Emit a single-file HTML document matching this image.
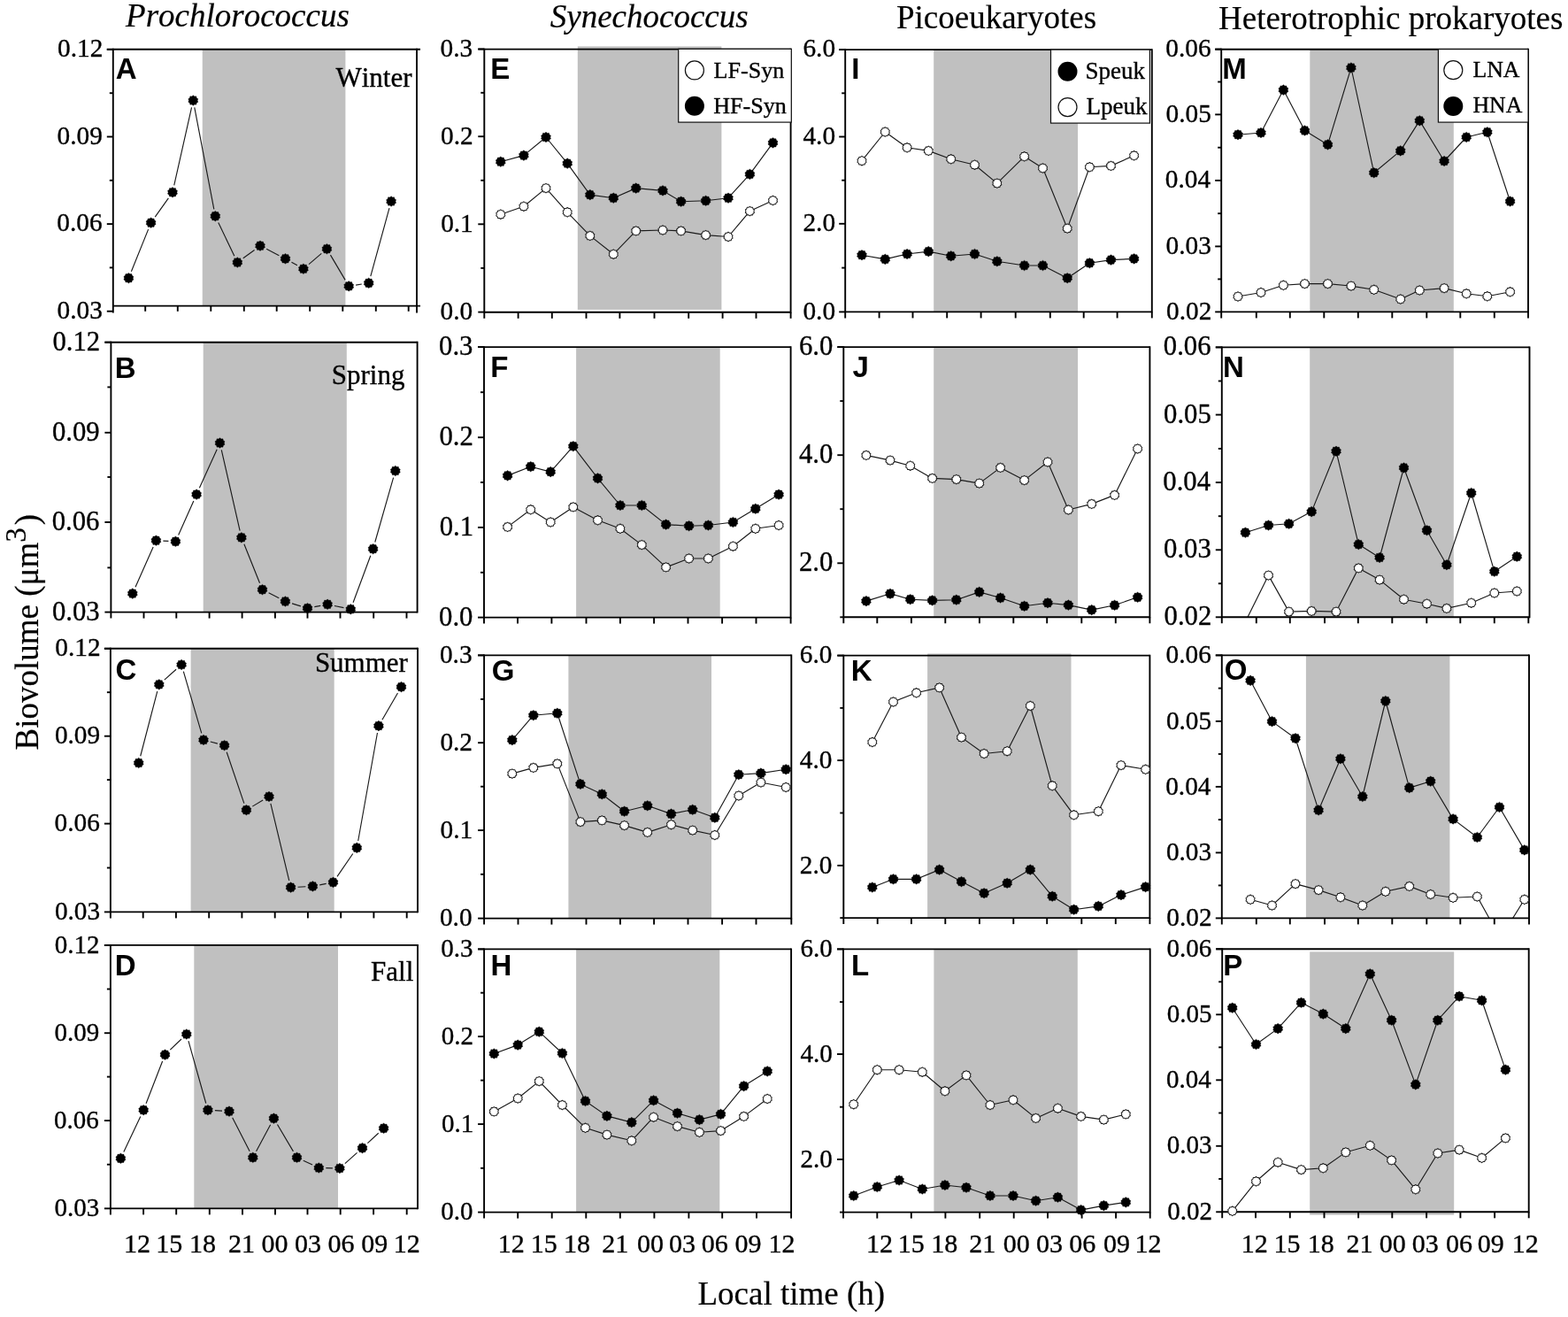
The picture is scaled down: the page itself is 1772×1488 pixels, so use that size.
<!DOCTYPE html>
<html><head><meta charset="utf-8"><title>Biovolume diel variation</title>
<style>html,body{margin:0;padding:0;background:#fff;}svg{display:block;font-kerning:none;}
.s{font-family:'Liberation Serif','Times New Roman',serif;stroke:#000;stroke-width:0.35;}
.i{font-style:italic;}
.n{stroke-width:0.2;}
.b{font-family:'Liberation Sans',Arial,sans-serif;font-weight:bold;}</style></head>
<body><svg width="1772" height="1488" viewBox="0 0 1772 1488">
<rect width="1772" height="1488" fill="#fff"/>
<rect x="228.75" y="55.8" width="161.65" height="289.8" fill="#c0c0c0"/>
<clipPath id="cA"><rect x="127.8" y="55.8" width="343.2" height="289.8"/></clipPath>
<path d="M148.39 306.78L167.61 259.12M175.23 245.17L190.37 223.83M196.75 209.49L216.55 121.31M219.8 121.36L241.8 236.34M246.75 251.42L264.85 289.28M274.76 291.78L287.54 282.42M301.12 281.35L315.38 288.65M329.48 296.22L335.92 299.83M349 298.57L363.3 286.43M373.46 288.14L390.14 316.41M402.1 322.07L408.8 321.03M418.82 312.09L439.98 235.21" stroke="#1a1a1a" stroke-width="1.15" fill="none" clip-path="url(#cA)"/>
<line x1="120.8" y1="55.8" x2="475" y2="55.8" stroke="#000" stroke-width="1.9" stroke-linecap="butt"/>
<line x1="127.8" y1="54.85" x2="127.8" y2="353.6" stroke="#000" stroke-width="1.9" stroke-linecap="butt"/>
<line x1="471" y1="54.85" x2="471" y2="353.6" stroke="#000" stroke-width="1.9" stroke-linecap="butt"/>
<line x1="127.8" y1="345.6" x2="475" y2="345.6" stroke="#000" stroke-width="1.9" stroke-linecap="butt"/>
<line x1="120.8" y1="55.9" x2="127.8" y2="55.9" stroke="#000" stroke-width="1.9" stroke-linecap="butt"/>
<text class="s" x="65.04" y="64.2" font-size="29.3">0.12</text>
<line x1="120.8" y1="154.5" x2="127.8" y2="154.5" stroke="#000" stroke-width="1.9" stroke-linecap="butt"/>
<text class="s" x="64.6" y="162.8" font-size="29.3">0.09</text>
<line x1="120.8" y1="253.1" x2="127.8" y2="253.1" stroke="#000" stroke-width="1.9" stroke-linecap="butt"/>
<text class="s" x="64.3" y="261.4" font-size="29.3">0.06</text>
<line x1="120.8" y1="351.7" x2="127.8" y2="351.7" stroke="#000" stroke-width="1.9" stroke-linecap="butt"/>
<text class="s" x="64.6" y="360" font-size="29.3">0.03</text>
<line x1="123.8" y1="105.2" x2="127.8" y2="105.2" stroke="#000" stroke-width="1.9" stroke-linecap="butt"/>
<line x1="123.8" y1="203.8" x2="127.8" y2="203.8" stroke="#000" stroke-width="1.9" stroke-linecap="butt"/>
<line x1="123.8" y1="302.4" x2="127.8" y2="302.4" stroke="#000" stroke-width="1.9" stroke-linecap="butt"/>
<line x1="164.2" y1="345.6" x2="164.2" y2="351.8" stroke="#000" stroke-width="1.9" stroke-linecap="butt"/>
<line x1="200.8" y1="345.6" x2="200.8" y2="351.8" stroke="#000" stroke-width="1.9" stroke-linecap="butt"/>
<line x1="238.3" y1="345.6" x2="238.3" y2="351.8" stroke="#000" stroke-width="1.9" stroke-linecap="butt"/>
<line x1="275.8" y1="345.6" x2="275.8" y2="351.8" stroke="#000" stroke-width="1.9" stroke-linecap="butt"/>
<line x1="312.7" y1="345.6" x2="312.7" y2="351.8" stroke="#000" stroke-width="1.9" stroke-linecap="butt"/>
<line x1="350.2" y1="345.6" x2="350.2" y2="351.8" stroke="#000" stroke-width="1.9" stroke-linecap="butt"/>
<line x1="387.3" y1="345.6" x2="387.3" y2="351.8" stroke="#000" stroke-width="1.9" stroke-linecap="butt"/>
<line x1="424.8" y1="345.6" x2="424.8" y2="351.8" stroke="#000" stroke-width="1.9" stroke-linecap="butt"/>
<line x1="461.7" y1="345.6" x2="461.7" y2="351.8" stroke="#000" stroke-width="1.9" stroke-linecap="butt"/>
<path d="M145.4 308.4l1.5 1.19 1.91 -0.08 0.51 1.84 1.59 1.06 -0.67 1.79 0.67 1.79 -1.59 1.06 -0.51 1.84 -1.91 -0.08 -1.5 1.19 -1.5 -1.19 -1.91 0.08 -0.51 -1.84 -1.59 -1.06 0.67 -1.79 -0.67 -1.79 1.59 -1.06 0.51 -1.84 1.91 0.08zM170.6 245.9l1.5 1.19 1.91 -0.08 0.51 1.84 1.59 1.06 -0.67 1.79 0.67 1.79 -1.59 1.06 -0.51 1.84 -1.91 -0.08 -1.5 1.19 -1.5 -1.19 -1.91 0.08 -0.51 -1.84 -1.59 -1.06 0.67 -1.79 -0.67 -1.79 1.59 -1.06 0.51 -1.84 1.91 0.08zM195 211.5l1.5 1.19 1.91 -0.08 0.51 1.84 1.59 1.06 -0.67 1.79 0.67 1.79 -1.59 1.06 -0.51 1.84 -1.91 -0.08 -1.5 1.19 -1.5 -1.19 -1.91 0.08 -0.51 -1.84 -1.59 -1.06 0.67 -1.79 -0.67 -1.79 1.59 -1.06 0.51 -1.84 1.91 0.08zM218.3 107.7l1.5 1.19 1.91 -0.08 0.51 1.84 1.59 1.06 -0.67 1.79 0.67 1.79 -1.59 1.06 -0.51 1.84 -1.91 -0.08 -1.5 1.19 -1.5 -1.19 -1.91 0.08 -0.51 -1.84 -1.59 -1.06 0.67 -1.79 -0.67 -1.79 1.59 -1.06 0.51 -1.84 1.91 0.08zM243.3 238.4l1.5 1.19 1.91 -0.08 0.51 1.84 1.59 1.06 -0.67 1.79 0.67 1.79 -1.59 1.06 -0.51 1.84 -1.91 -0.08 -1.5 1.19 -1.5 -1.19 -1.91 0.08 -0.51 -1.84 -1.59 -1.06 0.67 -1.79 -0.67 -1.79 1.59 -1.06 0.51 -1.84 1.91 0.08zM268.3 290.7l1.5 1.19 1.91 -0.08 0.51 1.84 1.59 1.06 -0.67 1.79 0.67 1.79 -1.59 1.06 -0.51 1.84 -1.91 -0.08 -1.5 1.19 -1.5 -1.19 -1.91 0.08 -0.51 -1.84 -1.59 -1.06 0.67 -1.79 -0.67 -1.79 1.59 -1.06 0.51 -1.84 1.91 0.08zM294 271.9l1.5 1.19 1.91 -0.08 0.51 1.84 1.59 1.06 -0.67 1.79 0.67 1.79 -1.59 1.06 -0.51 1.84 -1.91 -0.08 -1.5 1.19 -1.5 -1.19 -1.91 0.08 -0.51 -1.84 -1.59 -1.06 0.67 -1.79 -0.67 -1.79 1.59 -1.06 0.51 -1.84 1.91 0.08zM322.5 286.5l1.5 1.19 1.91 -0.08 0.51 1.84 1.59 1.06 -0.67 1.79 0.67 1.79 -1.59 1.06 -0.51 1.84 -1.91 -0.08 -1.5 1.19 -1.5 -1.19 -1.91 0.08 -0.51 -1.84 -1.59 -1.06 0.67 -1.79 -0.67 -1.79 1.59 -1.06 0.51 -1.84 1.91 0.08zM342.9 297.95l1.5 1.19 1.91 -0.08 0.51 1.84 1.59 1.06 -0.67 1.79 0.67 1.79 -1.59 1.06 -0.51 1.84 -1.91 -0.08 -1.5 1.19 -1.5 -1.19 -1.91 0.08 -0.51 -1.84 -1.59 -1.06 0.67 -1.79 -0.67 -1.79 1.59 -1.06 0.51 -1.84 1.91 0.08zM369.4 275.45l1.5 1.19 1.91 -0.08 0.51 1.84 1.59 1.06 -0.67 1.79 0.67 1.79 -1.59 1.06 -0.51 1.84 -1.91 -0.08 -1.5 1.19 -1.5 -1.19 -1.91 0.08 -0.51 -1.84 -1.59 -1.06 0.67 -1.79 -0.67 -1.79 1.59 -1.06 0.51 -1.84 1.91 0.08zM394.2 317.5l1.5 1.19 1.91 -0.08 0.51 1.84 1.59 1.06 -0.67 1.79 0.67 1.79 -1.59 1.06 -0.51 1.84 -1.91 -0.08 -1.5 1.19 -1.5 -1.19 -1.91 0.08 -0.51 -1.84 -1.59 -1.06 0.67 -1.79 -0.67 -1.79 1.59 -1.06 0.51 -1.84 1.91 0.08zM416.7 314l1.5 1.19 1.91 -0.08 0.51 1.84 1.59 1.06 -0.67 1.79 0.67 1.79 -1.59 1.06 -0.51 1.84 -1.91 -0.08 -1.5 1.19 -1.5 -1.19 -1.91 0.08 -0.51 -1.84 -1.59 -1.06 0.67 -1.79 -0.67 -1.79 1.59 -1.06 0.51 -1.84 1.91 0.08zM442.1 221.7l1.5 1.19 1.91 -0.08 0.51 1.84 1.59 1.06 -0.67 1.79 0.67 1.79 -1.59 1.06 -0.51 1.84 -1.91 -0.08 -1.5 1.19 -1.5 -1.19 -1.91 0.08 -0.51 -1.84 -1.59 -1.06 0.67 -1.79 -0.67 -1.79 1.59 -1.06 0.51 -1.84 1.91 0.08z" fill="#000" stroke="#000" stroke-width="0.4" stroke-linejoin="round"/>
<text class="b" x="130.68" y="88.9" font-size="33">A</text>
<text class="s" x="379.4" y="98.3" font-size="31">Winter</text>
<rect x="229.7" y="386.7" width="162.1" height="304.9" fill="#c0c0c0"/>
<clipPath id="cB"><rect x="125.4" y="386.7" width="346.2" height="304.9"/></clipPath>
<path d="M153.05 663.29L173.15 618.01M184.39 611.1L190.41 611.4M201.66 604.49L218.84 565.91M225.41 551.32L245.19 507.78M250.28 508.3L271.12 599.6M275.88 614.82L293.52 658.78M303.62 669.85L315.28 675.85M330.05 681.85L339.85 684.85M355.35 685.67L362.25 684.33M377.93 684.44L388.47 686.66M399.09 680.8L418.81 627.7M423.8 612.51L444.6 539.69" stroke="#1a1a1a" stroke-width="1.15" fill="none" clip-path="url(#cB)"/>
<line x1="118.4" y1="386.7" x2="471.6" y2="386.7" stroke="#000" stroke-width="1.9" stroke-linecap="butt"/>
<line x1="125.4" y1="385.75" x2="125.4" y2="698.6" stroke="#000" stroke-width="1.9" stroke-linecap="butt"/>
<line x1="471.6" y1="385.75" x2="471.6" y2="692.55" stroke="#000" stroke-width="1.9" stroke-linecap="butt"/>
<line x1="125.4" y1="691.6" x2="471.6" y2="691.6" stroke="#000" stroke-width="1.9" stroke-linecap="butt"/>
<line x1="118.4" y1="386.7" x2="125.4" y2="386.7" stroke="#000" stroke-width="1.9" stroke-linecap="butt"/>
<text class="s" x="59.46" y="395.7" font-size="30.7">0.12</text>
<line x1="118.4" y1="488.8" x2="125.4" y2="488.8" stroke="#000" stroke-width="1.9" stroke-linecap="butt"/>
<text class="s" x="59" y="497.8" font-size="30.7">0.09</text>
<line x1="118.4" y1="590" x2="125.4" y2="590" stroke="#000" stroke-width="1.9" stroke-linecap="butt"/>
<text class="s" x="58.7" y="599" font-size="30.7">0.06</text>
<line x1="118.4" y1="691.6" x2="125.4" y2="691.6" stroke="#000" stroke-width="1.9" stroke-linecap="butt"/>
<text class="s" x="59" y="700.6" font-size="30.7">0.03</text>
<line x1="121.4" y1="437.4" x2="125.4" y2="437.4" stroke="#000" stroke-width="1.9" stroke-linecap="butt"/>
<line x1="121.4" y1="539" x2="125.4" y2="539" stroke="#000" stroke-width="1.9" stroke-linecap="butt"/>
<line x1="121.4" y1="641.4" x2="125.4" y2="641.4" stroke="#000" stroke-width="1.9" stroke-linecap="butt"/>
<line x1="162.5" y1="691.6" x2="162.5" y2="698.6" stroke="#000" stroke-width="1.9" stroke-linecap="butt"/>
<line x1="199.3" y1="691.6" x2="199.3" y2="698.6" stroke="#000" stroke-width="1.9" stroke-linecap="butt"/>
<line x1="236.6" y1="691.6" x2="236.6" y2="698.6" stroke="#000" stroke-width="1.9" stroke-linecap="butt"/>
<line x1="273.6" y1="691.6" x2="273.6" y2="698.6" stroke="#000" stroke-width="1.9" stroke-linecap="butt"/>
<line x1="310.9" y1="691.6" x2="310.9" y2="698.6" stroke="#000" stroke-width="1.9" stroke-linecap="butt"/>
<line x1="347.5" y1="691.6" x2="347.5" y2="698.6" stroke="#000" stroke-width="1.9" stroke-linecap="butt"/>
<line x1="384.5" y1="691.6" x2="384.5" y2="698.6" stroke="#000" stroke-width="1.9" stroke-linecap="butt"/>
<line x1="422.2" y1="691.6" x2="422.2" y2="698.6" stroke="#000" stroke-width="1.9" stroke-linecap="butt"/>
<line x1="459.5" y1="691.6" x2="459.5" y2="698.6" stroke="#000" stroke-width="1.9" stroke-linecap="butt"/>
<path d="M149.8 664.8l1.5 1.19 1.91 -0.08 0.51 1.84 1.59 1.06 -0.67 1.79 0.67 1.79 -1.59 1.06 -0.51 1.84 -1.91 -0.08 -1.5 1.19 -1.5 -1.19 -1.91 0.08 -0.51 -1.84 -1.59 -1.06 0.67 -1.79 -0.67 -1.79 1.59 -1.06 0.51 -1.84 1.91 0.08zM176.4 604.9l1.5 1.19 1.91 -0.08 0.51 1.84 1.59 1.06 -0.67 1.79 0.67 1.79 -1.59 1.06 -0.51 1.84 -1.91 -0.08 -1.5 1.19 -1.5 -1.19 -1.91 0.08 -0.51 -1.84 -1.59 -1.06 0.67 -1.79 -0.67 -1.79 1.59 -1.06 0.51 -1.84 1.91 0.08zM198.4 606l1.5 1.19 1.91 -0.08 0.51 1.84 1.59 1.06 -0.67 1.79 0.67 1.79 -1.59 1.06 -0.51 1.84 -1.91 -0.08 -1.5 1.19 -1.5 -1.19 -1.91 0.08 -0.51 -1.84 -1.59 -1.06 0.67 -1.79 -0.67 -1.79 1.59 -1.06 0.51 -1.84 1.91 0.08zM222.1 552.8l1.5 1.19 1.91 -0.08 0.51 1.84 1.59 1.06 -0.67 1.79 0.67 1.79 -1.59 1.06 -0.51 1.84 -1.91 -0.08 -1.5 1.19 -1.5 -1.19 -1.91 0.08 -0.51 -1.84 -1.59 -1.06 0.67 -1.79 -0.67 -1.79 1.59 -1.06 0.51 -1.84 1.91 0.08zM248.5 494.7l1.5 1.19 1.91 -0.08 0.51 1.84 1.59 1.06 -0.67 1.79 0.67 1.79 -1.59 1.06 -0.51 1.84 -1.91 -0.08 -1.5 1.19 -1.5 -1.19 -1.91 0.08 -0.51 -1.84 -1.59 -1.06 0.67 -1.79 -0.67 -1.79 1.59 -1.06 0.51 -1.84 1.91 0.08zM272.9 601.6l1.5 1.19 1.91 -0.08 0.51 1.84 1.59 1.06 -0.67 1.79 0.67 1.79 -1.59 1.06 -0.51 1.84 -1.91 -0.08 -1.5 1.19 -1.5 -1.19 -1.91 0.08 -0.51 -1.84 -1.59 -1.06 0.67 -1.79 -0.67 -1.79 1.59 -1.06 0.51 -1.84 1.91 0.08zM296.5 660.4l1.5 1.19 1.91 -0.08 0.51 1.84 1.59 1.06 -0.67 1.79 0.67 1.79 -1.59 1.06 -0.51 1.84 -1.91 -0.08 -1.5 1.19 -1.5 -1.19 -1.91 0.08 -0.51 -1.84 -1.59 -1.06 0.67 -1.79 -0.67 -1.79 1.59 -1.06 0.51 -1.84 1.91 0.08zM322.4 673.7l1.5 1.19 1.91 -0.08 0.51 1.84 1.59 1.06 -0.67 1.79 0.67 1.79 -1.59 1.06 -0.51 1.84 -1.91 -0.08 -1.5 1.19 -1.5 -1.19 -1.91 0.08 -0.51 -1.84 -1.59 -1.06 0.67 -1.79 -0.67 -1.79 1.59 -1.06 0.51 -1.84 1.91 0.08zM347.5 681.4l1.5 1.19 1.91 -0.08 0.51 1.84 1.59 1.06 -0.67 1.79 0.67 1.79 -1.59 1.06 -0.51 1.84 -1.91 -0.08 -1.5 1.19 -1.5 -1.19 -1.91 0.08 -0.51 -1.84 -1.59 -1.06 0.67 -1.79 -0.67 -1.79 1.59 -1.06 0.51 -1.84 1.91 0.08zM370.1 677l1.5 1.19 1.91 -0.08 0.51 1.84 1.59 1.06 -0.67 1.79 0.67 1.79 -1.59 1.06 -0.51 1.84 -1.91 -0.08 -1.5 1.19 -1.5 -1.19 -1.91 0.08 -0.51 -1.84 -1.59 -1.06 0.67 -1.79 -0.67 -1.79 1.59 -1.06 0.51 -1.84 1.91 0.08zM396.3 682.5l1.5 1.19 1.91 -0.08 0.51 1.84 1.59 1.06 -0.67 1.79 0.67 1.79 -1.59 1.06 -0.51 1.84 -1.91 -0.08 -1.5 1.19 -1.5 -1.19 -1.91 0.08 -0.51 -1.84 -1.59 -1.06 0.67 -1.79 -0.67 -1.79 1.59 -1.06 0.51 -1.84 1.91 0.08zM421.6 614.4l1.5 1.19 1.91 -0.08 0.51 1.84 1.59 1.06 -0.67 1.79 0.67 1.79 -1.59 1.06 -0.51 1.84 -1.91 -0.08 -1.5 1.19 -1.5 -1.19 -1.91 0.08 -0.51 -1.84 -1.59 -1.06 0.67 -1.79 -0.67 -1.79 1.59 -1.06 0.51 -1.84 1.91 0.08zM446.8 526.2l1.5 1.19 1.91 -0.08 0.51 1.84 1.59 1.06 -0.67 1.79 0.67 1.79 -1.59 1.06 -0.51 1.84 -1.91 -0.08 -1.5 1.19 -1.5 -1.19 -1.91 0.08 -0.51 -1.84 -1.59 -1.06 0.67 -1.79 -0.67 -1.79 1.59 -1.06 0.51 -1.84 1.91 0.08z" fill="#000" stroke="#000" stroke-width="0.4" stroke-linejoin="round"/>
<text class="b" x="129.75" y="426.5" font-size="33">B</text>
<text class="s" x="374.79" y="434.3" font-size="31">Spring</text>
<rect x="215.6" y="732.8" width="162.1" height="297.6" fill="#c0c0c0"/>
<clipPath id="cC"><rect x="124.9" y="732.8" width="347.1" height="297.6"/></clipPath>
<path d="M158.72 854.26L177.78 781.14M185.79 768.1L199.11 756.3M207.35 758.68L227.75 828.32M237.74 838.03L245.86 840.17M256.17 849.77L275.83 907.63M285.28 911.12L297.12 904.08M305.87 907.78L326.73 994.82M336.59 1002.21L345.41 1001.79M361.25 999.87L368.65 998.43M381.03 990.31L398.77 964.49M404.71 950.02L426.49 827.98M431.92 813.19L449.48 783.01" stroke="#1a1a1a" stroke-width="1.15" fill="none" clip-path="url(#cC)"/>
<line x1="117.9" y1="732.8" x2="472" y2="732.8" stroke="#000" stroke-width="1.9" stroke-linecap="butt"/>
<line x1="124.9" y1="731.85" x2="124.9" y2="1037.4" stroke="#000" stroke-width="1.9" stroke-linecap="butt"/>
<line x1="472" y1="731.85" x2="472" y2="1031.35" stroke="#000" stroke-width="1.9" stroke-linecap="butt"/>
<line x1="124.9" y1="1030.4" x2="472" y2="1030.4" stroke="#000" stroke-width="1.9" stroke-linecap="butt"/>
<line x1="117.9" y1="732.8" x2="124.9" y2="732.8" stroke="#000" stroke-width="1.9" stroke-linecap="butt"/>
<text class="s" x="62.34" y="741.4" font-size="29.3">0.12</text>
<line x1="117.9" y1="831.7" x2="124.9" y2="831.7" stroke="#000" stroke-width="1.9" stroke-linecap="butt"/>
<text class="s" x="61.9" y="840.3" font-size="29.3">0.09</text>
<line x1="117.9" y1="930.6" x2="124.9" y2="930.6" stroke="#000" stroke-width="1.9" stroke-linecap="butt"/>
<text class="s" x="61.6" y="939.2" font-size="29.3">0.06</text>
<line x1="117.9" y1="1030.4" x2="124.9" y2="1030.4" stroke="#000" stroke-width="1.9" stroke-linecap="butt"/>
<text class="s" x="61.9" y="1039" font-size="29.3">0.03</text>
<line x1="120.9" y1="782.2" x2="124.9" y2="782.2" stroke="#000" stroke-width="1.9" stroke-linecap="butt"/>
<line x1="120.9" y1="881.1" x2="124.9" y2="881.1" stroke="#000" stroke-width="1.9" stroke-linecap="butt"/>
<line x1="120.9" y1="980.5" x2="124.9" y2="980.5" stroke="#000" stroke-width="1.9" stroke-linecap="butt"/>
<line x1="161.7" y1="1030.4" x2="161.7" y2="1037.4" stroke="#000" stroke-width="1.9" stroke-linecap="butt"/>
<line x1="198.9" y1="1030.4" x2="198.9" y2="1037.4" stroke="#000" stroke-width="1.9" stroke-linecap="butt"/>
<line x1="236.2" y1="1030.4" x2="236.2" y2="1037.4" stroke="#000" stroke-width="1.9" stroke-linecap="butt"/>
<line x1="273.4" y1="1030.4" x2="273.4" y2="1037.4" stroke="#000" stroke-width="1.9" stroke-linecap="butt"/>
<line x1="310.7" y1="1030.4" x2="310.7" y2="1037.4" stroke="#000" stroke-width="1.9" stroke-linecap="butt"/>
<line x1="347.9" y1="1030.4" x2="347.9" y2="1037.4" stroke="#000" stroke-width="1.9" stroke-linecap="butt"/>
<line x1="385.2" y1="1030.4" x2="385.2" y2="1037.4" stroke="#000" stroke-width="1.9" stroke-linecap="butt"/>
<line x1="422.4" y1="1030.4" x2="422.4" y2="1037.4" stroke="#000" stroke-width="1.9" stroke-linecap="butt"/>
<line x1="459.7" y1="1030.4" x2="459.7" y2="1037.4" stroke="#000" stroke-width="1.9" stroke-linecap="butt"/>
<path d="M156.7 856.2l1.5 1.19 1.91 -0.08 0.51 1.84 1.59 1.06 -0.67 1.79 0.67 1.79 -1.59 1.06 -0.51 1.84 -1.91 -0.08 -1.5 1.19 -1.5 -1.19 -1.91 0.08 -0.51 -1.84 -1.59 -1.06 0.67 -1.79 -0.67 -1.79 1.59 -1.06 0.51 -1.84 1.91 0.08zM179.8 767.6l1.5 1.19 1.91 -0.08 0.51 1.84 1.59 1.06 -0.67 1.79 0.67 1.79 -1.59 1.06 -0.51 1.84 -1.91 -0.08 -1.5 1.19 -1.5 -1.19 -1.91 0.08 -0.51 -1.84 -1.59 -1.06 0.67 -1.79 -0.67 -1.79 1.59 -1.06 0.51 -1.84 1.91 0.08zM205.1 745.2l1.5 1.19 1.91 -0.08 0.51 1.84 1.59 1.06 -0.67 1.79 0.67 1.79 -1.59 1.06 -0.51 1.84 -1.91 -0.08 -1.5 1.19 -1.5 -1.19 -1.91 0.08 -0.51 -1.84 -1.59 -1.06 0.67 -1.79 -0.67 -1.79 1.59 -1.06 0.51 -1.84 1.91 0.08zM230 830.2l1.5 1.19 1.91 -0.08 0.51 1.84 1.59 1.06 -0.67 1.79 0.67 1.79 -1.59 1.06 -0.51 1.84 -1.91 -0.08 -1.5 1.19 -1.5 -1.19 -1.91 0.08 -0.51 -1.84 -1.59 -1.06 0.67 -1.79 -0.67 -1.79 1.59 -1.06 0.51 -1.84 1.91 0.08zM253.6 836.4l1.5 1.19 1.91 -0.08 0.51 1.84 1.59 1.06 -0.67 1.79 0.67 1.79 -1.59 1.06 -0.51 1.84 -1.91 -0.08 -1.5 1.19 -1.5 -1.19 -1.91 0.08 -0.51 -1.84 -1.59 -1.06 0.67 -1.79 -0.67 -1.79 1.59 -1.06 0.51 -1.84 1.91 0.08zM278.4 909.4l1.5 1.19 1.91 -0.08 0.51 1.84 1.59 1.06 -0.67 1.79 0.67 1.79 -1.59 1.06 -0.51 1.84 -1.91 -0.08 -1.5 1.19 -1.5 -1.19 -1.91 0.08 -0.51 -1.84 -1.59 -1.06 0.67 -1.79 -0.67 -1.79 1.59 -1.06 0.51 -1.84 1.91 0.08zM304 894.2l1.5 1.19 1.91 -0.08 0.51 1.84 1.59 1.06 -0.67 1.79 0.67 1.79 -1.59 1.06 -0.51 1.84 -1.91 -0.08 -1.5 1.19 -1.5 -1.19 -1.91 0.08 -0.51 -1.84 -1.59 -1.06 0.67 -1.79 -0.67 -1.79 1.59 -1.06 0.51 -1.84 1.91 0.08zM328.6 996.8l1.5 1.19 1.91 -0.08 0.51 1.84 1.59 1.06 -0.67 1.79 0.67 1.79 -1.59 1.06 -0.51 1.84 -1.91 -0.08 -1.5 1.19 -1.5 -1.19 -1.91 0.08 -0.51 -1.84 -1.59 -1.06 0.67 -1.79 -0.67 -1.79 1.59 -1.06 0.51 -1.84 1.91 0.08zM353.4 995.6l1.5 1.19 1.91 -0.08 0.51 1.84 1.59 1.06 -0.67 1.79 0.67 1.79 -1.59 1.06 -0.51 1.84 -1.91 -0.08 -1.5 1.19 -1.5 -1.19 -1.91 0.08 -0.51 -1.84 -1.59 -1.06 0.67 -1.79 -0.67 -1.79 1.59 -1.06 0.51 -1.84 1.91 0.08zM376.5 991.1l1.5 1.19 1.91 -0.08 0.51 1.84 1.59 1.06 -0.67 1.79 0.67 1.79 -1.59 1.06 -0.51 1.84 -1.91 -0.08 -1.5 1.19 -1.5 -1.19 -1.91 0.08 -0.51 -1.84 -1.59 -1.06 0.67 -1.79 -0.67 -1.79 1.59 -1.06 0.51 -1.84 1.91 0.08zM403.3 952.1l1.5 1.19 1.91 -0.08 0.51 1.84 1.59 1.06 -0.67 1.79 0.67 1.79 -1.59 1.06 -0.51 1.84 -1.91 -0.08 -1.5 1.19 -1.5 -1.19 -1.91 0.08 -0.51 -1.84 -1.59 -1.06 0.67 -1.79 -0.67 -1.79 1.59 -1.06 0.51 -1.84 1.91 0.08zM427.9 814.3l1.5 1.19 1.91 -0.08 0.51 1.84 1.59 1.06 -0.67 1.79 0.67 1.79 -1.59 1.06 -0.51 1.84 -1.91 -0.08 -1.5 1.19 -1.5 -1.19 -1.91 0.08 -0.51 -1.84 -1.59 -1.06 0.67 -1.79 -0.67 -1.79 1.59 -1.06 0.51 -1.84 1.91 0.08zM453.5 770.3l1.5 1.19 1.91 -0.08 0.51 1.84 1.59 1.06 -0.67 1.79 0.67 1.79 -1.59 1.06 -0.51 1.84 -1.91 -0.08 -1.5 1.19 -1.5 -1.19 -1.91 0.08 -0.51 -1.84 -1.59 -1.06 0.67 -1.79 -0.67 -1.79 1.59 -1.06 0.51 -1.84 1.91 0.08z" fill="#000" stroke="#000" stroke-width="0.4" stroke-linejoin="round"/>
<text class="b" x="130.58" y="768.4" font-size="33">C</text>
<text class="s" x="355.88" y="759.2" font-size="31">Summer</text>
<rect x="219.3" y="1067.9" width="162.7" height="297.5" fill="#c0c0c0"/>
<clipPath id="cD"><rect x="124.9" y="1067.9" width="347.1" height="297.5"/></clipPath>
<path d="M139.82 1301.57L158.78 1261.43M165.09 1246.74L183.61 1199.06M192.3 1186.09L205 1174.01M212.97 1176.2L232.73 1246.5M242.89 1254.66L251.01 1255.14M262.65 1262.72L282.15 1300.68M289.57 1300.74L305.63 1270.66M313.47 1270.49L331.43 1300.91M342.74 1311.21L353.06 1316.09M368.3 1319.67L375.9 1319.83M389.86 1314.67L403.54 1302.43M415.37 1291.67L427.73 1280.23" stroke="#1a1a1a" stroke-width="1.15" fill="none" clip-path="url(#cD)"/>
<line x1="117.9" y1="1067.9" x2="472" y2="1067.9" stroke="#000" stroke-width="1.9" stroke-linecap="butt"/>
<line x1="124.9" y1="1066.95" x2="124.9" y2="1372.4" stroke="#000" stroke-width="1.9" stroke-linecap="butt"/>
<line x1="472" y1="1066.95" x2="472" y2="1366.35" stroke="#000" stroke-width="1.9" stroke-linecap="butt"/>
<line x1="124.9" y1="1365.4" x2="472" y2="1365.4" stroke="#000" stroke-width="1.9" stroke-linecap="butt"/>
<line x1="117.9" y1="1067.9" x2="124.9" y2="1067.9" stroke="#000" stroke-width="1.9" stroke-linecap="butt"/>
<text class="s" x="61.84" y="1076.5" font-size="29">0.12</text>
<line x1="117.9" y1="1167.2" x2="124.9" y2="1167.2" stroke="#000" stroke-width="1.9" stroke-linecap="butt"/>
<text class="s" x="61.41" y="1175.8" font-size="29">0.09</text>
<line x1="117.9" y1="1266.1" x2="124.9" y2="1266.1" stroke="#000" stroke-width="1.9" stroke-linecap="butt"/>
<text class="s" x="61.12" y="1274.7" font-size="29">0.06</text>
<line x1="117.9" y1="1365.4" x2="124.9" y2="1365.4" stroke="#000" stroke-width="1.9" stroke-linecap="butt"/>
<text class="s" x="61.41" y="1374" font-size="29">0.03</text>
<line x1="120.9" y1="1117.5" x2="124.9" y2="1117.5" stroke="#000" stroke-width="1.9" stroke-linecap="butt"/>
<line x1="120.9" y1="1216.6" x2="124.9" y2="1216.6" stroke="#000" stroke-width="1.9" stroke-linecap="butt"/>
<line x1="120.9" y1="1315.7" x2="124.9" y2="1315.7" stroke="#000" stroke-width="1.9" stroke-linecap="butt"/>
<line x1="162.1" y1="1365.4" x2="162.1" y2="1372.4" stroke="#000" stroke-width="1.9" stroke-linecap="butt"/>
<line x1="199.2" y1="1365.4" x2="199.2" y2="1372.4" stroke="#000" stroke-width="1.9" stroke-linecap="butt"/>
<line x1="236.8" y1="1365.4" x2="236.8" y2="1372.4" stroke="#000" stroke-width="1.9" stroke-linecap="butt"/>
<line x1="274" y1="1365.4" x2="274" y2="1372.4" stroke="#000" stroke-width="1.9" stroke-linecap="butt"/>
<line x1="311" y1="1365.4" x2="311" y2="1372.4" stroke="#000" stroke-width="1.9" stroke-linecap="butt"/>
<line x1="347.5" y1="1365.4" x2="347.5" y2="1372.4" stroke="#000" stroke-width="1.9" stroke-linecap="butt"/>
<line x1="384.7" y1="1365.4" x2="384.7" y2="1372.4" stroke="#000" stroke-width="1.9" stroke-linecap="butt"/>
<line x1="422.1" y1="1365.4" x2="422.1" y2="1372.4" stroke="#000" stroke-width="1.9" stroke-linecap="butt"/>
<line x1="459.7" y1="1365.4" x2="459.7" y2="1372.4" stroke="#000" stroke-width="1.9" stroke-linecap="butt"/>
<path d="M136.4 1303l1.5 1.19 1.91 -0.08 0.51 1.84 1.59 1.06 -0.67 1.79 0.67 1.79 -1.59 1.06 -0.51 1.84 -1.91 -0.08 -1.5 1.19 -1.5 -1.19 -1.91 0.08 -0.51 -1.84 -1.59 -1.06 0.67 -1.79 -0.67 -1.79 1.59 -1.06 0.51 -1.84 1.91 0.08zM162.2 1248.4l1.5 1.19 1.91 -0.08 0.51 1.84 1.59 1.06 -0.67 1.79 0.67 1.79 -1.59 1.06 -0.51 1.84 -1.91 -0.08 -1.5 1.19 -1.5 -1.19 -1.91 0.08 -0.51 -1.84 -1.59 -1.06 0.67 -1.79 -0.67 -1.79 1.59 -1.06 0.51 -1.84 1.91 0.08zM186.5 1185.8l1.5 1.19 1.91 -0.08 0.51 1.84 1.59 1.06 -0.67 1.79 0.67 1.79 -1.59 1.06 -0.51 1.84 -1.91 -0.08 -1.5 1.19 -1.5 -1.19 -1.91 0.08 -0.51 -1.84 -1.59 -1.06 0.67 -1.79 -0.67 -1.79 1.59 -1.06 0.51 -1.84 1.91 0.08zM210.8 1162.7l1.5 1.19 1.91 -0.08 0.51 1.84 1.59 1.06 -0.67 1.79 0.67 1.79 -1.59 1.06 -0.51 1.84 -1.91 -0.08 -1.5 1.19 -1.5 -1.19 -1.91 0.08 -0.51 -1.84 -1.59 -1.06 0.67 -1.79 -0.67 -1.79 1.59 -1.06 0.51 -1.84 1.91 0.08zM234.9 1248.4l1.5 1.19 1.91 -0.08 0.51 1.84 1.59 1.06 -0.67 1.79 0.67 1.79 -1.59 1.06 -0.51 1.84 -1.91 -0.08 -1.5 1.19 -1.5 -1.19 -1.91 0.08 -0.51 -1.84 -1.59 -1.06 0.67 -1.79 -0.67 -1.79 1.59 -1.06 0.51 -1.84 1.91 0.08zM259 1249.8l1.5 1.19 1.91 -0.08 0.51 1.84 1.59 1.06 -0.67 1.79 0.67 1.79 -1.59 1.06 -0.51 1.84 -1.91 -0.08 -1.5 1.19 -1.5 -1.19 -1.91 0.08 -0.51 -1.84 -1.59 -1.06 0.67 -1.79 -0.67 -1.79 1.59 -1.06 0.51 -1.84 1.91 0.08zM285.8 1302l1.5 1.19 1.91 -0.08 0.51 1.84 1.59 1.06 -0.67 1.79 0.67 1.79 -1.59 1.06 -0.51 1.84 -1.91 -0.08 -1.5 1.19 -1.5 -1.19 -1.91 0.08 -0.51 -1.84 -1.59 -1.06 0.67 -1.79 -0.67 -1.79 1.59 -1.06 0.51 -1.84 1.91 0.08zM309.4 1257.8l1.5 1.19 1.91 -0.08 0.51 1.84 1.59 1.06 -0.67 1.79 0.67 1.79 -1.59 1.06 -0.51 1.84 -1.91 -0.08 -1.5 1.19 -1.5 -1.19 -1.91 0.08 -0.51 -1.84 -1.59 -1.06 0.67 -1.79 -0.67 -1.79 1.59 -1.06 0.51 -1.84 1.91 0.08zM335.5 1302l1.5 1.19 1.91 -0.08 0.51 1.84 1.59 1.06 -0.67 1.79 0.67 1.79 -1.59 1.06 -0.51 1.84 -1.91 -0.08 -1.5 1.19 -1.5 -1.19 -1.91 0.08 -0.51 -1.84 -1.59 -1.06 0.67 -1.79 -0.67 -1.79 1.59 -1.06 0.51 -1.84 1.91 0.08zM360.3 1313.7l1.5 1.19 1.91 -0.08 0.51 1.84 1.59 1.06 -0.67 1.79 0.67 1.79 -1.59 1.06 -0.51 1.84 -1.91 -0.08 -1.5 1.19 -1.5 -1.19 -1.91 0.08 -0.51 -1.84 -1.59 -1.06 0.67 -1.79 -0.67 -1.79 1.59 -1.06 0.51 -1.84 1.91 0.08zM383.9 1314.2l1.5 1.19 1.91 -0.08 0.51 1.84 1.59 1.06 -0.67 1.79 0.67 1.79 -1.59 1.06 -0.51 1.84 -1.91 -0.08 -1.5 1.19 -1.5 -1.19 -1.91 0.08 -0.51 -1.84 -1.59 -1.06 0.67 -1.79 -0.67 -1.79 1.59 -1.06 0.51 -1.84 1.91 0.08zM409.5 1291.3l1.5 1.19 1.91 -0.08 0.51 1.84 1.59 1.06 -0.67 1.79 0.67 1.79 -1.59 1.06 -0.51 1.84 -1.91 -0.08 -1.5 1.19 -1.5 -1.19 -1.91 0.08 -0.51 -1.84 -1.59 -1.06 0.67 -1.79 -0.67 -1.79 1.59 -1.06 0.51 -1.84 1.91 0.08zM433.6 1269l1.5 1.19 1.91 -0.08 0.51 1.84 1.59 1.06 -0.67 1.79 0.67 1.79 -1.59 1.06 -0.51 1.84 -1.91 -0.08 -1.5 1.19 -1.5 -1.19 -1.91 0.08 -0.51 -1.84 -1.59 -1.06 0.67 -1.79 -0.67 -1.79 1.59 -1.06 0.51 -1.84 1.91 0.08z" fill="#000" stroke="#000" stroke-width="0.4" stroke-linejoin="round"/>
<text class="b" x="129.75" y="1102.2" font-size="33">D</text>
<text class="s" x="419.07" y="1108.4" font-size="31">Fall</text>
<text class="s" x="139.97" y="1414.6" font-size="30">12</text>
<text class="s" x="176.15" y="1414.6" font-size="30">15</text>
<text class="s" x="213.95" y="1414.6" font-size="30">18</text>
<text class="s" x="258.12" y="1414.6" font-size="30">21</text>
<text class="s" x="295.5" y="1414.6" font-size="30">00</text>
<text class="s" x="333" y="1414.6" font-size="30">03</text>
<text class="s" x="370.45" y="1414.6" font-size="30">06</text>
<text class="s" x="408.2" y="1414.6" font-size="30">09</text>
<text class="s" x="444.78" y="1414.6" font-size="30">12</text>
<rect x="652.8" y="52.4" width="162.6" height="297.5" fill="#c0c0c0"/>
<clipPath id="cE"><rect x="547.3" y="55.6" width="346.3" height="297.2"/></clipPath>
<path d="M565.8 242.2L591.9 233.2M591.9 233.2L617 212.6M617 212.6L641.2 239.8M641.2 239.8L666.8 266.4M666.8 266.4L693.3 287.2M693.3 287.2L718.7 260.9M718.7 260.9L749 260M749 260L769.6 260.9M769.6 260.9L797.6 265.6M797.6 265.6L823 267.5M823 267.5L847.4 238.6M847.4 238.6L873.5 226.5" stroke="#1a1a1a" stroke-width="1.15" fill="none" clip-path="url(#cE)"/>
<path d="M565.8 182.7L591.9 175.6M591.9 175.6L617 155M617 155L641.2 184.6M641.2 184.6L666.8 220.1M666.8 220.1L693.3 223.7M693.3 223.7L718.7 212.6M718.7 212.6L749 215.4M749 215.4L769.6 227.7M769.6 227.7L797.6 226.8M797.6 226.8L823 223.7M823 223.7L847.4 196.9M847.4 196.9L873.5 161.4" stroke="#1a1a1a" stroke-width="1.15" fill="none" clip-path="url(#cE)"/>
<line x1="540.3" y1="55.6" x2="893.6" y2="55.6" stroke="#000" stroke-width="1.9" stroke-linecap="butt"/>
<line x1="547.3" y1="54.65" x2="547.3" y2="359.8" stroke="#000" stroke-width="1.9" stroke-linecap="butt"/>
<line x1="893.6" y1="54.65" x2="893.6" y2="353.75" stroke="#000" stroke-width="1.9" stroke-linecap="butt"/>
<line x1="547.3" y1="352.8" x2="893.6" y2="352.8" stroke="#000" stroke-width="1.9" stroke-linecap="butt"/>
<line x1="540.3" y1="55.4" x2="547.3" y2="55.4" stroke="#000" stroke-width="1.9" stroke-linecap="butt"/>
<text class="s" x="497.55" y="63.7" font-size="29.3">0.3</text>
<line x1="540.3" y1="154.2" x2="547.3" y2="154.2" stroke="#000" stroke-width="1.9" stroke-linecap="butt"/>
<text class="s" x="497.99" y="162.5" font-size="29.3">0.2</text>
<line x1="540.3" y1="253.3" x2="547.3" y2="253.3" stroke="#000" stroke-width="1.9" stroke-linecap="butt"/>
<text class="s" x="498.13" y="261.6" font-size="29.3">0.1</text>
<line x1="540.3" y1="352.6" x2="547.3" y2="352.6" stroke="#000" stroke-width="1.9" stroke-linecap="butt"/>
<text class="s" x="497.55" y="360.9" font-size="29.3">0.0</text>
<line x1="543.3" y1="104.8" x2="547.3" y2="104.8" stroke="#000" stroke-width="1.9" stroke-linecap="butt"/>
<line x1="543.3" y1="203.8" x2="547.3" y2="203.8" stroke="#000" stroke-width="1.9" stroke-linecap="butt"/>
<line x1="543.3" y1="302.9" x2="547.3" y2="302.9" stroke="#000" stroke-width="1.9" stroke-linecap="butt"/>
<line x1="585.6" y1="352.8" x2="585.6" y2="359.8" stroke="#000" stroke-width="1.9" stroke-linecap="butt"/>
<line x1="623.8" y1="352.8" x2="623.8" y2="359.8" stroke="#000" stroke-width="1.9" stroke-linecap="butt"/>
<line x1="662.5" y1="352.8" x2="662.5" y2="359.8" stroke="#000" stroke-width="1.9" stroke-linecap="butt"/>
<line x1="700.4" y1="352.8" x2="700.4" y2="359.8" stroke="#000" stroke-width="1.9" stroke-linecap="butt"/>
<line x1="739.5" y1="352.8" x2="739.5" y2="359.8" stroke="#000" stroke-width="1.9" stroke-linecap="butt"/>
<line x1="778.2" y1="352.8" x2="778.2" y2="359.8" stroke="#000" stroke-width="1.9" stroke-linecap="butt"/>
<line x1="816.6" y1="352.8" x2="816.6" y2="359.8" stroke="#000" stroke-width="1.9" stroke-linecap="butt"/>
<line x1="854.5" y1="352.8" x2="854.5" y2="359.8" stroke="#000" stroke-width="1.9" stroke-linecap="butt"/>
<line x1="893.6" y1="352.8" x2="893.6" y2="359.8" stroke="#000" stroke-width="1.9" stroke-linecap="butt"/>
<path d="M565.8 236.9l1.39 1.02 1.72 -0.01 0.53 1.64 1.4 1.01 -0.54 1.64 0.54 1.64 -1.4 1.01 -0.53 1.64 -1.72 -0.01 -1.39 1.02 -1.39 -1.02 -1.72 0.01 -0.53 -1.64 -1.4 -1.01 0.54 -1.64 -0.54 -1.64 1.4 -1.01 0.53 -1.64 1.72 0.01zM591.9 227.9l1.39 1.02 1.72 -0.01 0.53 1.64 1.4 1.01 -0.54 1.64 0.54 1.64 -1.4 1.01 -0.53 1.64 -1.72 -0.01 -1.39 1.02 -1.39 -1.02 -1.72 0.01 -0.53 -1.64 -1.4 -1.01 0.54 -1.64 -0.54 -1.64 1.4 -1.01 0.53 -1.64 1.72 0.01zM617 207.3l1.39 1.02 1.72 -0.01 0.53 1.64 1.4 1.01 -0.54 1.64 0.54 1.64 -1.4 1.01 -0.53 1.64 -1.72 -0.01 -1.39 1.02 -1.39 -1.02 -1.72 0.01 -0.53 -1.64 -1.4 -1.01 0.54 -1.64 -0.54 -1.64 1.4 -1.01 0.53 -1.64 1.72 0.01zM641.2 234.5l1.39 1.02 1.72 -0.01 0.53 1.64 1.4 1.01 -0.54 1.64 0.54 1.64 -1.4 1.01 -0.53 1.64 -1.72 -0.01 -1.39 1.02 -1.39 -1.02 -1.72 0.01 -0.53 -1.64 -1.4 -1.01 0.54 -1.64 -0.54 -1.64 1.4 -1.01 0.53 -1.64 1.72 0.01zM666.8 261.1l1.39 1.02 1.72 -0.01 0.53 1.64 1.4 1.01 -0.54 1.64 0.54 1.64 -1.4 1.01 -0.53 1.64 -1.72 -0.01 -1.39 1.02 -1.39 -1.02 -1.72 0.01 -0.53 -1.64 -1.4 -1.01 0.54 -1.64 -0.54 -1.64 1.4 -1.01 0.53 -1.64 1.72 0.01zM693.3 281.9l1.39 1.02 1.72 -0.01 0.53 1.64 1.4 1.01 -0.54 1.64 0.54 1.64 -1.4 1.01 -0.53 1.64 -1.72 -0.01 -1.39 1.02 -1.39 -1.02 -1.72 0.01 -0.53 -1.64 -1.4 -1.01 0.54 -1.64 -0.54 -1.64 1.4 -1.01 0.53 -1.64 1.72 0.01zM718.7 255.6l1.39 1.02 1.72 -0.01 0.53 1.64 1.4 1.01 -0.54 1.64 0.54 1.64 -1.4 1.01 -0.53 1.64 -1.72 -0.01 -1.39 1.02 -1.39 -1.02 -1.72 0.01 -0.53 -1.64 -1.4 -1.01 0.54 -1.64 -0.54 -1.64 1.4 -1.01 0.53 -1.64 1.72 0.01zM749 254.7l1.39 1.02 1.72 -0.01 0.53 1.64 1.4 1.01 -0.54 1.64 0.54 1.64 -1.4 1.01 -0.53 1.64 -1.72 -0.01 -1.39 1.02 -1.39 -1.02 -1.72 0.01 -0.53 -1.64 -1.4 -1.01 0.54 -1.64 -0.54 -1.64 1.4 -1.01 0.53 -1.64 1.72 0.01zM769.6 255.6l1.39 1.02 1.72 -0.01 0.53 1.64 1.4 1.01 -0.54 1.64 0.54 1.64 -1.4 1.01 -0.53 1.64 -1.72 -0.01 -1.39 1.02 -1.39 -1.02 -1.72 0.01 -0.53 -1.64 -1.4 -1.01 0.54 -1.64 -0.54 -1.64 1.4 -1.01 0.53 -1.64 1.72 0.01zM797.6 260.3l1.39 1.02 1.72 -0.01 0.53 1.64 1.4 1.01 -0.54 1.64 0.54 1.64 -1.4 1.01 -0.53 1.64 -1.72 -0.01 -1.39 1.02 -1.39 -1.02 -1.72 0.01 -0.53 -1.64 -1.4 -1.01 0.54 -1.64 -0.54 -1.64 1.4 -1.01 0.53 -1.64 1.72 0.01zM823 262.2l1.39 1.02 1.72 -0.01 0.53 1.64 1.4 1.01 -0.54 1.64 0.54 1.64 -1.4 1.01 -0.53 1.64 -1.72 -0.01 -1.39 1.02 -1.39 -1.02 -1.72 0.01 -0.53 -1.64 -1.4 -1.01 0.54 -1.64 -0.54 -1.64 1.4 -1.01 0.53 -1.64 1.72 0.01zM847.4 233.3l1.39 1.02 1.72 -0.01 0.53 1.64 1.4 1.01 -0.54 1.64 0.54 1.64 -1.4 1.01 -0.53 1.64 -1.72 -0.01 -1.39 1.02 -1.39 -1.02 -1.72 0.01 -0.53 -1.64 -1.4 -1.01 0.54 -1.64 -0.54 -1.64 1.4 -1.01 0.53 -1.64 1.72 0.01zM873.5 221.2l1.39 1.02 1.72 -0.01 0.53 1.64 1.4 1.01 -0.54 1.64 0.54 1.64 -1.4 1.01 -0.53 1.64 -1.72 -0.01 -1.39 1.02 -1.39 -1.02 -1.72 0.01 -0.53 -1.64 -1.4 -1.01 0.54 -1.64 -0.54 -1.64 1.4 -1.01 0.53 -1.64 1.72 0.01z" fill="#fff" stroke="#222" stroke-width="1.05" stroke-linejoin="round"/>
<path d="M565.8 176.9l1.5 1.19 1.91 -0.08 0.51 1.84 1.59 1.06 -0.67 1.79 0.67 1.79 -1.59 1.06 -0.51 1.84 -1.91 -0.08 -1.5 1.19 -1.5 -1.19 -1.91 0.08 -0.51 -1.84 -1.59 -1.06 0.67 -1.79 -0.67 -1.79 1.59 -1.06 0.51 -1.84 1.91 0.08zM591.9 169.8l1.5 1.19 1.91 -0.08 0.51 1.84 1.59 1.06 -0.67 1.79 0.67 1.79 -1.59 1.06 -0.51 1.84 -1.91 -0.08 -1.5 1.19 -1.5 -1.19 -1.91 0.08 -0.51 -1.84 -1.59 -1.06 0.67 -1.79 -0.67 -1.79 1.59 -1.06 0.51 -1.84 1.91 0.08zM617 149.2l1.5 1.19 1.91 -0.08 0.51 1.84 1.59 1.06 -0.67 1.79 0.67 1.79 -1.59 1.06 -0.51 1.84 -1.91 -0.08 -1.5 1.19 -1.5 -1.19 -1.91 0.08 -0.51 -1.84 -1.59 -1.06 0.67 -1.79 -0.67 -1.79 1.59 -1.06 0.51 -1.84 1.91 0.08zM641.2 178.8l1.5 1.19 1.91 -0.08 0.51 1.84 1.59 1.06 -0.67 1.79 0.67 1.79 -1.59 1.06 -0.51 1.84 -1.91 -0.08 -1.5 1.19 -1.5 -1.19 -1.91 0.08 -0.51 -1.84 -1.59 -1.06 0.67 -1.79 -0.67 -1.79 1.59 -1.06 0.51 -1.84 1.91 0.08zM666.8 214.3l1.5 1.19 1.91 -0.08 0.51 1.84 1.59 1.06 -0.67 1.79 0.67 1.79 -1.59 1.06 -0.51 1.84 -1.91 -0.08 -1.5 1.19 -1.5 -1.19 -1.91 0.08 -0.51 -1.84 -1.59 -1.06 0.67 -1.79 -0.67 -1.79 1.59 -1.06 0.51 -1.84 1.91 0.08zM693.3 217.9l1.5 1.19 1.91 -0.08 0.51 1.84 1.59 1.06 -0.67 1.79 0.67 1.79 -1.59 1.06 -0.51 1.84 -1.91 -0.08 -1.5 1.19 -1.5 -1.19 -1.91 0.08 -0.51 -1.84 -1.59 -1.06 0.67 -1.79 -0.67 -1.79 1.59 -1.06 0.51 -1.84 1.91 0.08zM718.7 206.8l1.5 1.19 1.91 -0.08 0.51 1.84 1.59 1.06 -0.67 1.79 0.67 1.79 -1.59 1.06 -0.51 1.84 -1.91 -0.08 -1.5 1.19 -1.5 -1.19 -1.91 0.08 -0.51 -1.84 -1.59 -1.06 0.67 -1.79 -0.67 -1.79 1.59 -1.06 0.51 -1.84 1.91 0.08zM749 209.6l1.5 1.19 1.91 -0.08 0.51 1.84 1.59 1.06 -0.67 1.79 0.67 1.79 -1.59 1.06 -0.51 1.84 -1.91 -0.08 -1.5 1.19 -1.5 -1.19 -1.91 0.08 -0.51 -1.84 -1.59 -1.06 0.67 -1.79 -0.67 -1.79 1.59 -1.06 0.51 -1.84 1.91 0.08zM769.6 221.9l1.5 1.19 1.91 -0.08 0.51 1.84 1.59 1.06 -0.67 1.79 0.67 1.79 -1.59 1.06 -0.51 1.84 -1.91 -0.08 -1.5 1.19 -1.5 -1.19 -1.91 0.08 -0.51 -1.84 -1.59 -1.06 0.67 -1.79 -0.67 -1.79 1.59 -1.06 0.51 -1.84 1.91 0.08zM797.6 221l1.5 1.19 1.91 -0.08 0.51 1.84 1.59 1.06 -0.67 1.79 0.67 1.79 -1.59 1.06 -0.51 1.84 -1.91 -0.08 -1.5 1.19 -1.5 -1.19 -1.91 0.08 -0.51 -1.84 -1.59 -1.06 0.67 -1.79 -0.67 -1.79 1.59 -1.06 0.51 -1.84 1.91 0.08zM823 217.9l1.5 1.19 1.91 -0.08 0.51 1.84 1.59 1.06 -0.67 1.79 0.67 1.79 -1.59 1.06 -0.51 1.84 -1.91 -0.08 -1.5 1.19 -1.5 -1.19 -1.91 0.08 -0.51 -1.84 -1.59 -1.06 0.67 -1.79 -0.67 -1.79 1.59 -1.06 0.51 -1.84 1.91 0.08zM847.4 191.1l1.5 1.19 1.91 -0.08 0.51 1.84 1.59 1.06 -0.67 1.79 0.67 1.79 -1.59 1.06 -0.51 1.84 -1.91 -0.08 -1.5 1.19 -1.5 -1.19 -1.91 0.08 -0.51 -1.84 -1.59 -1.06 0.67 -1.79 -0.67 -1.79 1.59 -1.06 0.51 -1.84 1.91 0.08zM873.5 155.6l1.5 1.19 1.91 -0.08 0.51 1.84 1.59 1.06 -0.67 1.79 0.67 1.79 -1.59 1.06 -0.51 1.84 -1.91 -0.08 -1.5 1.19 -1.5 -1.19 -1.91 0.08 -0.51 -1.84 -1.59 -1.06 0.67 -1.79 -0.67 -1.79 1.59 -1.06 0.51 -1.84 1.91 0.08z" fill="#000" stroke="#000" stroke-width="0.4" stroke-linejoin="round"/>
<text class="b" x="554.15" y="88.6" font-size="33">E</text>
<rect x="766.7" y="55.3" width="127.6" height="82.8" fill="#fff" stroke="#111" stroke-width="1.2"/>
<circle cx="784.9" cy="79.4" r="10.5" fill="#fff" stroke="#111" stroke-width="1.2"/>
<text class="s" x="806.62" y="87.7" font-size="26.1">LF-Syn</text>
<circle cx="784.9" cy="119.7" r="11" fill="#000"/>
<text class="s" x="806.22" y="127.6" font-size="26.1">HF-Syn</text>
<rect x="651.1" y="392.1" width="162.6" height="305.5" fill="#c0c0c0"/>
<clipPath id="cF"><rect x="547" y="392.1" width="346.6" height="305.5"/></clipPath>
<path d="M573.6 595.4L599.7 575.8M599.7 575.8L622.2 590M622.2 590L647.8 572.9M647.8 572.9L675.5 587.8M675.5 587.8L700.9 597.3M700.9 597.3L725.3 615.6M725.3 615.6L752.6 640.9M752.6 640.9L778.6 631M778.6 631L800.4 631M800.4 631L828.4 617.2M828.4 617.2L853.8 597.3M853.8 597.3L880.1 593.5" stroke="#1a1a1a" stroke-width="1.15" fill="none" clip-path="url(#cF)"/>
<path d="M573.6 537.4L599.7 527.2M599.7 527.2L622.2 533.1M622.2 533.1L647.8 504.2M647.8 504.2L675.5 540.4M675.5 540.4L700.9 571M700.9 571L725.3 571M725.3 571L752.6 592.6M752.6 592.6L778.6 594.2M778.6 594.2L800.4 593.5M800.4 593.5L828.4 590M828.4 590L853.8 574.8M853.8 574.8L880.1 558.7" stroke="#1a1a1a" stroke-width="1.15" fill="none" clip-path="url(#cF)"/>
<line x1="540" y1="392.1" x2="893.6" y2="392.1" stroke="#000" stroke-width="1.9" stroke-linecap="butt"/>
<line x1="547" y1="391.15" x2="547" y2="704.6" stroke="#000" stroke-width="1.9" stroke-linecap="butt"/>
<line x1="893.6" y1="391.15" x2="893.6" y2="698.55" stroke="#000" stroke-width="1.9" stroke-linecap="butt"/>
<line x1="547" y1="697.6" x2="893.6" y2="697.6" stroke="#000" stroke-width="1.9" stroke-linecap="butt"/>
<line x1="540" y1="392.1" x2="547" y2="392.1" stroke="#000" stroke-width="1.9" stroke-linecap="butt"/>
<text class="s" x="496.05" y="401.1" font-size="30.7">0.3</text>
<line x1="540" y1="494.2" x2="547" y2="494.2" stroke="#000" stroke-width="1.9" stroke-linecap="butt"/>
<text class="s" x="496.51" y="503.2" font-size="30.7">0.2</text>
<line x1="540" y1="595.9" x2="547" y2="595.9" stroke="#000" stroke-width="1.9" stroke-linecap="butt"/>
<text class="s" x="496.67" y="604.9" font-size="30.7">0.1</text>
<line x1="540" y1="697.6" x2="547" y2="697.6" stroke="#000" stroke-width="1.9" stroke-linecap="butt"/>
<text class="s" x="496.05" y="706.6" font-size="30.7">0.0</text>
<line x1="543" y1="443.2" x2="547" y2="443.2" stroke="#000" stroke-width="1.9" stroke-linecap="butt"/>
<line x1="543" y1="545" x2="547" y2="545" stroke="#000" stroke-width="1.9" stroke-linecap="butt"/>
<line x1="543" y1="646.8" x2="547" y2="646.8" stroke="#000" stroke-width="1.9" stroke-linecap="butt"/>
<line x1="585" y1="697.6" x2="585" y2="704.6" stroke="#000" stroke-width="1.9" stroke-linecap="butt"/>
<line x1="623.4" y1="697.6" x2="623.4" y2="704.6" stroke="#000" stroke-width="1.9" stroke-linecap="butt"/>
<line x1="662.5" y1="697.6" x2="662.5" y2="704.6" stroke="#000" stroke-width="1.9" stroke-linecap="butt"/>
<line x1="700.9" y1="697.6" x2="700.9" y2="704.6" stroke="#000" stroke-width="1.9" stroke-linecap="butt"/>
<line x1="739.1" y1="697.6" x2="739.1" y2="704.6" stroke="#000" stroke-width="1.9" stroke-linecap="butt"/>
<line x1="777.5" y1="697.6" x2="777.5" y2="704.6" stroke="#000" stroke-width="1.9" stroke-linecap="butt"/>
<line x1="816.1" y1="697.6" x2="816.1" y2="704.6" stroke="#000" stroke-width="1.9" stroke-linecap="butt"/>
<line x1="854.5" y1="697.6" x2="854.5" y2="704.6" stroke="#000" stroke-width="1.9" stroke-linecap="butt"/>
<line x1="893.6" y1="697.6" x2="893.6" y2="704.6" stroke="#000" stroke-width="1.9" stroke-linecap="butt"/>
<path d="M573.6 590.1l1.39 1.02 1.72 -0.01 0.53 1.64 1.4 1.01 -0.54 1.64 0.54 1.64 -1.4 1.01 -0.53 1.64 -1.72 -0.01 -1.39 1.02 -1.39 -1.02 -1.72 0.01 -0.53 -1.64 -1.4 -1.01 0.54 -1.64 -0.54 -1.64 1.4 -1.01 0.53 -1.64 1.72 0.01zM599.7 570.5l1.39 1.02 1.72 -0.01 0.53 1.64 1.4 1.01 -0.54 1.64 0.54 1.64 -1.4 1.01 -0.53 1.64 -1.72 -0.01 -1.39 1.02 -1.39 -1.02 -1.72 0.01 -0.53 -1.64 -1.4 -1.01 0.54 -1.64 -0.54 -1.64 1.4 -1.01 0.53 -1.64 1.72 0.01zM622.2 584.7l1.39 1.02 1.72 -0.01 0.53 1.64 1.4 1.01 -0.54 1.64 0.54 1.64 -1.4 1.01 -0.53 1.64 -1.72 -0.01 -1.39 1.02 -1.39 -1.02 -1.72 0.01 -0.53 -1.64 -1.4 -1.01 0.54 -1.64 -0.54 -1.64 1.4 -1.01 0.53 -1.64 1.72 0.01zM647.8 567.6l1.39 1.02 1.72 -0.01 0.53 1.64 1.4 1.01 -0.54 1.64 0.54 1.64 -1.4 1.01 -0.53 1.64 -1.72 -0.01 -1.39 1.02 -1.39 -1.02 -1.72 0.01 -0.53 -1.64 -1.4 -1.01 0.54 -1.64 -0.54 -1.64 1.4 -1.01 0.53 -1.64 1.72 0.01zM675.5 582.5l1.39 1.02 1.72 -0.01 0.53 1.64 1.4 1.01 -0.54 1.64 0.54 1.64 -1.4 1.01 -0.53 1.64 -1.72 -0.01 -1.39 1.02 -1.39 -1.02 -1.72 0.01 -0.53 -1.64 -1.4 -1.01 0.54 -1.64 -0.54 -1.64 1.4 -1.01 0.53 -1.64 1.72 0.01zM700.9 592l1.39 1.02 1.72 -0.01 0.53 1.64 1.4 1.01 -0.54 1.64 0.54 1.64 -1.4 1.01 -0.53 1.64 -1.72 -0.01 -1.39 1.02 -1.39 -1.02 -1.72 0.01 -0.53 -1.64 -1.4 -1.01 0.54 -1.64 -0.54 -1.64 1.4 -1.01 0.53 -1.64 1.72 0.01zM725.3 610.3l1.39 1.02 1.72 -0.01 0.53 1.64 1.4 1.01 -0.54 1.64 0.54 1.64 -1.4 1.01 -0.53 1.64 -1.72 -0.01 -1.39 1.02 -1.39 -1.02 -1.72 0.01 -0.53 -1.64 -1.4 -1.01 0.54 -1.64 -0.54 -1.64 1.4 -1.01 0.53 -1.64 1.72 0.01zM752.6 635.6l1.39 1.02 1.72 -0.01 0.53 1.64 1.4 1.01 -0.54 1.64 0.54 1.64 -1.4 1.01 -0.53 1.64 -1.72 -0.01 -1.39 1.02 -1.39 -1.02 -1.72 0.01 -0.53 -1.64 -1.4 -1.01 0.54 -1.64 -0.54 -1.64 1.4 -1.01 0.53 -1.64 1.72 0.01zM778.6 625.7l1.39 1.02 1.72 -0.01 0.53 1.64 1.4 1.01 -0.54 1.64 0.54 1.64 -1.4 1.01 -0.53 1.64 -1.72 -0.01 -1.39 1.02 -1.39 -1.02 -1.72 0.01 -0.53 -1.64 -1.4 -1.01 0.54 -1.64 -0.54 -1.64 1.4 -1.01 0.53 -1.64 1.72 0.01zM800.4 625.7l1.39 1.02 1.72 -0.01 0.53 1.64 1.4 1.01 -0.54 1.64 0.54 1.64 -1.4 1.01 -0.53 1.64 -1.72 -0.01 -1.39 1.02 -1.39 -1.02 -1.72 0.01 -0.53 -1.64 -1.4 -1.01 0.54 -1.64 -0.54 -1.64 1.4 -1.01 0.53 -1.64 1.72 0.01zM828.4 611.9l1.39 1.02 1.72 -0.01 0.53 1.64 1.4 1.01 -0.54 1.64 0.54 1.64 -1.4 1.01 -0.53 1.64 -1.72 -0.01 -1.39 1.02 -1.39 -1.02 -1.72 0.01 -0.53 -1.64 -1.4 -1.01 0.54 -1.64 -0.54 -1.64 1.4 -1.01 0.53 -1.64 1.72 0.01zM853.8 592l1.39 1.02 1.72 -0.01 0.53 1.64 1.4 1.01 -0.54 1.64 0.54 1.64 -1.4 1.01 -0.53 1.64 -1.72 -0.01 -1.39 1.02 -1.39 -1.02 -1.72 0.01 -0.53 -1.64 -1.4 -1.01 0.54 -1.64 -0.54 -1.64 1.4 -1.01 0.53 -1.64 1.72 0.01zM880.1 588.2l1.39 1.02 1.72 -0.01 0.53 1.64 1.4 1.01 -0.54 1.64 0.54 1.64 -1.4 1.01 -0.53 1.64 -1.72 -0.01 -1.39 1.02 -1.39 -1.02 -1.72 0.01 -0.53 -1.64 -1.4 -1.01 0.54 -1.64 -0.54 -1.64 1.4 -1.01 0.53 -1.64 1.72 0.01z" fill="#fff" stroke="#222" stroke-width="1.05" stroke-linejoin="round"/>
<path d="M573.6 531.6l1.5 1.19 1.91 -0.08 0.51 1.84 1.59 1.06 -0.67 1.79 0.67 1.79 -1.59 1.06 -0.51 1.84 -1.91 -0.08 -1.5 1.19 -1.5 -1.19 -1.91 0.08 -0.51 -1.84 -1.59 -1.06 0.67 -1.79 -0.67 -1.79 1.59 -1.06 0.51 -1.84 1.91 0.08zM599.7 521.4l1.5 1.19 1.91 -0.08 0.51 1.84 1.59 1.06 -0.67 1.79 0.67 1.79 -1.59 1.06 -0.51 1.84 -1.91 -0.08 -1.5 1.19 -1.5 -1.19 -1.91 0.08 -0.51 -1.84 -1.59 -1.06 0.67 -1.79 -0.67 -1.79 1.59 -1.06 0.51 -1.84 1.91 0.08zM622.2 527.3l1.5 1.19 1.91 -0.08 0.51 1.84 1.59 1.06 -0.67 1.79 0.67 1.79 -1.59 1.06 -0.51 1.84 -1.91 -0.08 -1.5 1.19 -1.5 -1.19 -1.91 0.08 -0.51 -1.84 -1.59 -1.06 0.67 -1.79 -0.67 -1.79 1.59 -1.06 0.51 -1.84 1.91 0.08zM647.8 498.4l1.5 1.19 1.91 -0.08 0.51 1.84 1.59 1.06 -0.67 1.79 0.67 1.79 -1.59 1.06 -0.51 1.84 -1.91 -0.08 -1.5 1.19 -1.5 -1.19 -1.91 0.08 -0.51 -1.84 -1.59 -1.06 0.67 -1.79 -0.67 -1.79 1.59 -1.06 0.51 -1.84 1.91 0.08zM675.5 534.6l1.5 1.19 1.91 -0.08 0.51 1.84 1.59 1.06 -0.67 1.79 0.67 1.79 -1.59 1.06 -0.51 1.84 -1.91 -0.08 -1.5 1.19 -1.5 -1.19 -1.91 0.08 -0.51 -1.84 -1.59 -1.06 0.67 -1.79 -0.67 -1.79 1.59 -1.06 0.51 -1.84 1.91 0.08zM700.9 565.2l1.5 1.19 1.91 -0.08 0.51 1.84 1.59 1.06 -0.67 1.79 0.67 1.79 -1.59 1.06 -0.51 1.84 -1.91 -0.08 -1.5 1.19 -1.5 -1.19 -1.91 0.08 -0.51 -1.84 -1.59 -1.06 0.67 -1.79 -0.67 -1.79 1.59 -1.06 0.51 -1.84 1.91 0.08zM725.3 565.2l1.5 1.19 1.91 -0.08 0.51 1.84 1.59 1.06 -0.67 1.79 0.67 1.79 -1.59 1.06 -0.51 1.84 -1.91 -0.08 -1.5 1.19 -1.5 -1.19 -1.91 0.08 -0.51 -1.84 -1.59 -1.06 0.67 -1.79 -0.67 -1.79 1.59 -1.06 0.51 -1.84 1.91 0.08zM752.6 586.8l1.5 1.19 1.91 -0.08 0.51 1.84 1.59 1.06 -0.67 1.79 0.67 1.79 -1.59 1.06 -0.51 1.84 -1.91 -0.08 -1.5 1.19 -1.5 -1.19 -1.91 0.08 -0.51 -1.84 -1.59 -1.06 0.67 -1.79 -0.67 -1.79 1.59 -1.06 0.51 -1.84 1.91 0.08zM778.6 588.4l1.5 1.19 1.91 -0.08 0.51 1.84 1.59 1.06 -0.67 1.79 0.67 1.79 -1.59 1.06 -0.51 1.84 -1.91 -0.08 -1.5 1.19 -1.5 -1.19 -1.91 0.08 -0.51 -1.84 -1.59 -1.06 0.67 -1.79 -0.67 -1.79 1.59 -1.06 0.51 -1.84 1.91 0.08zM800.4 587.7l1.5 1.19 1.91 -0.08 0.51 1.84 1.59 1.06 -0.67 1.79 0.67 1.79 -1.59 1.06 -0.51 1.84 -1.91 -0.08 -1.5 1.19 -1.5 -1.19 -1.91 0.08 -0.51 -1.84 -1.59 -1.06 0.67 -1.79 -0.67 -1.79 1.59 -1.06 0.51 -1.84 1.91 0.08zM828.4 584.2l1.5 1.19 1.91 -0.08 0.51 1.84 1.59 1.06 -0.67 1.79 0.67 1.79 -1.59 1.06 -0.51 1.84 -1.91 -0.08 -1.5 1.19 -1.5 -1.19 -1.91 0.08 -0.51 -1.84 -1.59 -1.06 0.67 -1.79 -0.67 -1.79 1.59 -1.06 0.51 -1.84 1.91 0.08zM853.8 569l1.5 1.19 1.91 -0.08 0.51 1.84 1.59 1.06 -0.67 1.79 0.67 1.79 -1.59 1.06 -0.51 1.84 -1.91 -0.08 -1.5 1.19 -1.5 -1.19 -1.91 0.08 -0.51 -1.84 -1.59 -1.06 0.67 -1.79 -0.67 -1.79 1.59 -1.06 0.51 -1.84 1.91 0.08zM880.1 552.9l1.5 1.19 1.91 -0.08 0.51 1.84 1.59 1.06 -0.67 1.79 0.67 1.79 -1.59 1.06 -0.51 1.84 -1.91 -0.08 -1.5 1.19 -1.5 -1.19 -1.91 0.08 -0.51 -1.84 -1.59 -1.06 0.67 -1.79 -0.67 -1.79 1.59 -1.06 0.51 -1.84 1.91 0.08z" fill="#000" stroke="#000" stroke-width="0.4" stroke-linejoin="round"/>
<text class="b" x="554.15" y="426" font-size="33">F</text>
<rect x="642.4" y="740.4" width="161.6" height="297.2" fill="#c0c0c0"/>
<clipPath id="cG"><rect x="547.1" y="740.4" width="347.2" height="297.2"/></clipPath>
<path d="M578.8 874.1L602.8 867.4M602.8 867.4L629.8 862.9M629.8 862.9L655.9 928.6M655.9 928.6L680.3 926.9M680.3 926.9L705.6 932.6M705.6 932.6L731.7 940.4M731.7 940.4L758.5 931.7M758.5 931.7L782.7 938.1M782.7 938.1L807.8 943.5M807.8 943.5L834.8 899M834.8 899L859.9 884M859.9 884L888.2 889.5" stroke="#1a1a1a" stroke-width="1.15" fill="none" clip-path="url(#cG)"/>
<path d="M578.8 836.1L602.8 808.2M602.8 808.2L629.8 805.8M629.8 805.8L655.9 885.9M655.9 885.9L680.3 897.3M680.3 897.3L705.6 916.7M705.6 916.7L731.7 910.3M731.7 910.3L758.5 919.6M758.5 919.6L782.7 914.8M782.7 914.8L807.8 923.8M807.8 923.8L834.8 875.2M834.8 875.2L859.9 873.6M859.9 873.6L888.2 869.3" stroke="#1a1a1a" stroke-width="1.15" fill="none" clip-path="url(#cG)"/>
<line x1="540.1" y1="740.4" x2="894.3" y2="740.4" stroke="#000" stroke-width="1.9" stroke-linecap="butt"/>
<line x1="547.1" y1="739.45" x2="547.1" y2="1044.6" stroke="#000" stroke-width="1.9" stroke-linecap="butt"/>
<line x1="894.3" y1="739.45" x2="894.3" y2="1038.55" stroke="#000" stroke-width="1.9" stroke-linecap="butt"/>
<line x1="547.1" y1="1037.6" x2="894.3" y2="1037.6" stroke="#000" stroke-width="1.9" stroke-linecap="butt"/>
<line x1="540.1" y1="740.4" x2="547.1" y2="740.4" stroke="#000" stroke-width="1.9" stroke-linecap="butt"/>
<text class="s" x="496.95" y="749" font-size="29.3">0.3</text>
<line x1="540.1" y1="839.2" x2="547.1" y2="839.2" stroke="#000" stroke-width="1.9" stroke-linecap="butt"/>
<text class="s" x="497.39" y="847.8" font-size="29.3">0.2</text>
<line x1="540.1" y1="938.1" x2="547.1" y2="938.1" stroke="#000" stroke-width="1.9" stroke-linecap="butt"/>
<text class="s" x="497.53" y="946.7" font-size="29.3">0.1</text>
<line x1="540.1" y1="1037.6" x2="547.1" y2="1037.6" stroke="#000" stroke-width="1.9" stroke-linecap="butt"/>
<text class="s" x="496.95" y="1046.2" font-size="29.3">0.0</text>
<line x1="543.1" y1="790" x2="547.1" y2="790" stroke="#000" stroke-width="1.9" stroke-linecap="butt"/>
<line x1="543.1" y1="888.7" x2="547.1" y2="888.7" stroke="#000" stroke-width="1.9" stroke-linecap="butt"/>
<line x1="543.1" y1="987.8" x2="547.1" y2="987.8" stroke="#000" stroke-width="1.9" stroke-linecap="butt"/>
<line x1="585.5" y1="1037.6" x2="585.5" y2="1044.6" stroke="#000" stroke-width="1.9" stroke-linecap="butt"/>
<line x1="623.4" y1="1037.6" x2="623.4" y2="1044.6" stroke="#000" stroke-width="1.9" stroke-linecap="butt"/>
<line x1="662.5" y1="1037.6" x2="662.5" y2="1044.6" stroke="#000" stroke-width="1.9" stroke-linecap="butt"/>
<line x1="700.9" y1="1037.6" x2="700.9" y2="1044.6" stroke="#000" stroke-width="1.9" stroke-linecap="butt"/>
<line x1="739.1" y1="1037.6" x2="739.1" y2="1044.6" stroke="#000" stroke-width="1.9" stroke-linecap="butt"/>
<line x1="777.5" y1="1037.6" x2="777.5" y2="1044.6" stroke="#000" stroke-width="1.9" stroke-linecap="butt"/>
<line x1="816.1" y1="1037.6" x2="816.1" y2="1044.6" stroke="#000" stroke-width="1.9" stroke-linecap="butt"/>
<line x1="854.5" y1="1037.6" x2="854.5" y2="1044.6" stroke="#000" stroke-width="1.9" stroke-linecap="butt"/>
<line x1="894.3" y1="1037.6" x2="894.3" y2="1044.6" stroke="#000" stroke-width="1.9" stroke-linecap="butt"/>
<path d="M578.8 868.8l1.39 1.02 1.72 -0.01 0.53 1.64 1.4 1.01 -0.54 1.64 0.54 1.64 -1.4 1.01 -0.53 1.64 -1.72 -0.01 -1.39 1.02 -1.39 -1.02 -1.72 0.01 -0.53 -1.64 -1.4 -1.01 0.54 -1.64 -0.54 -1.64 1.4 -1.01 0.53 -1.64 1.72 0.01zM602.8 862.1l1.39 1.02 1.72 -0.01 0.53 1.64 1.4 1.01 -0.54 1.64 0.54 1.64 -1.4 1.01 -0.53 1.64 -1.72 -0.01 -1.39 1.02 -1.39 -1.02 -1.72 0.01 -0.53 -1.64 -1.4 -1.01 0.54 -1.64 -0.54 -1.64 1.4 -1.01 0.53 -1.64 1.72 0.01zM629.8 857.6l1.39 1.02 1.72 -0.01 0.53 1.64 1.4 1.01 -0.54 1.64 0.54 1.64 -1.4 1.01 -0.53 1.64 -1.72 -0.01 -1.39 1.02 -1.39 -1.02 -1.72 0.01 -0.53 -1.64 -1.4 -1.01 0.54 -1.64 -0.54 -1.64 1.4 -1.01 0.53 -1.64 1.72 0.01zM655.9 923.3l1.39 1.02 1.72 -0.01 0.53 1.64 1.4 1.01 -0.54 1.64 0.54 1.64 -1.4 1.01 -0.53 1.64 -1.72 -0.01 -1.39 1.02 -1.39 -1.02 -1.72 0.01 -0.53 -1.64 -1.4 -1.01 0.54 -1.64 -0.54 -1.64 1.4 -1.01 0.53 -1.64 1.72 0.01zM680.3 921.6l1.39 1.02 1.72 -0.01 0.53 1.64 1.4 1.01 -0.54 1.64 0.54 1.64 -1.4 1.01 -0.53 1.64 -1.72 -0.01 -1.39 1.02 -1.39 -1.02 -1.72 0.01 -0.53 -1.64 -1.4 -1.01 0.54 -1.64 -0.54 -1.64 1.4 -1.01 0.53 -1.64 1.72 0.01zM705.6 927.3l1.39 1.02 1.72 -0.01 0.53 1.64 1.4 1.01 -0.54 1.64 0.54 1.64 -1.4 1.01 -0.53 1.64 -1.72 -0.01 -1.39 1.02 -1.39 -1.02 -1.72 0.01 -0.53 -1.64 -1.4 -1.01 0.54 -1.64 -0.54 -1.64 1.4 -1.01 0.53 -1.64 1.72 0.01zM731.7 935.1l1.39 1.02 1.72 -0.01 0.53 1.64 1.4 1.01 -0.54 1.64 0.54 1.64 -1.4 1.01 -0.53 1.64 -1.72 -0.01 -1.39 1.02 -1.39 -1.02 -1.72 0.01 -0.53 -1.64 -1.4 -1.01 0.54 -1.64 -0.54 -1.64 1.4 -1.01 0.53 -1.64 1.72 0.01zM758.5 926.4l1.39 1.02 1.72 -0.01 0.53 1.64 1.4 1.01 -0.54 1.64 0.54 1.64 -1.4 1.01 -0.53 1.64 -1.72 -0.01 -1.39 1.02 -1.39 -1.02 -1.72 0.01 -0.53 -1.64 -1.4 -1.01 0.54 -1.64 -0.54 -1.64 1.4 -1.01 0.53 -1.64 1.72 0.01zM782.7 932.8l1.39 1.02 1.72 -0.01 0.53 1.64 1.4 1.01 -0.54 1.64 0.54 1.64 -1.4 1.01 -0.53 1.64 -1.72 -0.01 -1.39 1.02 -1.39 -1.02 -1.72 0.01 -0.53 -1.64 -1.4 -1.01 0.54 -1.64 -0.54 -1.64 1.4 -1.01 0.53 -1.64 1.72 0.01zM807.8 938.2l1.39 1.02 1.72 -0.01 0.53 1.64 1.4 1.01 -0.54 1.64 0.54 1.64 -1.4 1.01 -0.53 1.64 -1.72 -0.01 -1.39 1.02 -1.39 -1.02 -1.72 0.01 -0.53 -1.64 -1.4 -1.01 0.54 -1.64 -0.54 -1.64 1.4 -1.01 0.53 -1.64 1.72 0.01zM834.8 893.7l1.39 1.02 1.72 -0.01 0.53 1.64 1.4 1.01 -0.54 1.64 0.54 1.64 -1.4 1.01 -0.53 1.64 -1.72 -0.01 -1.39 1.02 -1.39 -1.02 -1.72 0.01 -0.53 -1.64 -1.4 -1.01 0.54 -1.64 -0.54 -1.64 1.4 -1.01 0.53 -1.64 1.72 0.01zM859.9 878.7l1.39 1.02 1.72 -0.01 0.53 1.64 1.4 1.01 -0.54 1.64 0.54 1.64 -1.4 1.01 -0.53 1.64 -1.72 -0.01 -1.39 1.02 -1.39 -1.02 -1.72 0.01 -0.53 -1.64 -1.4 -1.01 0.54 -1.64 -0.54 -1.64 1.4 -1.01 0.53 -1.64 1.72 0.01zM888.2 884.2l1.39 1.02 1.72 -0.01 0.53 1.64 1.4 1.01 -0.54 1.64 0.54 1.64 -1.4 1.01 -0.53 1.64 -1.72 -0.01 -1.39 1.02 -1.39 -1.02 -1.72 0.01 -0.53 -1.64 -1.4 -1.01 0.54 -1.64 -0.54 -1.64 1.4 -1.01 0.53 -1.64 1.72 0.01z" fill="#fff" stroke="#222" stroke-width="1.05" stroke-linejoin="round"/>
<path d="M578.8 830.3l1.5 1.19 1.91 -0.08 0.51 1.84 1.59 1.06 -0.67 1.79 0.67 1.79 -1.59 1.06 -0.51 1.84 -1.91 -0.08 -1.5 1.19 -1.5 -1.19 -1.91 0.08 -0.51 -1.84 -1.59 -1.06 0.67 -1.79 -0.67 -1.79 1.59 -1.06 0.51 -1.84 1.91 0.08zM602.8 802.4l1.5 1.19 1.91 -0.08 0.51 1.84 1.59 1.06 -0.67 1.79 0.67 1.79 -1.59 1.06 -0.51 1.84 -1.91 -0.08 -1.5 1.19 -1.5 -1.19 -1.91 0.08 -0.51 -1.84 -1.59 -1.06 0.67 -1.79 -0.67 -1.79 1.59 -1.06 0.51 -1.84 1.91 0.08zM629.8 800l1.5 1.19 1.91 -0.08 0.51 1.84 1.59 1.06 -0.67 1.79 0.67 1.79 -1.59 1.06 -0.51 1.84 -1.91 -0.08 -1.5 1.19 -1.5 -1.19 -1.91 0.08 -0.51 -1.84 -1.59 -1.06 0.67 -1.79 -0.67 -1.79 1.59 -1.06 0.51 -1.84 1.91 0.08zM655.9 880.1l1.5 1.19 1.91 -0.08 0.51 1.84 1.59 1.06 -0.67 1.79 0.67 1.79 -1.59 1.06 -0.51 1.84 -1.91 -0.08 -1.5 1.19 -1.5 -1.19 -1.91 0.08 -0.51 -1.84 -1.59 -1.06 0.67 -1.79 -0.67 -1.79 1.59 -1.06 0.51 -1.84 1.91 0.08zM680.3 891.5l1.5 1.19 1.91 -0.08 0.51 1.84 1.59 1.06 -0.67 1.79 0.67 1.79 -1.59 1.06 -0.51 1.84 -1.91 -0.08 -1.5 1.19 -1.5 -1.19 -1.91 0.08 -0.51 -1.84 -1.59 -1.06 0.67 -1.79 -0.67 -1.79 1.59 -1.06 0.51 -1.84 1.91 0.08zM705.6 910.9l1.5 1.19 1.91 -0.08 0.51 1.84 1.59 1.06 -0.67 1.79 0.67 1.79 -1.59 1.06 -0.51 1.84 -1.91 -0.08 -1.5 1.19 -1.5 -1.19 -1.91 0.08 -0.51 -1.84 -1.59 -1.06 0.67 -1.79 -0.67 -1.79 1.59 -1.06 0.51 -1.84 1.91 0.08zM731.7 904.5l1.5 1.19 1.91 -0.08 0.51 1.84 1.59 1.06 -0.67 1.79 0.67 1.79 -1.59 1.06 -0.51 1.84 -1.91 -0.08 -1.5 1.19 -1.5 -1.19 -1.91 0.08 -0.51 -1.84 -1.59 -1.06 0.67 -1.79 -0.67 -1.79 1.59 -1.06 0.51 -1.84 1.91 0.08zM758.5 913.8l1.5 1.19 1.91 -0.08 0.51 1.84 1.59 1.06 -0.67 1.79 0.67 1.79 -1.59 1.06 -0.51 1.84 -1.91 -0.08 -1.5 1.19 -1.5 -1.19 -1.91 0.08 -0.51 -1.84 -1.59 -1.06 0.67 -1.79 -0.67 -1.79 1.59 -1.06 0.51 -1.84 1.91 0.08zM782.7 909l1.5 1.19 1.91 -0.08 0.51 1.84 1.59 1.06 -0.67 1.79 0.67 1.79 -1.59 1.06 -0.51 1.84 -1.91 -0.08 -1.5 1.19 -1.5 -1.19 -1.91 0.08 -0.51 -1.84 -1.59 -1.06 0.67 -1.79 -0.67 -1.79 1.59 -1.06 0.51 -1.84 1.91 0.08zM807.8 918l1.5 1.19 1.91 -0.08 0.51 1.84 1.59 1.06 -0.67 1.79 0.67 1.79 -1.59 1.06 -0.51 1.84 -1.91 -0.08 -1.5 1.19 -1.5 -1.19 -1.91 0.08 -0.51 -1.84 -1.59 -1.06 0.67 -1.79 -0.67 -1.79 1.59 -1.06 0.51 -1.84 1.91 0.08zM834.8 869.4l1.5 1.19 1.91 -0.08 0.51 1.84 1.59 1.06 -0.67 1.79 0.67 1.79 -1.59 1.06 -0.51 1.84 -1.91 -0.08 -1.5 1.19 -1.5 -1.19 -1.91 0.08 -0.51 -1.84 -1.59 -1.06 0.67 -1.79 -0.67 -1.79 1.59 -1.06 0.51 -1.84 1.91 0.08zM859.9 867.8l1.5 1.19 1.91 -0.08 0.51 1.84 1.59 1.06 -0.67 1.79 0.67 1.79 -1.59 1.06 -0.51 1.84 -1.91 -0.08 -1.5 1.19 -1.5 -1.19 -1.91 0.08 -0.51 -1.84 -1.59 -1.06 0.67 -1.79 -0.67 -1.79 1.59 -1.06 0.51 -1.84 1.91 0.08zM888.2 863.5l1.5 1.19 1.91 -0.08 0.51 1.84 1.59 1.06 -0.67 1.79 0.67 1.79 -1.59 1.06 -0.51 1.84 -1.91 -0.08 -1.5 1.19 -1.5 -1.19 -1.91 0.08 -0.51 -1.84 -1.59 -1.06 0.67 -1.79 -0.67 -1.79 1.59 -1.06 0.51 -1.84 1.91 0.08z" fill="#000" stroke="#000" stroke-width="0.4" stroke-linejoin="round"/>
<text class="b" x="555.68" y="768.6" font-size="33">G</text>
<rect x="651.1" y="1072.4" width="162.2" height="297.2" fill="#c0c0c0"/>
<clipPath id="cH"><rect x="547.1" y="1072.4" width="347" height="297.2"/></clipPath>
<path d="M558.3 1255.9L585.2 1241M585.2 1241L609.3 1221.6M609.3 1221.6L635.4 1248.5M635.4 1248.5L661.5 1274.3M661.5 1274.3L685.9 1282.1M685.9 1282.1L713.8 1288.8M713.8 1288.8L738.6 1262.2M738.6 1262.2L765.5 1272.6M765.5 1272.6L790.4 1279.3M790.4 1279.3L814.5 1277.6M814.5 1277.6L840.6 1261.4M840.6 1261.4L867.2 1241.5" stroke="#1a1a1a" stroke-width="1.15" fill="none" clip-path="url(#cH)"/>
<path d="M558.3 1190.5L585.2 1180.6M585.2 1180.6L609.3 1165.7M609.3 1165.7L635.4 1190M635.4 1190L661.5 1244M661.5 1244L685.9 1260.9M685.9 1260.9L713.8 1268.1M713.8 1268.1L738.6 1243.3M738.6 1243.3L765.5 1257.7M765.5 1257.7L790.4 1265.1M790.4 1265.1L814.5 1258.9M814.5 1258.9L840.6 1227.1M840.6 1227.1L867.2 1210.4" stroke="#1a1a1a" stroke-width="1.15" fill="none" clip-path="url(#cH)"/>
<line x1="540.1" y1="1072.4" x2="894.1" y2="1072.4" stroke="#000" stroke-width="1.9" stroke-linecap="butt"/>
<line x1="547.1" y1="1071.45" x2="547.1" y2="1376.6" stroke="#000" stroke-width="1.9" stroke-linecap="butt"/>
<line x1="894.1" y1="1071.45" x2="894.1" y2="1370.55" stroke="#000" stroke-width="1.9" stroke-linecap="butt"/>
<line x1="547.1" y1="1369.6" x2="894.1" y2="1369.6" stroke="#000" stroke-width="1.9" stroke-linecap="butt"/>
<line x1="540.1" y1="1072.4" x2="547.1" y2="1072.4" stroke="#000" stroke-width="1.9" stroke-linecap="butt"/>
<text class="s" x="498.31" y="1081" font-size="29">0.3</text>
<line x1="540.1" y1="1171.1" x2="547.1" y2="1171.1" stroke="#000" stroke-width="1.9" stroke-linecap="butt"/>
<text class="s" x="498.75" y="1179.7" font-size="29">0.2</text>
<line x1="540.1" y1="1270.1" x2="547.1" y2="1270.1" stroke="#000" stroke-width="1.9" stroke-linecap="butt"/>
<text class="s" x="498.89" y="1278.7" font-size="29">0.1</text>
<line x1="540.1" y1="1369.6" x2="547.1" y2="1369.6" stroke="#000" stroke-width="1.9" stroke-linecap="butt"/>
<text class="s" x="498.31" y="1378.2" font-size="29">0.0</text>
<line x1="543.1" y1="1121.7" x2="547.1" y2="1121.7" stroke="#000" stroke-width="1.9" stroke-linecap="butt"/>
<line x1="543.1" y1="1220.6" x2="547.1" y2="1220.6" stroke="#000" stroke-width="1.9" stroke-linecap="butt"/>
<line x1="543.1" y1="1319.8" x2="547.1" y2="1319.8" stroke="#000" stroke-width="1.9" stroke-linecap="butt"/>
<line x1="585.2" y1="1369.6" x2="585.2" y2="1376.6" stroke="#000" stroke-width="1.9" stroke-linecap="butt"/>
<line x1="623.7" y1="1369.6" x2="623.7" y2="1376.6" stroke="#000" stroke-width="1.9" stroke-linecap="butt"/>
<line x1="662.3" y1="1369.6" x2="662.3" y2="1376.6" stroke="#000" stroke-width="1.9" stroke-linecap="butt"/>
<line x1="700.8" y1="1369.6" x2="700.8" y2="1376.6" stroke="#000" stroke-width="1.9" stroke-linecap="butt"/>
<line x1="739.4" y1="1369.6" x2="739.4" y2="1376.6" stroke="#000" stroke-width="1.9" stroke-linecap="butt"/>
<line x1="778.4" y1="1369.6" x2="778.4" y2="1376.6" stroke="#000" stroke-width="1.9" stroke-linecap="butt"/>
<line x1="816.2" y1="1369.6" x2="816.2" y2="1376.6" stroke="#000" stroke-width="1.9" stroke-linecap="butt"/>
<line x1="855" y1="1369.6" x2="855" y2="1376.6" stroke="#000" stroke-width="1.9" stroke-linecap="butt"/>
<line x1="894.1" y1="1369.6" x2="894.1" y2="1376.6" stroke="#000" stroke-width="1.9" stroke-linecap="butt"/>
<path d="M558.3 1250.6l1.39 1.02 1.72 -0.01 0.53 1.64 1.4 1.01 -0.54 1.64 0.54 1.64 -1.4 1.01 -0.53 1.64 -1.72 -0.01 -1.39 1.02 -1.39 -1.02 -1.72 0.01 -0.53 -1.64 -1.4 -1.01 0.54 -1.64 -0.54 -1.64 1.4 -1.01 0.53 -1.64 1.72 0.01zM585.2 1235.7l1.39 1.02 1.72 -0.01 0.53 1.64 1.4 1.01 -0.54 1.64 0.54 1.64 -1.4 1.01 -0.53 1.64 -1.72 -0.01 -1.39 1.02 -1.39 -1.02 -1.72 0.01 -0.53 -1.64 -1.4 -1.01 0.54 -1.64 -0.54 -1.64 1.4 -1.01 0.53 -1.64 1.72 0.01zM609.3 1216.3l1.39 1.02 1.72 -0.01 0.53 1.64 1.4 1.01 -0.54 1.64 0.54 1.64 -1.4 1.01 -0.53 1.64 -1.72 -0.01 -1.39 1.02 -1.39 -1.02 -1.72 0.01 -0.53 -1.64 -1.4 -1.01 0.54 -1.64 -0.54 -1.64 1.4 -1.01 0.53 -1.64 1.72 0.01zM635.4 1243.2l1.39 1.02 1.72 -0.01 0.53 1.64 1.4 1.01 -0.54 1.64 0.54 1.64 -1.4 1.01 -0.53 1.64 -1.72 -0.01 -1.39 1.02 -1.39 -1.02 -1.72 0.01 -0.53 -1.64 -1.4 -1.01 0.54 -1.64 -0.54 -1.64 1.4 -1.01 0.53 -1.64 1.72 0.01zM661.5 1269l1.39 1.02 1.72 -0.01 0.53 1.64 1.4 1.01 -0.54 1.64 0.54 1.64 -1.4 1.01 -0.53 1.64 -1.72 -0.01 -1.39 1.02 -1.39 -1.02 -1.72 0.01 -0.53 -1.64 -1.4 -1.01 0.54 -1.64 -0.54 -1.64 1.4 -1.01 0.53 -1.64 1.72 0.01zM685.9 1276.8l1.39 1.02 1.72 -0.01 0.53 1.64 1.4 1.01 -0.54 1.64 0.54 1.64 -1.4 1.01 -0.53 1.64 -1.72 -0.01 -1.39 1.02 -1.39 -1.02 -1.72 0.01 -0.53 -1.64 -1.4 -1.01 0.54 -1.64 -0.54 -1.64 1.4 -1.01 0.53 -1.64 1.72 0.01zM713.8 1283.5l1.39 1.02 1.72 -0.01 0.53 1.64 1.4 1.01 -0.54 1.64 0.54 1.64 -1.4 1.01 -0.53 1.64 -1.72 -0.01 -1.39 1.02 -1.39 -1.02 -1.72 0.01 -0.53 -1.64 -1.4 -1.01 0.54 -1.64 -0.54 -1.64 1.4 -1.01 0.53 -1.64 1.72 0.01zM738.6 1256.9l1.39 1.02 1.72 -0.01 0.53 1.64 1.4 1.01 -0.54 1.64 0.54 1.64 -1.4 1.01 -0.53 1.64 -1.72 -0.01 -1.39 1.02 -1.39 -1.02 -1.72 0.01 -0.53 -1.64 -1.4 -1.01 0.54 -1.64 -0.54 -1.64 1.4 -1.01 0.53 -1.64 1.72 0.01zM765.5 1267.3l1.39 1.02 1.72 -0.01 0.53 1.64 1.4 1.01 -0.54 1.64 0.54 1.64 -1.4 1.01 -0.53 1.64 -1.72 -0.01 -1.39 1.02 -1.39 -1.02 -1.72 0.01 -0.53 -1.64 -1.4 -1.01 0.54 -1.64 -0.54 -1.64 1.4 -1.01 0.53 -1.64 1.72 0.01zM790.4 1274l1.39 1.02 1.72 -0.01 0.53 1.64 1.4 1.01 -0.54 1.64 0.54 1.64 -1.4 1.01 -0.53 1.64 -1.72 -0.01 -1.39 1.02 -1.39 -1.02 -1.72 0.01 -0.53 -1.64 -1.4 -1.01 0.54 -1.64 -0.54 -1.64 1.4 -1.01 0.53 -1.64 1.72 0.01zM814.5 1272.3l1.39 1.02 1.72 -0.01 0.53 1.64 1.4 1.01 -0.54 1.64 0.54 1.64 -1.4 1.01 -0.53 1.64 -1.72 -0.01 -1.39 1.02 -1.39 -1.02 -1.72 0.01 -0.53 -1.64 -1.4 -1.01 0.54 -1.64 -0.54 -1.64 1.4 -1.01 0.53 -1.64 1.72 0.01zM840.6 1256.1l1.39 1.02 1.72 -0.01 0.53 1.64 1.4 1.01 -0.54 1.64 0.54 1.64 -1.4 1.01 -0.53 1.64 -1.72 -0.01 -1.39 1.02 -1.39 -1.02 -1.72 0.01 -0.53 -1.64 -1.4 -1.01 0.54 -1.64 -0.54 -1.64 1.4 -1.01 0.53 -1.64 1.72 0.01zM867.2 1236.2l1.39 1.02 1.72 -0.01 0.53 1.64 1.4 1.01 -0.54 1.64 0.54 1.64 -1.4 1.01 -0.53 1.64 -1.72 -0.01 -1.39 1.02 -1.39 -1.02 -1.72 0.01 -0.53 -1.64 -1.4 -1.01 0.54 -1.64 -0.54 -1.64 1.4 -1.01 0.53 -1.64 1.72 0.01z" fill="#fff" stroke="#222" stroke-width="1.05" stroke-linejoin="round"/>
<path d="M558.3 1184.7l1.5 1.19 1.91 -0.08 0.51 1.84 1.59 1.06 -0.67 1.79 0.67 1.79 -1.59 1.06 -0.51 1.84 -1.91 -0.08 -1.5 1.19 -1.5 -1.19 -1.91 0.08 -0.51 -1.84 -1.59 -1.06 0.67 -1.79 -0.67 -1.79 1.59 -1.06 0.51 -1.84 1.91 0.08zM585.2 1174.8l1.5 1.19 1.91 -0.08 0.51 1.84 1.59 1.06 -0.67 1.79 0.67 1.79 -1.59 1.06 -0.51 1.84 -1.91 -0.08 -1.5 1.19 -1.5 -1.19 -1.91 0.08 -0.51 -1.84 -1.59 -1.06 0.67 -1.79 -0.67 -1.79 1.59 -1.06 0.51 -1.84 1.91 0.08zM609.3 1159.9l1.5 1.19 1.91 -0.08 0.51 1.84 1.59 1.06 -0.67 1.79 0.67 1.79 -1.59 1.06 -0.51 1.84 -1.91 -0.08 -1.5 1.19 -1.5 -1.19 -1.91 0.08 -0.51 -1.84 -1.59 -1.06 0.67 -1.79 -0.67 -1.79 1.59 -1.06 0.51 -1.84 1.91 0.08zM635.4 1184.2l1.5 1.19 1.91 -0.08 0.51 1.84 1.59 1.06 -0.67 1.79 0.67 1.79 -1.59 1.06 -0.51 1.84 -1.91 -0.08 -1.5 1.19 -1.5 -1.19 -1.91 0.08 -0.51 -1.84 -1.59 -1.06 0.67 -1.79 -0.67 -1.79 1.59 -1.06 0.51 -1.84 1.91 0.08zM661.5 1238.2l1.5 1.19 1.91 -0.08 0.51 1.84 1.59 1.06 -0.67 1.79 0.67 1.79 -1.59 1.06 -0.51 1.84 -1.91 -0.08 -1.5 1.19 -1.5 -1.19 -1.91 0.08 -0.51 -1.84 -1.59 -1.06 0.67 -1.79 -0.67 -1.79 1.59 -1.06 0.51 -1.84 1.91 0.08zM685.9 1255.1l1.5 1.19 1.91 -0.08 0.51 1.84 1.59 1.06 -0.67 1.79 0.67 1.79 -1.59 1.06 -0.51 1.84 -1.91 -0.08 -1.5 1.19 -1.5 -1.19 -1.91 0.08 -0.51 -1.84 -1.59 -1.06 0.67 -1.79 -0.67 -1.79 1.59 -1.06 0.51 -1.84 1.91 0.08zM713.8 1262.3l1.5 1.19 1.91 -0.08 0.51 1.84 1.59 1.06 -0.67 1.79 0.67 1.79 -1.59 1.06 -0.51 1.84 -1.91 -0.08 -1.5 1.19 -1.5 -1.19 -1.91 0.08 -0.51 -1.84 -1.59 -1.06 0.67 -1.79 -0.67 -1.79 1.59 -1.06 0.51 -1.84 1.91 0.08zM738.6 1237.5l1.5 1.19 1.91 -0.08 0.51 1.84 1.59 1.06 -0.67 1.79 0.67 1.79 -1.59 1.06 -0.51 1.84 -1.91 -0.08 -1.5 1.19 -1.5 -1.19 -1.91 0.08 -0.51 -1.84 -1.59 -1.06 0.67 -1.79 -0.67 -1.79 1.59 -1.06 0.51 -1.84 1.91 0.08zM765.5 1251.9l1.5 1.19 1.91 -0.08 0.51 1.84 1.59 1.06 -0.67 1.79 0.67 1.79 -1.59 1.06 -0.51 1.84 -1.91 -0.08 -1.5 1.19 -1.5 -1.19 -1.91 0.08 -0.51 -1.84 -1.59 -1.06 0.67 -1.79 -0.67 -1.79 1.59 -1.06 0.51 -1.84 1.91 0.08zM790.4 1259.3l1.5 1.19 1.91 -0.08 0.51 1.84 1.59 1.06 -0.67 1.79 0.67 1.79 -1.59 1.06 -0.51 1.84 -1.91 -0.08 -1.5 1.19 -1.5 -1.19 -1.91 0.08 -0.51 -1.84 -1.59 -1.06 0.67 -1.79 -0.67 -1.79 1.59 -1.06 0.51 -1.84 1.91 0.08zM814.5 1253.1l1.5 1.19 1.91 -0.08 0.51 1.84 1.59 1.06 -0.67 1.79 0.67 1.79 -1.59 1.06 -0.51 1.84 -1.91 -0.08 -1.5 1.19 -1.5 -1.19 -1.91 0.08 -0.51 -1.84 -1.59 -1.06 0.67 -1.79 -0.67 -1.79 1.59 -1.06 0.51 -1.84 1.91 0.08zM840.6 1221.3l1.5 1.19 1.91 -0.08 0.51 1.84 1.59 1.06 -0.67 1.79 0.67 1.79 -1.59 1.06 -0.51 1.84 -1.91 -0.08 -1.5 1.19 -1.5 -1.19 -1.91 0.08 -0.51 -1.84 -1.59 -1.06 0.67 -1.79 -0.67 -1.79 1.59 -1.06 0.51 -1.84 1.91 0.08zM867.2 1204.6l1.5 1.19 1.91 -0.08 0.51 1.84 1.59 1.06 -0.67 1.79 0.67 1.79 -1.59 1.06 -0.51 1.84 -1.91 -0.08 -1.5 1.19 -1.5 -1.19 -1.91 0.08 -0.51 -1.84 -1.59 -1.06 0.67 -1.79 -0.67 -1.79 1.59 -1.06 0.51 -1.84 1.91 0.08z" fill="#000" stroke="#000" stroke-width="0.4" stroke-linejoin="round"/>
<text class="b" x="554.46" y="1101.8" font-size="33">H</text>
<text class="s" x="562.68" y="1414.6" font-size="30">12</text>
<text class="s" x="599.75" y="1414.6" font-size="30">15</text>
<text class="s" x="637.05" y="1414.6" font-size="30">18</text>
<text class="s" x="680.33" y="1414.6" font-size="30">21</text>
<text class="s" x="719.9" y="1414.6" font-size="30">00</text>
<text class="s" x="756" y="1414.6" font-size="30">03</text>
<text class="s" x="792.65" y="1414.6" font-size="30">06</text>
<text class="s" x="830.6" y="1414.6" font-size="30">09</text>
<text class="s" x="868.58" y="1414.6" font-size="30">12</text>
<rect x="1055.2" y="56.1" width="162.9" height="296.3" fill="#c0c0c0"/>
<clipPath id="cI"><rect x="955.2" y="56.1" width="346.6" height="296.3"/></clipPath>
<path d="M974 181.7L1000.3 149M1000.3 149L1025.1 166.8M1025.1 166.8L1049.3 170.4M1049.3 170.4L1074.7 179.8M1074.7 179.8L1101.5 186.2M1101.5 186.2L1126.8 207.1M1126.8 207.1L1157.6 176.8M1157.6 176.8L1178.5 190M1178.5 190L1206.2 258.1M1206.2 258.1L1231.4 188.8M1231.4 188.8L1255.5 187.4M1255.5 187.4L1281.6 175.8" stroke="#1a1a1a" stroke-width="1.15" fill="none" clip-path="url(#cI)"/>
<path d="M974 288.2L1000.3 292.9M1000.3 292.9L1025.1 287M1025.1 287L1049.3 284.1M1049.3 284.1L1074.7 289.3M1074.7 289.3L1101.5 287M1101.5 287L1126.8 295.3M1126.8 295.3L1157.6 300M1157.6 300L1178.5 300M1178.5 300L1206.2 314.2M1206.2 314.2L1231.4 297.2M1231.4 297.2L1255.5 293.6M1255.5 293.6L1281.6 292.4" stroke="#1a1a1a" stroke-width="1.15" fill="none" clip-path="url(#cI)"/>
<line x1="948.2" y1="56.1" x2="1301.8" y2="56.1" stroke="#000" stroke-width="1.9" stroke-linecap="butt"/>
<line x1="955.2" y1="55.15" x2="955.2" y2="359.4" stroke="#000" stroke-width="1.9" stroke-linecap="butt"/>
<line x1="1301.8" y1="55.15" x2="1301.8" y2="353.35" stroke="#000" stroke-width="1.9" stroke-linecap="butt"/>
<line x1="955.2" y1="352.4" x2="1301.8" y2="352.4" stroke="#000" stroke-width="1.9" stroke-linecap="butt"/>
<line x1="948.2" y1="56.1" x2="955.2" y2="56.1" stroke="#000" stroke-width="1.9" stroke-linecap="butt"/>
<text class="s" x="907.45" y="64.4" font-size="29.3">6.0</text>
<line x1="948.2" y1="154.5" x2="955.2" y2="154.5" stroke="#000" stroke-width="1.9" stroke-linecap="butt"/>
<text class="s" x="907.45" y="162.8" font-size="29.3">4.0</text>
<line x1="948.2" y1="252.8" x2="955.2" y2="252.8" stroke="#000" stroke-width="1.9" stroke-linecap="butt"/>
<text class="s" x="907.45" y="261.1" font-size="29.3">2.0</text>
<line x1="948.2" y1="352.4" x2="955.2" y2="352.4" stroke="#000" stroke-width="1.9" stroke-linecap="butt"/>
<text class="s" x="907.45" y="360.7" font-size="29.3">0.0</text>
<line x1="951.2" y1="105.3" x2="955.2" y2="105.3" stroke="#000" stroke-width="1.9" stroke-linecap="butt"/>
<line x1="951.2" y1="203.7" x2="955.2" y2="203.7" stroke="#000" stroke-width="1.9" stroke-linecap="butt"/>
<line x1="951.2" y1="302.6" x2="955.2" y2="302.6" stroke="#000" stroke-width="1.9" stroke-linecap="butt"/>
<line x1="993.6" y1="352.4" x2="993.6" y2="359.4" stroke="#000" stroke-width="1.9" stroke-linecap="butt"/>
<line x1="1031.5" y1="352.4" x2="1031.5" y2="359.4" stroke="#000" stroke-width="1.9" stroke-linecap="butt"/>
<line x1="1070.2" y1="352.4" x2="1070.2" y2="359.4" stroke="#000" stroke-width="1.9" stroke-linecap="butt"/>
<line x1="1108.6" y1="352.4" x2="1108.6" y2="359.4" stroke="#000" stroke-width="1.9" stroke-linecap="butt"/>
<line x1="1147.7" y1="352.4" x2="1147.7" y2="359.4" stroke="#000" stroke-width="1.9" stroke-linecap="butt"/>
<line x1="1186.8" y1="352.4" x2="1186.8" y2="359.4" stroke="#000" stroke-width="1.9" stroke-linecap="butt"/>
<line x1="1224.7" y1="352.4" x2="1224.7" y2="359.4" stroke="#000" stroke-width="1.9" stroke-linecap="butt"/>
<line x1="1262.6" y1="352.4" x2="1262.6" y2="359.4" stroke="#000" stroke-width="1.9" stroke-linecap="butt"/>
<line x1="1301.8" y1="352.4" x2="1301.8" y2="359.4" stroke="#000" stroke-width="1.9" stroke-linecap="butt"/>
<path d="M974 176.4l1.39 1.02 1.72 -0.01 0.53 1.64 1.4 1.01 -0.54 1.64 0.54 1.64 -1.4 1.01 -0.53 1.64 -1.72 -0.01 -1.39 1.02 -1.39 -1.02 -1.72 0.01 -0.53 -1.64 -1.4 -1.01 0.54 -1.64 -0.54 -1.64 1.4 -1.01 0.53 -1.64 1.72 0.01zM1000.3 143.7l1.39 1.02 1.72 -0.01 0.53 1.64 1.4 1.01 -0.54 1.64 0.54 1.64 -1.4 1.01 -0.53 1.64 -1.72 -0.01 -1.39 1.02 -1.39 -1.02 -1.72 0.01 -0.53 -1.64 -1.4 -1.01 0.54 -1.64 -0.54 -1.64 1.4 -1.01 0.53 -1.64 1.72 0.01zM1025.1 161.5l1.39 1.02 1.72 -0.01 0.53 1.64 1.4 1.01 -0.54 1.64 0.54 1.64 -1.4 1.01 -0.53 1.64 -1.72 -0.01 -1.39 1.02 -1.39 -1.02 -1.72 0.01 -0.53 -1.64 -1.4 -1.01 0.54 -1.64 -0.54 -1.64 1.4 -1.01 0.53 -1.64 1.72 0.01zM1049.3 165.1l1.39 1.02 1.72 -0.01 0.53 1.64 1.4 1.01 -0.54 1.64 0.54 1.64 -1.4 1.01 -0.53 1.64 -1.72 -0.01 -1.39 1.02 -1.39 -1.02 -1.72 0.01 -0.53 -1.64 -1.4 -1.01 0.54 -1.64 -0.54 -1.64 1.4 -1.01 0.53 -1.64 1.72 0.01zM1074.7 174.5l1.39 1.02 1.72 -0.01 0.53 1.64 1.4 1.01 -0.54 1.64 0.54 1.64 -1.4 1.01 -0.53 1.64 -1.72 -0.01 -1.39 1.02 -1.39 -1.02 -1.72 0.01 -0.53 -1.64 -1.4 -1.01 0.54 -1.64 -0.54 -1.64 1.4 -1.01 0.53 -1.64 1.72 0.01zM1101.5 180.9l1.39 1.02 1.72 -0.01 0.53 1.64 1.4 1.01 -0.54 1.64 0.54 1.64 -1.4 1.01 -0.53 1.64 -1.72 -0.01 -1.39 1.02 -1.39 -1.02 -1.72 0.01 -0.53 -1.64 -1.4 -1.01 0.54 -1.64 -0.54 -1.64 1.4 -1.01 0.53 -1.64 1.72 0.01zM1126.8 201.8l1.39 1.02 1.72 -0.01 0.53 1.64 1.4 1.01 -0.54 1.64 0.54 1.64 -1.4 1.01 -0.53 1.64 -1.72 -0.01 -1.39 1.02 -1.39 -1.02 -1.72 0.01 -0.53 -1.64 -1.4 -1.01 0.54 -1.64 -0.54 -1.64 1.4 -1.01 0.53 -1.64 1.72 0.01zM1157.6 171.5l1.39 1.02 1.72 -0.01 0.53 1.64 1.4 1.01 -0.54 1.64 0.54 1.64 -1.4 1.01 -0.53 1.64 -1.72 -0.01 -1.39 1.02 -1.39 -1.02 -1.72 0.01 -0.53 -1.64 -1.4 -1.01 0.54 -1.64 -0.54 -1.64 1.4 -1.01 0.53 -1.64 1.72 0.01zM1178.5 184.7l1.39 1.02 1.72 -0.01 0.53 1.64 1.4 1.01 -0.54 1.64 0.54 1.64 -1.4 1.01 -0.53 1.64 -1.72 -0.01 -1.39 1.02 -1.39 -1.02 -1.72 0.01 -0.53 -1.64 -1.4 -1.01 0.54 -1.64 -0.54 -1.64 1.4 -1.01 0.53 -1.64 1.72 0.01zM1206.2 252.8l1.39 1.02 1.72 -0.01 0.53 1.64 1.4 1.01 -0.54 1.64 0.54 1.64 -1.4 1.01 -0.53 1.64 -1.72 -0.01 -1.39 1.02 -1.39 -1.02 -1.72 0.01 -0.53 -1.64 -1.4 -1.01 0.54 -1.64 -0.54 -1.64 1.4 -1.01 0.53 -1.64 1.72 0.01zM1231.4 183.5l1.39 1.02 1.72 -0.01 0.53 1.64 1.4 1.01 -0.54 1.64 0.54 1.64 -1.4 1.01 -0.53 1.64 -1.72 -0.01 -1.39 1.02 -1.39 -1.02 -1.72 0.01 -0.53 -1.64 -1.4 -1.01 0.54 -1.64 -0.54 -1.64 1.4 -1.01 0.53 -1.64 1.72 0.01zM1255.5 182.1l1.39 1.02 1.72 -0.01 0.53 1.64 1.4 1.01 -0.54 1.64 0.54 1.64 -1.4 1.01 -0.53 1.64 -1.72 -0.01 -1.39 1.02 -1.39 -1.02 -1.72 0.01 -0.53 -1.64 -1.4 -1.01 0.54 -1.64 -0.54 -1.64 1.4 -1.01 0.53 -1.64 1.72 0.01zM1281.6 170.5l1.39 1.02 1.72 -0.01 0.53 1.64 1.4 1.01 -0.54 1.64 0.54 1.64 -1.4 1.01 -0.53 1.64 -1.72 -0.01 -1.39 1.02 -1.39 -1.02 -1.72 0.01 -0.53 -1.64 -1.4 -1.01 0.54 -1.64 -0.54 -1.64 1.4 -1.01 0.53 -1.64 1.72 0.01z" fill="#fff" stroke="#222" stroke-width="1.05" stroke-linejoin="round"/>
<path d="M974 282.4l1.5 1.19 1.91 -0.08 0.51 1.84 1.59 1.06 -0.67 1.79 0.67 1.79 -1.59 1.06 -0.51 1.84 -1.91 -0.08 -1.5 1.19 -1.5 -1.19 -1.91 0.08 -0.51 -1.84 -1.59 -1.06 0.67 -1.79 -0.67 -1.79 1.59 -1.06 0.51 -1.84 1.91 0.08zM1000.3 287.1l1.5 1.19 1.91 -0.08 0.51 1.84 1.59 1.06 -0.67 1.79 0.67 1.79 -1.59 1.06 -0.51 1.84 -1.91 -0.08 -1.5 1.19 -1.5 -1.19 -1.91 0.08 -0.51 -1.84 -1.59 -1.06 0.67 -1.79 -0.67 -1.79 1.59 -1.06 0.51 -1.84 1.91 0.08zM1025.1 281.2l1.5 1.19 1.91 -0.08 0.51 1.84 1.59 1.06 -0.67 1.79 0.67 1.79 -1.59 1.06 -0.51 1.84 -1.91 -0.08 -1.5 1.19 -1.5 -1.19 -1.91 0.08 -0.51 -1.84 -1.59 -1.06 0.67 -1.79 -0.67 -1.79 1.59 -1.06 0.51 -1.84 1.91 0.08zM1049.3 278.3l1.5 1.19 1.91 -0.08 0.51 1.84 1.59 1.06 -0.67 1.79 0.67 1.79 -1.59 1.06 -0.51 1.84 -1.91 -0.08 -1.5 1.19 -1.5 -1.19 -1.91 0.08 -0.51 -1.84 -1.59 -1.06 0.67 -1.79 -0.67 -1.79 1.59 -1.06 0.51 -1.84 1.91 0.08zM1074.7 283.5l1.5 1.19 1.91 -0.08 0.51 1.84 1.59 1.06 -0.67 1.79 0.67 1.79 -1.59 1.06 -0.51 1.84 -1.91 -0.08 -1.5 1.19 -1.5 -1.19 -1.91 0.08 -0.51 -1.84 -1.59 -1.06 0.67 -1.79 -0.67 -1.79 1.59 -1.06 0.51 -1.84 1.91 0.08zM1101.5 281.2l1.5 1.19 1.91 -0.08 0.51 1.84 1.59 1.06 -0.67 1.79 0.67 1.79 -1.59 1.06 -0.51 1.84 -1.91 -0.08 -1.5 1.19 -1.5 -1.19 -1.91 0.08 -0.51 -1.84 -1.59 -1.06 0.67 -1.79 -0.67 -1.79 1.59 -1.06 0.51 -1.84 1.91 0.08zM1126.8 289.5l1.5 1.19 1.91 -0.08 0.51 1.84 1.59 1.06 -0.67 1.79 0.67 1.79 -1.59 1.06 -0.51 1.84 -1.91 -0.08 -1.5 1.19 -1.5 -1.19 -1.91 0.08 -0.51 -1.84 -1.59 -1.06 0.67 -1.79 -0.67 -1.79 1.59 -1.06 0.51 -1.84 1.91 0.08zM1157.6 294.2l1.5 1.19 1.91 -0.08 0.51 1.84 1.59 1.06 -0.67 1.79 0.67 1.79 -1.59 1.06 -0.51 1.84 -1.91 -0.08 -1.5 1.19 -1.5 -1.19 -1.91 0.08 -0.51 -1.84 -1.59 -1.06 0.67 -1.79 -0.67 -1.79 1.59 -1.06 0.51 -1.84 1.91 0.08zM1178.5 294.2l1.5 1.19 1.91 -0.08 0.51 1.84 1.59 1.06 -0.67 1.79 0.67 1.79 -1.59 1.06 -0.51 1.84 -1.91 -0.08 -1.5 1.19 -1.5 -1.19 -1.91 0.08 -0.51 -1.84 -1.59 -1.06 0.67 -1.79 -0.67 -1.79 1.59 -1.06 0.51 -1.84 1.91 0.08zM1206.2 308.4l1.5 1.19 1.91 -0.08 0.51 1.84 1.59 1.06 -0.67 1.79 0.67 1.79 -1.59 1.06 -0.51 1.84 -1.91 -0.08 -1.5 1.19 -1.5 -1.19 -1.91 0.08 -0.51 -1.84 -1.59 -1.06 0.67 -1.79 -0.67 -1.79 1.59 -1.06 0.51 -1.84 1.91 0.08zM1231.4 291.4l1.5 1.19 1.91 -0.08 0.51 1.84 1.59 1.06 -0.67 1.79 0.67 1.79 -1.59 1.06 -0.51 1.84 -1.91 -0.08 -1.5 1.19 -1.5 -1.19 -1.91 0.08 -0.51 -1.84 -1.59 -1.06 0.67 -1.79 -0.67 -1.79 1.59 -1.06 0.51 -1.84 1.91 0.08zM1255.5 287.8l1.5 1.19 1.91 -0.08 0.51 1.84 1.59 1.06 -0.67 1.79 0.67 1.79 -1.59 1.06 -0.51 1.84 -1.91 -0.08 -1.5 1.19 -1.5 -1.19 -1.91 0.08 -0.51 -1.84 -1.59 -1.06 0.67 -1.79 -0.67 -1.79 1.59 -1.06 0.51 -1.84 1.91 0.08zM1281.6 286.6l1.5 1.19 1.91 -0.08 0.51 1.84 1.59 1.06 -0.67 1.79 0.67 1.79 -1.59 1.06 -0.51 1.84 -1.91 -0.08 -1.5 1.19 -1.5 -1.19 -1.91 0.08 -0.51 -1.84 -1.59 -1.06 0.67 -1.79 -0.67 -1.79 1.59 -1.06 0.51 -1.84 1.91 0.08z" fill="#000" stroke="#000" stroke-width="0.4" stroke-linejoin="round"/>
<text class="b" x="962.36" y="88.6" font-size="33">I</text>
<rect x="1187.5" y="56.1" width="111.9" height="83" fill="#fff" stroke="#111" stroke-width="1.2"/>
<circle cx="1206.5" cy="80.8" r="11" fill="#000"/>
<text class="s" x="1226.54" y="88.6" font-size="27">Speuk</text>
<circle cx="1206.5" cy="121.1" r="10.5" fill="#fff" stroke="#111" stroke-width="1.2"/>
<text class="s" x="1227.49" y="128.9" font-size="27">Lpeuk</text>
<rect x="1055.2" y="392.1" width="162.9" height="305.2" fill="#c0c0c0"/>
<clipPath id="cJ"><rect x="953.3" y="392.1" width="346.1" height="305.2"/></clipPath>
<path d="M978.9 514.4L1006 520.1M1006 520.1L1028.7 526.2M1028.7 526.2L1053.6 540.4M1053.6 540.4L1080.8 541.6M1080.8 541.6L1106.7 546.1M1106.7 546.1L1130.6 528.4M1130.6 528.4L1157.6 542.6M1157.6 542.6L1184 522M1184 522L1207.4 576M1207.4 576L1233.7 569.4M1233.7 569.4L1259.6 559.4M1259.6 559.4L1285.6 507" stroke="#1a1a1a" stroke-width="1.15" fill="none" clip-path="url(#cJ)"/>
<path d="M978.9 679.1L1006 670.8M1006 670.8L1028.7 677.2M1028.7 677.2L1053.6 678.4M1053.6 678.4L1080.8 677.7M1080.8 677.7L1106.7 668.9M1106.7 668.9L1130.6 675.5M1130.6 675.5L1157.6 684.8M1157.6 684.8L1184 681.2M1184 681.2L1207.4 683.6M1207.4 683.6L1233.7 689.1M1233.7 689.1L1259.6 683.8M1259.6 683.8L1285.6 674.8" stroke="#1a1a1a" stroke-width="1.15" fill="none" clip-path="url(#cJ)"/>
<line x1="946.3" y1="392.1" x2="1299.4" y2="392.1" stroke="#000" stroke-width="1.9" stroke-linecap="butt"/>
<line x1="953.3" y1="391.15" x2="953.3" y2="704.3" stroke="#000" stroke-width="1.9" stroke-linecap="butt"/>
<line x1="1299.4" y1="391.15" x2="1299.4" y2="698.25" stroke="#000" stroke-width="1.9" stroke-linecap="butt"/>
<line x1="953.3" y1="697.3" x2="1299.4" y2="697.3" stroke="#000" stroke-width="1.9" stroke-linecap="butt"/>
<line x1="946.3" y1="392.1" x2="953.3" y2="392.1" stroke="#000" stroke-width="1.9" stroke-linecap="butt"/>
<text class="s" x="902.95" y="401.1" font-size="30.7">6.0</text>
<line x1="946.3" y1="514.2" x2="953.3" y2="514.2" stroke="#000" stroke-width="1.9" stroke-linecap="butt"/>
<text class="s" x="902.95" y="523.2" font-size="30.7">4.0</text>
<line x1="946.3" y1="636.3" x2="953.3" y2="636.3" stroke="#000" stroke-width="1.9" stroke-linecap="butt"/>
<text class="s" x="902.95" y="645.3" font-size="30.7">2.0</text>
<line x1="949.3" y1="453.1" x2="953.3" y2="453.1" stroke="#000" stroke-width="1.9" stroke-linecap="butt"/>
<line x1="949.3" y1="575.2" x2="953.3" y2="575.2" stroke="#000" stroke-width="1.9" stroke-linecap="butt"/>
<line x1="949.3" y1="697.3" x2="953.3" y2="697.3" stroke="#000" stroke-width="1.9" stroke-linecap="butt"/>
<line x1="991.3" y1="697.3" x2="991.3" y2="704.3" stroke="#000" stroke-width="1.9" stroke-linecap="butt"/>
<line x1="1029.9" y1="697.3" x2="1029.9" y2="704.3" stroke="#000" stroke-width="1.9" stroke-linecap="butt"/>
<line x1="1068.3" y1="697.3" x2="1068.3" y2="704.3" stroke="#000" stroke-width="1.9" stroke-linecap="butt"/>
<line x1="1106.9" y1="697.3" x2="1106.9" y2="704.3" stroke="#000" stroke-width="1.9" stroke-linecap="butt"/>
<line x1="1145.3" y1="697.3" x2="1145.3" y2="704.3" stroke="#000" stroke-width="1.9" stroke-linecap="butt"/>
<line x1="1183.2" y1="697.3" x2="1183.2" y2="704.3" stroke="#000" stroke-width="1.9" stroke-linecap="butt"/>
<line x1="1222.3" y1="697.3" x2="1222.3" y2="704.3" stroke="#000" stroke-width="1.9" stroke-linecap="butt"/>
<line x1="1260.8" y1="697.3" x2="1260.8" y2="704.3" stroke="#000" stroke-width="1.9" stroke-linecap="butt"/>
<line x1="1299.4" y1="697.3" x2="1299.4" y2="704.3" stroke="#000" stroke-width="1.9" stroke-linecap="butt"/>
<path d="M978.9 509.1l1.39 1.02 1.72 -0.01 0.53 1.64 1.4 1.01 -0.54 1.64 0.54 1.64 -1.4 1.01 -0.53 1.64 -1.72 -0.01 -1.39 1.02 -1.39 -1.02 -1.72 0.01 -0.53 -1.64 -1.4 -1.01 0.54 -1.64 -0.54 -1.64 1.4 -1.01 0.53 -1.64 1.72 0.01zM1006 514.8l1.39 1.02 1.72 -0.01 0.53 1.64 1.4 1.01 -0.54 1.64 0.54 1.64 -1.4 1.01 -0.53 1.64 -1.72 -0.01 -1.39 1.02 -1.39 -1.02 -1.72 0.01 -0.53 -1.64 -1.4 -1.01 0.54 -1.64 -0.54 -1.64 1.4 -1.01 0.53 -1.64 1.72 0.01zM1028.7 520.9l1.39 1.02 1.72 -0.01 0.53 1.64 1.4 1.01 -0.54 1.64 0.54 1.64 -1.4 1.01 -0.53 1.64 -1.72 -0.01 -1.39 1.02 -1.39 -1.02 -1.72 0.01 -0.53 -1.64 -1.4 -1.01 0.54 -1.64 -0.54 -1.64 1.4 -1.01 0.53 -1.64 1.72 0.01zM1053.6 535.1l1.39 1.02 1.72 -0.01 0.53 1.64 1.4 1.01 -0.54 1.64 0.54 1.64 -1.4 1.01 -0.53 1.64 -1.72 -0.01 -1.39 1.02 -1.39 -1.02 -1.72 0.01 -0.53 -1.64 -1.4 -1.01 0.54 -1.64 -0.54 -1.64 1.4 -1.01 0.53 -1.64 1.72 0.01zM1080.8 536.3l1.39 1.02 1.72 -0.01 0.53 1.64 1.4 1.01 -0.54 1.64 0.54 1.64 -1.4 1.01 -0.53 1.64 -1.72 -0.01 -1.39 1.02 -1.39 -1.02 -1.72 0.01 -0.53 -1.64 -1.4 -1.01 0.54 -1.64 -0.54 -1.64 1.4 -1.01 0.53 -1.64 1.72 0.01zM1106.7 540.8l1.39 1.02 1.72 -0.01 0.53 1.64 1.4 1.01 -0.54 1.64 0.54 1.64 -1.4 1.01 -0.53 1.64 -1.72 -0.01 -1.39 1.02 -1.39 -1.02 -1.72 0.01 -0.53 -1.64 -1.4 -1.01 0.54 -1.64 -0.54 -1.64 1.4 -1.01 0.53 -1.64 1.72 0.01zM1130.6 523.1l1.39 1.02 1.72 -0.01 0.53 1.64 1.4 1.01 -0.54 1.64 0.54 1.64 -1.4 1.01 -0.53 1.64 -1.72 -0.01 -1.39 1.02 -1.39 -1.02 -1.72 0.01 -0.53 -1.64 -1.4 -1.01 0.54 -1.64 -0.54 -1.64 1.4 -1.01 0.53 -1.64 1.72 0.01zM1157.6 537.3l1.39 1.02 1.72 -0.01 0.53 1.64 1.4 1.01 -0.54 1.64 0.54 1.64 -1.4 1.01 -0.53 1.64 -1.72 -0.01 -1.39 1.02 -1.39 -1.02 -1.72 0.01 -0.53 -1.64 -1.4 -1.01 0.54 -1.64 -0.54 -1.64 1.4 -1.01 0.53 -1.64 1.72 0.01zM1184 516.7l1.39 1.02 1.72 -0.01 0.53 1.64 1.4 1.01 -0.54 1.64 0.54 1.64 -1.4 1.01 -0.53 1.64 -1.72 -0.01 -1.39 1.02 -1.39 -1.02 -1.72 0.01 -0.53 -1.64 -1.4 -1.01 0.54 -1.64 -0.54 -1.64 1.4 -1.01 0.53 -1.64 1.72 0.01zM1207.4 570.7l1.39 1.02 1.72 -0.01 0.53 1.64 1.4 1.01 -0.54 1.64 0.54 1.64 -1.4 1.01 -0.53 1.64 -1.72 -0.01 -1.39 1.02 -1.39 -1.02 -1.72 0.01 -0.53 -1.64 -1.4 -1.01 0.54 -1.64 -0.54 -1.64 1.4 -1.01 0.53 -1.64 1.72 0.01zM1233.7 564.1l1.39 1.02 1.72 -0.01 0.53 1.64 1.4 1.01 -0.54 1.64 0.54 1.64 -1.4 1.01 -0.53 1.64 -1.72 -0.01 -1.39 1.02 -1.39 -1.02 -1.72 0.01 -0.53 -1.64 -1.4 -1.01 0.54 -1.64 -0.54 -1.64 1.4 -1.01 0.53 -1.64 1.72 0.01zM1259.6 554.1l1.39 1.02 1.72 -0.01 0.53 1.64 1.4 1.01 -0.54 1.64 0.54 1.64 -1.4 1.01 -0.53 1.64 -1.72 -0.01 -1.39 1.02 -1.39 -1.02 -1.72 0.01 -0.53 -1.64 -1.4 -1.01 0.54 -1.64 -0.54 -1.64 1.4 -1.01 0.53 -1.64 1.72 0.01zM1285.6 501.7l1.39 1.02 1.72 -0.01 0.53 1.64 1.4 1.01 -0.54 1.64 0.54 1.64 -1.4 1.01 -0.53 1.64 -1.72 -0.01 -1.39 1.02 -1.39 -1.02 -1.72 0.01 -0.53 -1.64 -1.4 -1.01 0.54 -1.64 -0.54 -1.64 1.4 -1.01 0.53 -1.64 1.72 0.01z" fill="#fff" stroke="#222" stroke-width="1.05" stroke-linejoin="round"/>
<path d="M978.9 673.3l1.5 1.19 1.91 -0.08 0.51 1.84 1.59 1.06 -0.67 1.79 0.67 1.79 -1.59 1.06 -0.51 1.84 -1.91 -0.08 -1.5 1.19 -1.5 -1.19 -1.91 0.08 -0.51 -1.84 -1.59 -1.06 0.67 -1.79 -0.67 -1.79 1.59 -1.06 0.51 -1.84 1.91 0.08zM1006 665l1.5 1.19 1.91 -0.08 0.51 1.84 1.59 1.06 -0.67 1.79 0.67 1.79 -1.59 1.06 -0.51 1.84 -1.91 -0.08 -1.5 1.19 -1.5 -1.19 -1.91 0.08 -0.51 -1.84 -1.59 -1.06 0.67 -1.79 -0.67 -1.79 1.59 -1.06 0.51 -1.84 1.91 0.08zM1028.7 671.4l1.5 1.19 1.91 -0.08 0.51 1.84 1.59 1.06 -0.67 1.79 0.67 1.79 -1.59 1.06 -0.51 1.84 -1.91 -0.08 -1.5 1.19 -1.5 -1.19 -1.91 0.08 -0.51 -1.84 -1.59 -1.06 0.67 -1.79 -0.67 -1.79 1.59 -1.06 0.51 -1.84 1.91 0.08zM1053.6 672.6l1.5 1.19 1.91 -0.08 0.51 1.84 1.59 1.06 -0.67 1.79 0.67 1.79 -1.59 1.06 -0.51 1.84 -1.91 -0.08 -1.5 1.19 -1.5 -1.19 -1.91 0.08 -0.51 -1.84 -1.59 -1.06 0.67 -1.79 -0.67 -1.79 1.59 -1.06 0.51 -1.84 1.91 0.08zM1080.8 671.9l1.5 1.19 1.91 -0.08 0.51 1.84 1.59 1.06 -0.67 1.79 0.67 1.79 -1.59 1.06 -0.51 1.84 -1.91 -0.08 -1.5 1.19 -1.5 -1.19 -1.91 0.08 -0.51 -1.84 -1.59 -1.06 0.67 -1.79 -0.67 -1.79 1.59 -1.06 0.51 -1.84 1.91 0.08zM1106.7 663.1l1.5 1.19 1.91 -0.08 0.51 1.84 1.59 1.06 -0.67 1.79 0.67 1.79 -1.59 1.06 -0.51 1.84 -1.91 -0.08 -1.5 1.19 -1.5 -1.19 -1.91 0.08 -0.51 -1.84 -1.59 -1.06 0.67 -1.79 -0.67 -1.79 1.59 -1.06 0.51 -1.84 1.91 0.08zM1130.6 669.7l1.5 1.19 1.91 -0.08 0.51 1.84 1.59 1.06 -0.67 1.79 0.67 1.79 -1.59 1.06 -0.51 1.84 -1.91 -0.08 -1.5 1.19 -1.5 -1.19 -1.91 0.08 -0.51 -1.84 -1.59 -1.06 0.67 -1.79 -0.67 -1.79 1.59 -1.06 0.51 -1.84 1.91 0.08zM1157.6 679l1.5 1.19 1.91 -0.08 0.51 1.84 1.59 1.06 -0.67 1.79 0.67 1.79 -1.59 1.06 -0.51 1.84 -1.91 -0.08 -1.5 1.19 -1.5 -1.19 -1.91 0.08 -0.51 -1.84 -1.59 -1.06 0.67 -1.79 -0.67 -1.79 1.59 -1.06 0.51 -1.84 1.91 0.08zM1184 675.4l1.5 1.19 1.91 -0.08 0.51 1.84 1.59 1.06 -0.67 1.79 0.67 1.79 -1.59 1.06 -0.51 1.84 -1.91 -0.08 -1.5 1.19 -1.5 -1.19 -1.91 0.08 -0.51 -1.84 -1.59 -1.06 0.67 -1.79 -0.67 -1.79 1.59 -1.06 0.51 -1.84 1.91 0.08zM1207.4 677.8l1.5 1.19 1.91 -0.08 0.51 1.84 1.59 1.06 -0.67 1.79 0.67 1.79 -1.59 1.06 -0.51 1.84 -1.91 -0.08 -1.5 1.19 -1.5 -1.19 -1.91 0.08 -0.51 -1.84 -1.59 -1.06 0.67 -1.79 -0.67 -1.79 1.59 -1.06 0.51 -1.84 1.91 0.08zM1233.7 683.3l1.5 1.19 1.91 -0.08 0.51 1.84 1.59 1.06 -0.67 1.79 0.67 1.79 -1.59 1.06 -0.51 1.84 -1.91 -0.08 -1.5 1.19 -1.5 -1.19 -1.91 0.08 -0.51 -1.84 -1.59 -1.06 0.67 -1.79 -0.67 -1.79 1.59 -1.06 0.51 -1.84 1.91 0.08zM1259.6 678l1.5 1.19 1.91 -0.08 0.51 1.84 1.59 1.06 -0.67 1.79 0.67 1.79 -1.59 1.06 -0.51 1.84 -1.91 -0.08 -1.5 1.19 -1.5 -1.19 -1.91 0.08 -0.51 -1.84 -1.59 -1.06 0.67 -1.79 -0.67 -1.79 1.59 -1.06 0.51 -1.84 1.91 0.08zM1285.6 669l1.5 1.19 1.91 -0.08 0.51 1.84 1.59 1.06 -0.67 1.79 0.67 1.79 -1.59 1.06 -0.51 1.84 -1.91 -0.08 -1.5 1.19 -1.5 -1.19 -1.91 0.08 -0.51 -1.84 -1.59 -1.06 0.67 -1.79 -0.67 -1.79 1.59 -1.06 0.51 -1.84 1.91 0.08z" fill="#000" stroke="#000" stroke-width="0.4" stroke-linejoin="round"/>
<text class="b" x="963.5" y="426" font-size="33">J</text>
<rect x="1048.1" y="738.5" width="162.4" height="298.6" fill="#c0c0c0"/>
<clipPath id="cK"><rect x="953.3" y="740.6" width="346.1" height="296.5"/></clipPath>
<path d="M985.8 838.5L1009.5 793M1009.5 793L1035.6 782.8M1035.6 782.8L1061.6 776.9M1061.6 776.9L1086.5 833.1M1086.5 833.1L1112.1 851.5M1112.1 851.5L1138.2 848.7M1138.2 848.7L1164.3 797.5M1164.3 797.5L1189.2 887.8M1189.2 887.8L1213.6 920.8M1213.6 920.8L1241.3 916.7M1241.3 916.7L1266.9 864.6M1266.9 864.6L1294.6 869.3" stroke="#1a1a1a" stroke-width="1.15" fill="none" clip-path="url(#cK)"/>
<path d="M985.8 1002.5L1009.5 993.3M1009.5 993.3L1035.6 993.3M1035.6 993.3L1061.6 982.6M1061.6 982.6L1086.5 996.1M1086.5 996.1L1112.1 1009.2M1112.1 1009.2L1138.2 997.8M1138.2 997.8L1164.3 982.6M1164.3 982.6L1189.2 1012.7M1189.2 1012.7L1213.6 1027.7M1213.6 1027.7L1241.3 1023.9M1241.3 1023.9L1266.9 1011.1M1266.9 1011.1L1294.6 1002.1" stroke="#1a1a1a" stroke-width="1.15" fill="none" clip-path="url(#cK)"/>
<line x1="946.3" y1="740.6" x2="1299.4" y2="740.6" stroke="#000" stroke-width="1.9" stroke-linecap="butt"/>
<line x1="953.3" y1="739.65" x2="953.3" y2="1044.1" stroke="#000" stroke-width="1.9" stroke-linecap="butt"/>
<line x1="1299.4" y1="739.65" x2="1299.4" y2="1038.05" stroke="#000" stroke-width="1.9" stroke-linecap="butt"/>
<line x1="953.3" y1="1037.1" x2="1299.4" y2="1037.1" stroke="#000" stroke-width="1.9" stroke-linecap="butt"/>
<line x1="946.3" y1="740.6" x2="953.3" y2="740.6" stroke="#000" stroke-width="1.9" stroke-linecap="butt"/>
<text class="s" x="903.85" y="749.2" font-size="29.3">6.0</text>
<line x1="946.3" y1="859.1" x2="953.3" y2="859.1" stroke="#000" stroke-width="1.9" stroke-linecap="butt"/>
<text class="s" x="903.85" y="867.7" font-size="29.3">4.0</text>
<line x1="946.3" y1="977.9" x2="953.3" y2="977.9" stroke="#000" stroke-width="1.9" stroke-linecap="butt"/>
<text class="s" x="903.85" y="986.5" font-size="29.3">2.0</text>
<line x1="949.3" y1="799.9" x2="953.3" y2="799.9" stroke="#000" stroke-width="1.9" stroke-linecap="butt"/>
<line x1="949.3" y1="918.5" x2="953.3" y2="918.5" stroke="#000" stroke-width="1.9" stroke-linecap="butt"/>
<line x1="949.3" y1="1037.1" x2="953.3" y2="1037.1" stroke="#000" stroke-width="1.9" stroke-linecap="butt"/>
<line x1="991.7" y1="1037.1" x2="991.7" y2="1044.1" stroke="#000" stroke-width="1.9" stroke-linecap="butt"/>
<line x1="1029.9" y1="1037.1" x2="1029.9" y2="1044.1" stroke="#000" stroke-width="1.9" stroke-linecap="butt"/>
<line x1="1068.3" y1="1037.1" x2="1068.3" y2="1044.1" stroke="#000" stroke-width="1.9" stroke-linecap="butt"/>
<line x1="1106.9" y1="1037.1" x2="1106.9" y2="1044.1" stroke="#000" stroke-width="1.9" stroke-linecap="butt"/>
<line x1="1145.3" y1="1037.1" x2="1145.3" y2="1044.1" stroke="#000" stroke-width="1.9" stroke-linecap="butt"/>
<line x1="1183.2" y1="1037.1" x2="1183.2" y2="1044.1" stroke="#000" stroke-width="1.9" stroke-linecap="butt"/>
<line x1="1222.3" y1="1037.1" x2="1222.3" y2="1044.1" stroke="#000" stroke-width="1.9" stroke-linecap="butt"/>
<line x1="1260.8" y1="1037.1" x2="1260.8" y2="1044.1" stroke="#000" stroke-width="1.9" stroke-linecap="butt"/>
<line x1="1299.4" y1="1037.1" x2="1299.4" y2="1044.1" stroke="#000" stroke-width="1.9" stroke-linecap="butt"/>
<path d="M985.8 833.2l1.39 1.02 1.72 -0.01 0.53 1.64 1.4 1.01 -0.54 1.64 0.54 1.64 -1.4 1.01 -0.53 1.64 -1.72 -0.01 -1.39 1.02 -1.39 -1.02 -1.72 0.01 -0.53 -1.64 -1.4 -1.01 0.54 -1.64 -0.54 -1.64 1.4 -1.01 0.53 -1.64 1.72 0.01zM1009.5 787.7l1.39 1.02 1.72 -0.01 0.53 1.64 1.4 1.01 -0.54 1.64 0.54 1.64 -1.4 1.01 -0.53 1.64 -1.72 -0.01 -1.39 1.02 -1.39 -1.02 -1.72 0.01 -0.53 -1.64 -1.4 -1.01 0.54 -1.64 -0.54 -1.64 1.4 -1.01 0.53 -1.64 1.72 0.01zM1035.6 777.5l1.39 1.02 1.72 -0.01 0.53 1.64 1.4 1.01 -0.54 1.64 0.54 1.64 -1.4 1.01 -0.53 1.64 -1.72 -0.01 -1.39 1.02 -1.39 -1.02 -1.72 0.01 -0.53 -1.64 -1.4 -1.01 0.54 -1.64 -0.54 -1.64 1.4 -1.01 0.53 -1.64 1.72 0.01zM1061.6 771.6l1.39 1.02 1.72 -0.01 0.53 1.64 1.4 1.01 -0.54 1.64 0.54 1.64 -1.4 1.01 -0.53 1.64 -1.72 -0.01 -1.39 1.02 -1.39 -1.02 -1.72 0.01 -0.53 -1.64 -1.4 -1.01 0.54 -1.64 -0.54 -1.64 1.4 -1.01 0.53 -1.64 1.72 0.01zM1086.5 827.8l1.39 1.02 1.72 -0.01 0.53 1.64 1.4 1.01 -0.54 1.64 0.54 1.64 -1.4 1.01 -0.53 1.64 -1.72 -0.01 -1.39 1.02 -1.39 -1.02 -1.72 0.01 -0.53 -1.64 -1.4 -1.01 0.54 -1.64 -0.54 -1.64 1.4 -1.01 0.53 -1.64 1.72 0.01zM1112.1 846.2l1.39 1.02 1.72 -0.01 0.53 1.64 1.4 1.01 -0.54 1.64 0.54 1.64 -1.4 1.01 -0.53 1.64 -1.72 -0.01 -1.39 1.02 -1.39 -1.02 -1.72 0.01 -0.53 -1.64 -1.4 -1.01 0.54 -1.64 -0.54 -1.64 1.4 -1.01 0.53 -1.64 1.72 0.01zM1138.2 843.4l1.39 1.02 1.72 -0.01 0.53 1.64 1.4 1.01 -0.54 1.64 0.54 1.64 -1.4 1.01 -0.53 1.64 -1.72 -0.01 -1.39 1.02 -1.39 -1.02 -1.72 0.01 -0.53 -1.64 -1.4 -1.01 0.54 -1.64 -0.54 -1.64 1.4 -1.01 0.53 -1.64 1.72 0.01zM1164.3 792.2l1.39 1.02 1.72 -0.01 0.53 1.64 1.4 1.01 -0.54 1.64 0.54 1.64 -1.4 1.01 -0.53 1.64 -1.72 -0.01 -1.39 1.02 -1.39 -1.02 -1.72 0.01 -0.53 -1.64 -1.4 -1.01 0.54 -1.64 -0.54 -1.64 1.4 -1.01 0.53 -1.64 1.72 0.01zM1189.2 882.5l1.39 1.02 1.72 -0.01 0.53 1.64 1.4 1.01 -0.54 1.64 0.54 1.64 -1.4 1.01 -0.53 1.64 -1.72 -0.01 -1.39 1.02 -1.39 -1.02 -1.72 0.01 -0.53 -1.64 -1.4 -1.01 0.54 -1.64 -0.54 -1.64 1.4 -1.01 0.53 -1.64 1.72 0.01zM1213.6 915.5l1.39 1.02 1.72 -0.01 0.53 1.64 1.4 1.01 -0.54 1.64 0.54 1.64 -1.4 1.01 -0.53 1.64 -1.72 -0.01 -1.39 1.02 -1.39 -1.02 -1.72 0.01 -0.53 -1.64 -1.4 -1.01 0.54 -1.64 -0.54 -1.64 1.4 -1.01 0.53 -1.64 1.72 0.01zM1241.3 911.4l1.39 1.02 1.72 -0.01 0.53 1.64 1.4 1.01 -0.54 1.64 0.54 1.64 -1.4 1.01 -0.53 1.64 -1.72 -0.01 -1.39 1.02 -1.39 -1.02 -1.72 0.01 -0.53 -1.64 -1.4 -1.01 0.54 -1.64 -0.54 -1.64 1.4 -1.01 0.53 -1.64 1.72 0.01zM1266.9 859.3l1.39 1.02 1.72 -0.01 0.53 1.64 1.4 1.01 -0.54 1.64 0.54 1.64 -1.4 1.01 -0.53 1.64 -1.72 -0.01 -1.39 1.02 -1.39 -1.02 -1.72 0.01 -0.53 -1.64 -1.4 -1.01 0.54 -1.64 -0.54 -1.64 1.4 -1.01 0.53 -1.64 1.72 0.01zM1294.6 864l1.39 1.02 1.72 -0.01 0.53 1.64 1.4 1.01 -0.54 1.64 0.54 1.64 -1.4 1.01 -0.53 1.64 -1.72 -0.01 -1.39 1.02 -1.39 -1.02 -1.72 0.01 -0.53 -1.64 -1.4 -1.01 0.54 -1.64 -0.54 -1.64 1.4 -1.01 0.53 -1.64 1.72 0.01z" fill="#fff" stroke="#222" stroke-width="1.05" stroke-linejoin="round"/>
<path d="M985.8 996.7l1.5 1.19 1.91 -0.08 0.51 1.84 1.59 1.06 -0.67 1.79 0.67 1.79 -1.59 1.06 -0.51 1.84 -1.91 -0.08 -1.5 1.19 -1.5 -1.19 -1.91 0.08 -0.51 -1.84 -1.59 -1.06 0.67 -1.79 -0.67 -1.79 1.59 -1.06 0.51 -1.84 1.91 0.08zM1009.5 987.5l1.5 1.19 1.91 -0.08 0.51 1.84 1.59 1.06 -0.67 1.79 0.67 1.79 -1.59 1.06 -0.51 1.84 -1.91 -0.08 -1.5 1.19 -1.5 -1.19 -1.91 0.08 -0.51 -1.84 -1.59 -1.06 0.67 -1.79 -0.67 -1.79 1.59 -1.06 0.51 -1.84 1.91 0.08zM1035.6 987.5l1.5 1.19 1.91 -0.08 0.51 1.84 1.59 1.06 -0.67 1.79 0.67 1.79 -1.59 1.06 -0.51 1.84 -1.91 -0.08 -1.5 1.19 -1.5 -1.19 -1.91 0.08 -0.51 -1.84 -1.59 -1.06 0.67 -1.79 -0.67 -1.79 1.59 -1.06 0.51 -1.84 1.91 0.08zM1061.6 976.8l1.5 1.19 1.91 -0.08 0.51 1.84 1.59 1.06 -0.67 1.79 0.67 1.79 -1.59 1.06 -0.51 1.84 -1.91 -0.08 -1.5 1.19 -1.5 -1.19 -1.91 0.08 -0.51 -1.84 -1.59 -1.06 0.67 -1.79 -0.67 -1.79 1.59 -1.06 0.51 -1.84 1.91 0.08zM1086.5 990.3l1.5 1.19 1.91 -0.08 0.51 1.84 1.59 1.06 -0.67 1.79 0.67 1.79 -1.59 1.06 -0.51 1.84 -1.91 -0.08 -1.5 1.19 -1.5 -1.19 -1.91 0.08 -0.51 -1.84 -1.59 -1.06 0.67 -1.79 -0.67 -1.79 1.59 -1.06 0.51 -1.84 1.91 0.08zM1112.1 1003.4l1.5 1.19 1.91 -0.08 0.51 1.84 1.59 1.06 -0.67 1.79 0.67 1.79 -1.59 1.06 -0.51 1.84 -1.91 -0.08 -1.5 1.19 -1.5 -1.19 -1.91 0.08 -0.51 -1.84 -1.59 -1.06 0.67 -1.79 -0.67 -1.79 1.59 -1.06 0.51 -1.84 1.91 0.08zM1138.2 992l1.5 1.19 1.91 -0.08 0.51 1.84 1.59 1.06 -0.67 1.79 0.67 1.79 -1.59 1.06 -0.51 1.84 -1.91 -0.08 -1.5 1.19 -1.5 -1.19 -1.91 0.08 -0.51 -1.84 -1.59 -1.06 0.67 -1.79 -0.67 -1.79 1.59 -1.06 0.51 -1.84 1.91 0.08zM1164.3 976.8l1.5 1.19 1.91 -0.08 0.51 1.84 1.59 1.06 -0.67 1.79 0.67 1.79 -1.59 1.06 -0.51 1.84 -1.91 -0.08 -1.5 1.19 -1.5 -1.19 -1.91 0.08 -0.51 -1.84 -1.59 -1.06 0.67 -1.79 -0.67 -1.79 1.59 -1.06 0.51 -1.84 1.91 0.08zM1189.2 1006.9l1.5 1.19 1.91 -0.08 0.51 1.84 1.59 1.06 -0.67 1.79 0.67 1.79 -1.59 1.06 -0.51 1.84 -1.91 -0.08 -1.5 1.19 -1.5 -1.19 -1.91 0.08 -0.51 -1.84 -1.59 -1.06 0.67 -1.79 -0.67 -1.79 1.59 -1.06 0.51 -1.84 1.91 0.08zM1213.6 1021.9l1.5 1.19 1.91 -0.08 0.51 1.84 1.59 1.06 -0.67 1.79 0.67 1.79 -1.59 1.06 -0.51 1.84 -1.91 -0.08 -1.5 1.19 -1.5 -1.19 -1.91 0.08 -0.51 -1.84 -1.59 -1.06 0.67 -1.79 -0.67 -1.79 1.59 -1.06 0.51 -1.84 1.91 0.08zM1241.3 1018.1l1.5 1.19 1.91 -0.08 0.51 1.84 1.59 1.06 -0.67 1.79 0.67 1.79 -1.59 1.06 -0.51 1.84 -1.91 -0.08 -1.5 1.19 -1.5 -1.19 -1.91 0.08 -0.51 -1.84 -1.59 -1.06 0.67 -1.79 -0.67 -1.79 1.59 -1.06 0.51 -1.84 1.91 0.08zM1266.9 1005.3l1.5 1.19 1.91 -0.08 0.51 1.84 1.59 1.06 -0.67 1.79 0.67 1.79 -1.59 1.06 -0.51 1.84 -1.91 -0.08 -1.5 1.19 -1.5 -1.19 -1.91 0.08 -0.51 -1.84 -1.59 -1.06 0.67 -1.79 -0.67 -1.79 1.59 -1.06 0.51 -1.84 1.91 0.08zM1294.6 996.3l1.5 1.19 1.91 -0.08 0.51 1.84 1.59 1.06 -0.67 1.79 0.67 1.79 -1.59 1.06 -0.51 1.84 -1.91 -0.08 -1.5 1.19 -1.5 -1.19 -1.91 0.08 -0.51 -1.84 -1.59 -1.06 0.67 -1.79 -0.67 -1.79 1.59 -1.06 0.51 -1.84 1.91 0.08z" fill="#000" stroke="#000" stroke-width="0.4" stroke-linejoin="round"/>
<text class="b" x="961.86" y="768.6" font-size="33">K</text>
<rect x="1055.4" y="1072.4" width="162.4" height="297.2" fill="#c0c0c0"/>
<clipPath id="cL"><rect x="953" y="1072.4" width="346.7" height="297.2"/></clipPath>
<path d="M964.7 1247.7L991.3 1208.7M991.3 1208.7L1016.1 1208.7M1016.1 1208.7L1042.3 1211.2M1042.3 1211.2L1067.9 1232.8M1067.9 1232.8L1092 1214.9M1092 1214.9L1118.9 1248.5M1118.9 1248.5L1145 1242.8M1145 1242.8L1170.6 1263.4M1170.6 1263.4L1195.4 1252.2M1195.4 1252.2L1221.6 1261.4M1221.6 1261.4L1247.4 1265.1M1247.4 1265.1L1272.3 1258.9" stroke="#1a1a1a" stroke-width="1.15" fill="none" clip-path="url(#cL)"/>
<path d="M964.7 1351L991.3 1341M991.3 1341L1016.1 1333.5M1016.1 1333.5L1042.3 1343.5M1042.3 1343.5L1067.9 1339M1067.9 1339L1092 1341.7M1092 1341.7L1118.9 1351M1118.9 1351L1145 1351M1145 1351L1170.6 1356.7M1170.6 1356.7L1195.4 1352.7M1195.4 1352.7L1221.6 1367.1M1221.6 1367.1L1247.4 1362.1M1247.4 1362.1L1272.3 1358.4" stroke="#1a1a1a" stroke-width="1.15" fill="none" clip-path="url(#cL)"/>
<line x1="946" y1="1072.4" x2="1299.7" y2="1072.4" stroke="#000" stroke-width="1.9" stroke-linecap="butt"/>
<line x1="953" y1="1071.45" x2="953" y2="1376.6" stroke="#000" stroke-width="1.9" stroke-linecap="butt"/>
<line x1="1299.7" y1="1071.45" x2="1299.7" y2="1370.55" stroke="#000" stroke-width="1.9" stroke-linecap="butt"/>
<line x1="953" y1="1369.6" x2="1299.7" y2="1369.6" stroke="#000" stroke-width="1.9" stroke-linecap="butt"/>
<line x1="946" y1="1072.4" x2="953" y2="1072.4" stroke="#000" stroke-width="1.9" stroke-linecap="butt"/>
<text class="s" x="904.51" y="1081" font-size="29">6.0</text>
<line x1="946" y1="1191" x2="953" y2="1191" stroke="#000" stroke-width="1.9" stroke-linecap="butt"/>
<text class="s" x="904.51" y="1199.6" font-size="29">4.0</text>
<line x1="946" y1="1309.9" x2="953" y2="1309.9" stroke="#000" stroke-width="1.9" stroke-linecap="butt"/>
<text class="s" x="904.51" y="1318.5" font-size="29">2.0</text>
<line x1="949" y1="1132.1" x2="953" y2="1132.1" stroke="#000" stroke-width="1.9" stroke-linecap="butt"/>
<line x1="949" y1="1250.7" x2="953" y2="1250.7" stroke="#000" stroke-width="1.9" stroke-linecap="butt"/>
<line x1="949" y1="1369.6" x2="953" y2="1369.6" stroke="#000" stroke-width="1.9" stroke-linecap="butt"/>
<line x1="991.3" y1="1369.6" x2="991.3" y2="1376.6" stroke="#000" stroke-width="1.9" stroke-linecap="butt"/>
<line x1="1029.8" y1="1369.6" x2="1029.8" y2="1376.6" stroke="#000" stroke-width="1.9" stroke-linecap="butt"/>
<line x1="1068.4" y1="1369.6" x2="1068.4" y2="1376.6" stroke="#000" stroke-width="1.9" stroke-linecap="butt"/>
<line x1="1107.2" y1="1369.6" x2="1107.2" y2="1376.6" stroke="#000" stroke-width="1.9" stroke-linecap="butt"/>
<line x1="1145.7" y1="1369.6" x2="1145.7" y2="1376.6" stroke="#000" stroke-width="1.9" stroke-linecap="butt"/>
<line x1="1184" y1="1369.6" x2="1184" y2="1376.6" stroke="#000" stroke-width="1.9" stroke-linecap="butt"/>
<line x1="1222.6" y1="1369.6" x2="1222.6" y2="1376.6" stroke="#000" stroke-width="1.9" stroke-linecap="butt"/>
<line x1="1261.1" y1="1369.6" x2="1261.1" y2="1376.6" stroke="#000" stroke-width="1.9" stroke-linecap="butt"/>
<line x1="1299.7" y1="1369.6" x2="1299.7" y2="1376.6" stroke="#000" stroke-width="1.9" stroke-linecap="butt"/>
<path d="M964.7 1242.4l1.39 1.02 1.72 -0.01 0.53 1.64 1.4 1.01 -0.54 1.64 0.54 1.64 -1.4 1.01 -0.53 1.64 -1.72 -0.01 -1.39 1.02 -1.39 -1.02 -1.72 0.01 -0.53 -1.64 -1.4 -1.01 0.54 -1.64 -0.54 -1.64 1.4 -1.01 0.53 -1.64 1.72 0.01zM991.3 1203.4l1.39 1.02 1.72 -0.01 0.53 1.64 1.4 1.01 -0.54 1.64 0.54 1.64 -1.4 1.01 -0.53 1.64 -1.72 -0.01 -1.39 1.02 -1.39 -1.02 -1.72 0.01 -0.53 -1.64 -1.4 -1.01 0.54 -1.64 -0.54 -1.64 1.4 -1.01 0.53 -1.64 1.72 0.01zM1016.1 1203.4l1.39 1.02 1.72 -0.01 0.53 1.64 1.4 1.01 -0.54 1.64 0.54 1.64 -1.4 1.01 -0.53 1.64 -1.72 -0.01 -1.39 1.02 -1.39 -1.02 -1.72 0.01 -0.53 -1.64 -1.4 -1.01 0.54 -1.64 -0.54 -1.64 1.4 -1.01 0.53 -1.64 1.72 0.01zM1042.3 1205.9l1.39 1.02 1.72 -0.01 0.53 1.64 1.4 1.01 -0.54 1.64 0.54 1.64 -1.4 1.01 -0.53 1.64 -1.72 -0.01 -1.39 1.02 -1.39 -1.02 -1.72 0.01 -0.53 -1.64 -1.4 -1.01 0.54 -1.64 -0.54 -1.64 1.4 -1.01 0.53 -1.64 1.72 0.01zM1067.9 1227.5l1.39 1.02 1.72 -0.01 0.53 1.64 1.4 1.01 -0.54 1.64 0.54 1.64 -1.4 1.01 -0.53 1.64 -1.72 -0.01 -1.39 1.02 -1.39 -1.02 -1.72 0.01 -0.53 -1.64 -1.4 -1.01 0.54 -1.64 -0.54 -1.64 1.4 -1.01 0.53 -1.64 1.72 0.01zM1092 1209.6l1.39 1.02 1.72 -0.01 0.53 1.64 1.4 1.01 -0.54 1.64 0.54 1.64 -1.4 1.01 -0.53 1.64 -1.72 -0.01 -1.39 1.02 -1.39 -1.02 -1.72 0.01 -0.53 -1.64 -1.4 -1.01 0.54 -1.64 -0.54 -1.64 1.4 -1.01 0.53 -1.64 1.72 0.01zM1118.9 1243.2l1.39 1.02 1.72 -0.01 0.53 1.64 1.4 1.01 -0.54 1.64 0.54 1.64 -1.4 1.01 -0.53 1.64 -1.72 -0.01 -1.39 1.02 -1.39 -1.02 -1.72 0.01 -0.53 -1.64 -1.4 -1.01 0.54 -1.64 -0.54 -1.64 1.4 -1.01 0.53 -1.64 1.72 0.01zM1145 1237.5l1.39 1.02 1.72 -0.01 0.53 1.64 1.4 1.01 -0.54 1.64 0.54 1.64 -1.4 1.01 -0.53 1.64 -1.72 -0.01 -1.39 1.02 -1.39 -1.02 -1.72 0.01 -0.53 -1.64 -1.4 -1.01 0.54 -1.64 -0.54 -1.64 1.4 -1.01 0.53 -1.64 1.72 0.01zM1170.6 1258.1l1.39 1.02 1.72 -0.01 0.53 1.64 1.4 1.01 -0.54 1.64 0.54 1.64 -1.4 1.01 -0.53 1.64 -1.72 -0.01 -1.39 1.02 -1.39 -1.02 -1.72 0.01 -0.53 -1.64 -1.4 -1.01 0.54 -1.64 -0.54 -1.64 1.4 -1.01 0.53 -1.64 1.72 0.01zM1195.4 1246.9l1.39 1.02 1.72 -0.01 0.53 1.64 1.4 1.01 -0.54 1.64 0.54 1.64 -1.4 1.01 -0.53 1.64 -1.72 -0.01 -1.39 1.02 -1.39 -1.02 -1.72 0.01 -0.53 -1.64 -1.4 -1.01 0.54 -1.64 -0.54 -1.64 1.4 -1.01 0.53 -1.64 1.72 0.01zM1221.6 1256.1l1.39 1.02 1.72 -0.01 0.53 1.64 1.4 1.01 -0.54 1.64 0.54 1.64 -1.4 1.01 -0.53 1.64 -1.72 -0.01 -1.39 1.02 -1.39 -1.02 -1.72 0.01 -0.53 -1.64 -1.4 -1.01 0.54 -1.64 -0.54 -1.64 1.4 -1.01 0.53 -1.64 1.72 0.01zM1247.4 1259.8l1.39 1.02 1.72 -0.01 0.53 1.64 1.4 1.01 -0.54 1.64 0.54 1.64 -1.4 1.01 -0.53 1.64 -1.72 -0.01 -1.39 1.02 -1.39 -1.02 -1.72 0.01 -0.53 -1.64 -1.4 -1.01 0.54 -1.64 -0.54 -1.64 1.4 -1.01 0.53 -1.64 1.72 0.01zM1272.3 1253.6l1.39 1.02 1.72 -0.01 0.53 1.64 1.4 1.01 -0.54 1.64 0.54 1.64 -1.4 1.01 -0.53 1.64 -1.72 -0.01 -1.39 1.02 -1.39 -1.02 -1.72 0.01 -0.53 -1.64 -1.4 -1.01 0.54 -1.64 -0.54 -1.64 1.4 -1.01 0.53 -1.64 1.72 0.01z" fill="#fff" stroke="#222" stroke-width="1.05" stroke-linejoin="round"/>
<path d="M964.7 1345.2l1.5 1.19 1.91 -0.08 0.51 1.84 1.59 1.06 -0.67 1.79 0.67 1.79 -1.59 1.06 -0.51 1.84 -1.91 -0.08 -1.5 1.19 -1.5 -1.19 -1.91 0.08 -0.51 -1.84 -1.59 -1.06 0.67 -1.79 -0.67 -1.79 1.59 -1.06 0.51 -1.84 1.91 0.08zM991.3 1335.2l1.5 1.19 1.91 -0.08 0.51 1.84 1.59 1.06 -0.67 1.79 0.67 1.79 -1.59 1.06 -0.51 1.84 -1.91 -0.08 -1.5 1.19 -1.5 -1.19 -1.91 0.08 -0.51 -1.84 -1.59 -1.06 0.67 -1.79 -0.67 -1.79 1.59 -1.06 0.51 -1.84 1.91 0.08zM1016.1 1327.7l1.5 1.19 1.91 -0.08 0.51 1.84 1.59 1.06 -0.67 1.79 0.67 1.79 -1.59 1.06 -0.51 1.84 -1.91 -0.08 -1.5 1.19 -1.5 -1.19 -1.91 0.08 -0.51 -1.84 -1.59 -1.06 0.67 -1.79 -0.67 -1.79 1.59 -1.06 0.51 -1.84 1.91 0.08zM1042.3 1337.7l1.5 1.19 1.91 -0.08 0.51 1.84 1.59 1.06 -0.67 1.79 0.67 1.79 -1.59 1.06 -0.51 1.84 -1.91 -0.08 -1.5 1.19 -1.5 -1.19 -1.91 0.08 -0.51 -1.84 -1.59 -1.06 0.67 -1.79 -0.67 -1.79 1.59 -1.06 0.51 -1.84 1.91 0.08zM1067.9 1333.2l1.5 1.19 1.91 -0.08 0.51 1.84 1.59 1.06 -0.67 1.79 0.67 1.79 -1.59 1.06 -0.51 1.84 -1.91 -0.08 -1.5 1.19 -1.5 -1.19 -1.91 0.08 -0.51 -1.84 -1.59 -1.06 0.67 -1.79 -0.67 -1.79 1.59 -1.06 0.51 -1.84 1.91 0.08zM1092 1335.9l1.5 1.19 1.91 -0.08 0.51 1.84 1.59 1.06 -0.67 1.79 0.67 1.79 -1.59 1.06 -0.51 1.84 -1.91 -0.08 -1.5 1.19 -1.5 -1.19 -1.91 0.08 -0.51 -1.84 -1.59 -1.06 0.67 -1.79 -0.67 -1.79 1.59 -1.06 0.51 -1.84 1.91 0.08zM1118.9 1345.2l1.5 1.19 1.91 -0.08 0.51 1.84 1.59 1.06 -0.67 1.79 0.67 1.79 -1.59 1.06 -0.51 1.84 -1.91 -0.08 -1.5 1.19 -1.5 -1.19 -1.91 0.08 -0.51 -1.84 -1.59 -1.06 0.67 -1.79 -0.67 -1.79 1.59 -1.06 0.51 -1.84 1.91 0.08zM1145 1345.2l1.5 1.19 1.91 -0.08 0.51 1.84 1.59 1.06 -0.67 1.79 0.67 1.79 -1.59 1.06 -0.51 1.84 -1.91 -0.08 -1.5 1.19 -1.5 -1.19 -1.91 0.08 -0.51 -1.84 -1.59 -1.06 0.67 -1.79 -0.67 -1.79 1.59 -1.06 0.51 -1.84 1.91 0.08zM1170.6 1350.9l1.5 1.19 1.91 -0.08 0.51 1.84 1.59 1.06 -0.67 1.79 0.67 1.79 -1.59 1.06 -0.51 1.84 -1.91 -0.08 -1.5 1.19 -1.5 -1.19 -1.91 0.08 -0.51 -1.84 -1.59 -1.06 0.67 -1.79 -0.67 -1.79 1.59 -1.06 0.51 -1.84 1.91 0.08zM1195.4 1346.9l1.5 1.19 1.91 -0.08 0.51 1.84 1.59 1.06 -0.67 1.79 0.67 1.79 -1.59 1.06 -0.51 1.84 -1.91 -0.08 -1.5 1.19 -1.5 -1.19 -1.91 0.08 -0.51 -1.84 -1.59 -1.06 0.67 -1.79 -0.67 -1.79 1.59 -1.06 0.51 -1.84 1.91 0.08zM1221.6 1361.3l1.5 1.19 1.91 -0.08 0.51 1.84 1.59 1.06 -0.67 1.79 0.67 1.79 -1.59 1.06 -0.51 1.84 -1.91 -0.08 -1.5 1.19 -1.5 -1.19 -1.91 0.08 -0.51 -1.84 -1.59 -1.06 0.67 -1.79 -0.67 -1.79 1.59 -1.06 0.51 -1.84 1.91 0.08zM1247.4 1356.3l1.5 1.19 1.91 -0.08 0.51 1.84 1.59 1.06 -0.67 1.79 0.67 1.79 -1.59 1.06 -0.51 1.84 -1.91 -0.08 -1.5 1.19 -1.5 -1.19 -1.91 0.08 -0.51 -1.84 -1.59 -1.06 0.67 -1.79 -0.67 -1.79 1.59 -1.06 0.51 -1.84 1.91 0.08zM1272.3 1352.6l1.5 1.19 1.91 -0.08 0.51 1.84 1.59 1.06 -0.67 1.79 0.67 1.79 -1.59 1.06 -0.51 1.84 -1.91 -0.08 -1.5 1.19 -1.5 -1.19 -1.91 0.08 -0.51 -1.84 -1.59 -1.06 0.67 -1.79 -0.67 -1.79 1.59 -1.06 0.51 -1.84 1.91 0.08z" fill="#000" stroke="#000" stroke-width="0.4" stroke-linejoin="round"/>
<text class="b" x="962.06" y="1101.8" font-size="33">L</text>
<text class="s" x="978.98" y="1414.6" font-size="30">12</text>
<text class="s" x="1014.85" y="1414.6" font-size="30">15</text>
<text class="s" x="1052.15" y="1414.6" font-size="30">18</text>
<text class="s" x="1095.32" y="1414.6" font-size="30">21</text>
<text class="s" x="1133.7" y="1414.6" font-size="30">00</text>
<text class="s" x="1171" y="1414.6" font-size="30">03</text>
<text class="s" x="1208.15" y="1414.6" font-size="30">06</text>
<text class="s" x="1246.9" y="1414.6" font-size="30">09</text>
<text class="s" x="1282.38" y="1414.6" font-size="30">12</text>
<rect x="1480.3" y="55.8" width="162.5" height="296.6" fill="#c0c0c0"/>
<clipPath id="cM"><rect x="1380.2" y="55.8" width="346.8" height="296.6"/></clipPath>
<path d="M1399 335L1425 330.5M1425 330.5L1450.4 322.3M1450.4 322.3L1474.5 320.6M1474.5 320.6L1500.5 320.6M1500.5 320.6L1526.9 323.1M1526.9 323.1L1552.7 327.3M1552.7 327.3L1582.7 338M1582.7 338L1604.3 328M1604.3 328L1632.1 325.6M1632.1 325.6L1657.2 331.8M1657.2 331.8L1680.8 334.8M1680.8 334.8L1706.6 329.8" stroke="#1a1a1a" stroke-width="1.15" fill="none" clip-path="url(#cM)"/>
<path d="M1399 152.2L1425 150M1425 150L1450.4 101.6M1450.4 101.6L1474.5 147.5M1474.5 147.5L1500.5 163.4M1500.5 163.4L1526.9 76.5M1526.9 76.5L1552.7 195.2M1552.7 195.2L1582.7 170.4M1582.7 170.4L1604.3 136.4M1604.3 136.4L1632.1 182M1632.1 182L1657.2 155M1657.2 155L1680.8 149.3M1680.8 149.3L1706.6 227.5" stroke="#1a1a1a" stroke-width="1.15" fill="none" clip-path="url(#cM)"/>
<line x1="1373.2" y1="55.8" x2="1727" y2="55.8" stroke="#000" stroke-width="1.9" stroke-linecap="butt"/>
<line x1="1380.2" y1="54.85" x2="1380.2" y2="359.4" stroke="#000" stroke-width="1.9" stroke-linecap="butt"/>
<line x1="1727" y1="54.85" x2="1727" y2="353.35" stroke="#000" stroke-width="1.9" stroke-linecap="butt"/>
<line x1="1380.2" y1="352.4" x2="1727" y2="352.4" stroke="#000" stroke-width="1.9" stroke-linecap="butt"/>
<line x1="1373.2" y1="55.6" x2="1380.2" y2="55.6" stroke="#000" stroke-width="1.9" stroke-linecap="butt"/>
<text class="s" x="1317.3" y="63.9" font-size="29.3">0.06</text>
<line x1="1373.2" y1="129.4" x2="1380.2" y2="129.4" stroke="#000" stroke-width="1.9" stroke-linecap="butt"/>
<text class="s" x="1317.6" y="137.7" font-size="29.3">0.05</text>
<line x1="1373.2" y1="203.9" x2="1380.2" y2="203.9" stroke="#000" stroke-width="1.9" stroke-linecap="butt"/>
<text class="s" x="1316.86" y="212.2" font-size="29.3">0.04</text>
<line x1="1373.2" y1="278.4" x2="1380.2" y2="278.4" stroke="#000" stroke-width="1.9" stroke-linecap="butt"/>
<text class="s" x="1317.6" y="286.7" font-size="29.3">0.03</text>
<line x1="1373.2" y1="352.4" x2="1380.2" y2="352.4" stroke="#000" stroke-width="1.9" stroke-linecap="butt"/>
<text class="s" x="1318.04" y="360.7" font-size="29.3">0.02</text>
<line x1="1376.2" y1="92.5" x2="1380.2" y2="92.5" stroke="#000" stroke-width="1.9" stroke-linecap="butt"/>
<line x1="1376.2" y1="166.7" x2="1380.2" y2="166.7" stroke="#000" stroke-width="1.9" stroke-linecap="butt"/>
<line x1="1376.2" y1="241.2" x2="1380.2" y2="241.2" stroke="#000" stroke-width="1.9" stroke-linecap="butt"/>
<line x1="1376.2" y1="315.4" x2="1380.2" y2="315.4" stroke="#000" stroke-width="1.9" stroke-linecap="butt"/>
<line x1="1419.8" y1="352.4" x2="1419.8" y2="359.4" stroke="#000" stroke-width="1.9" stroke-linecap="butt"/>
<line x1="1457.8" y1="352.4" x2="1457.8" y2="359.4" stroke="#000" stroke-width="1.9" stroke-linecap="butt"/>
<line x1="1496.3" y1="352.4" x2="1496.3" y2="359.4" stroke="#000" stroke-width="1.9" stroke-linecap="butt"/>
<line x1="1534.8" y1="352.4" x2="1534.8" y2="359.4" stroke="#000" stroke-width="1.9" stroke-linecap="butt"/>
<line x1="1573.3" y1="352.4" x2="1573.3" y2="359.4" stroke="#000" stroke-width="1.9" stroke-linecap="butt"/>
<line x1="1612.3" y1="352.4" x2="1612.3" y2="359.4" stroke="#000" stroke-width="1.9" stroke-linecap="butt"/>
<line x1="1650.3" y1="352.4" x2="1650.3" y2="359.4" stroke="#000" stroke-width="1.9" stroke-linecap="butt"/>
<line x1="1688.8" y1="352.4" x2="1688.8" y2="359.4" stroke="#000" stroke-width="1.9" stroke-linecap="butt"/>
<line x1="1727" y1="352.4" x2="1727" y2="359.4" stroke="#000" stroke-width="1.9" stroke-linecap="butt"/>
<path d="M1399 329.7l1.39 1.02 1.72 -0.01 0.53 1.64 1.4 1.01 -0.54 1.64 0.54 1.64 -1.4 1.01 -0.53 1.64 -1.72 -0.01 -1.39 1.02 -1.39 -1.02 -1.72 0.01 -0.53 -1.64 -1.4 -1.01 0.54 -1.64 -0.54 -1.64 1.4 -1.01 0.53 -1.64 1.72 0.01zM1425 325.2l1.39 1.02 1.72 -0.01 0.53 1.64 1.4 1.01 -0.54 1.64 0.54 1.64 -1.4 1.01 -0.53 1.64 -1.72 -0.01 -1.39 1.02 -1.39 -1.02 -1.72 0.01 -0.53 -1.64 -1.4 -1.01 0.54 -1.64 -0.54 -1.64 1.4 -1.01 0.53 -1.64 1.72 0.01zM1450.4 317l1.39 1.02 1.72 -0.01 0.53 1.64 1.4 1.01 -0.54 1.64 0.54 1.64 -1.4 1.01 -0.53 1.64 -1.72 -0.01 -1.39 1.02 -1.39 -1.02 -1.72 0.01 -0.53 -1.64 -1.4 -1.01 0.54 -1.64 -0.54 -1.64 1.4 -1.01 0.53 -1.64 1.72 0.01zM1474.5 315.3l1.39 1.02 1.72 -0.01 0.53 1.64 1.4 1.01 -0.54 1.64 0.54 1.64 -1.4 1.01 -0.53 1.64 -1.72 -0.01 -1.39 1.02 -1.39 -1.02 -1.72 0.01 -0.53 -1.64 -1.4 -1.01 0.54 -1.64 -0.54 -1.64 1.4 -1.01 0.53 -1.64 1.72 0.01zM1500.5 315.3l1.39 1.02 1.72 -0.01 0.53 1.64 1.4 1.01 -0.54 1.64 0.54 1.64 -1.4 1.01 -0.53 1.64 -1.72 -0.01 -1.39 1.02 -1.39 -1.02 -1.72 0.01 -0.53 -1.64 -1.4 -1.01 0.54 -1.64 -0.54 -1.64 1.4 -1.01 0.53 -1.64 1.72 0.01zM1526.9 317.8l1.39 1.02 1.72 -0.01 0.53 1.64 1.4 1.01 -0.54 1.64 0.54 1.64 -1.4 1.01 -0.53 1.64 -1.72 -0.01 -1.39 1.02 -1.39 -1.02 -1.72 0.01 -0.53 -1.64 -1.4 -1.01 0.54 -1.64 -0.54 -1.64 1.4 -1.01 0.53 -1.64 1.72 0.01zM1552.7 322l1.39 1.02 1.72 -0.01 0.53 1.64 1.4 1.01 -0.54 1.64 0.54 1.64 -1.4 1.01 -0.53 1.64 -1.72 -0.01 -1.39 1.02 -1.39 -1.02 -1.72 0.01 -0.53 -1.64 -1.4 -1.01 0.54 -1.64 -0.54 -1.64 1.4 -1.01 0.53 -1.64 1.72 0.01zM1582.7 332.7l1.39 1.02 1.72 -0.01 0.53 1.64 1.4 1.01 -0.54 1.64 0.54 1.64 -1.4 1.01 -0.53 1.64 -1.72 -0.01 -1.39 1.02 -1.39 -1.02 -1.72 0.01 -0.53 -1.64 -1.4 -1.01 0.54 -1.64 -0.54 -1.64 1.4 -1.01 0.53 -1.64 1.72 0.01zM1604.3 322.7l1.39 1.02 1.72 -0.01 0.53 1.64 1.4 1.01 -0.54 1.64 0.54 1.64 -1.4 1.01 -0.53 1.64 -1.72 -0.01 -1.39 1.02 -1.39 -1.02 -1.72 0.01 -0.53 -1.64 -1.4 -1.01 0.54 -1.64 -0.54 -1.64 1.4 -1.01 0.53 -1.64 1.72 0.01zM1632.1 320.3l1.39 1.02 1.72 -0.01 0.53 1.64 1.4 1.01 -0.54 1.64 0.54 1.64 -1.4 1.01 -0.53 1.64 -1.72 -0.01 -1.39 1.02 -1.39 -1.02 -1.72 0.01 -0.53 -1.64 -1.4 -1.01 0.54 -1.64 -0.54 -1.64 1.4 -1.01 0.53 -1.64 1.72 0.01zM1657.2 326.5l1.39 1.02 1.72 -0.01 0.53 1.64 1.4 1.01 -0.54 1.64 0.54 1.64 -1.4 1.01 -0.53 1.64 -1.72 -0.01 -1.39 1.02 -1.39 -1.02 -1.72 0.01 -0.53 -1.64 -1.4 -1.01 0.54 -1.64 -0.54 -1.64 1.4 -1.01 0.53 -1.64 1.72 0.01zM1680.8 329.5l1.39 1.02 1.72 -0.01 0.53 1.64 1.4 1.01 -0.54 1.64 0.54 1.64 -1.4 1.01 -0.53 1.64 -1.72 -0.01 -1.39 1.02 -1.39 -1.02 -1.72 0.01 -0.53 -1.64 -1.4 -1.01 0.54 -1.64 -0.54 -1.64 1.4 -1.01 0.53 -1.64 1.72 0.01zM1706.6 324.5l1.39 1.02 1.72 -0.01 0.53 1.64 1.4 1.01 -0.54 1.64 0.54 1.64 -1.4 1.01 -0.53 1.64 -1.72 -0.01 -1.39 1.02 -1.39 -1.02 -1.72 0.01 -0.53 -1.64 -1.4 -1.01 0.54 -1.64 -0.54 -1.64 1.4 -1.01 0.53 -1.64 1.72 0.01z" fill="#fff" stroke="#222" stroke-width="1.05" stroke-linejoin="round"/>
<path d="M1399 146.4l1.5 1.19 1.91 -0.08 0.51 1.84 1.59 1.06 -0.67 1.79 0.67 1.79 -1.59 1.06 -0.51 1.84 -1.91 -0.08 -1.5 1.19 -1.5 -1.19 -1.91 0.08 -0.51 -1.84 -1.59 -1.06 0.67 -1.79 -0.67 -1.79 1.59 -1.06 0.51 -1.84 1.91 0.08zM1425 144.2l1.5 1.19 1.91 -0.08 0.51 1.84 1.59 1.06 -0.67 1.79 0.67 1.79 -1.59 1.06 -0.51 1.84 -1.91 -0.08 -1.5 1.19 -1.5 -1.19 -1.91 0.08 -0.51 -1.84 -1.59 -1.06 0.67 -1.79 -0.67 -1.79 1.59 -1.06 0.51 -1.84 1.91 0.08zM1450.4 95.8l1.5 1.19 1.91 -0.08 0.51 1.84 1.59 1.06 -0.67 1.79 0.67 1.79 -1.59 1.06 -0.51 1.84 -1.91 -0.08 -1.5 1.19 -1.5 -1.19 -1.91 0.08 -0.51 -1.84 -1.59 -1.06 0.67 -1.79 -0.67 -1.79 1.59 -1.06 0.51 -1.84 1.91 0.08zM1474.5 141.7l1.5 1.19 1.91 -0.08 0.51 1.84 1.59 1.06 -0.67 1.79 0.67 1.79 -1.59 1.06 -0.51 1.84 -1.91 -0.08 -1.5 1.19 -1.5 -1.19 -1.91 0.08 -0.51 -1.84 -1.59 -1.06 0.67 -1.79 -0.67 -1.79 1.59 -1.06 0.51 -1.84 1.91 0.08zM1500.5 157.6l1.5 1.19 1.91 -0.08 0.51 1.84 1.59 1.06 -0.67 1.79 0.67 1.79 -1.59 1.06 -0.51 1.84 -1.91 -0.08 -1.5 1.19 -1.5 -1.19 -1.91 0.08 -0.51 -1.84 -1.59 -1.06 0.67 -1.79 -0.67 -1.79 1.59 -1.06 0.51 -1.84 1.91 0.08zM1526.9 70.7l1.5 1.19 1.91 -0.08 0.51 1.84 1.59 1.06 -0.67 1.79 0.67 1.79 -1.59 1.06 -0.51 1.84 -1.91 -0.08 -1.5 1.19 -1.5 -1.19 -1.91 0.08 -0.51 -1.84 -1.59 -1.06 0.67 -1.79 -0.67 -1.79 1.59 -1.06 0.51 -1.84 1.91 0.08zM1552.7 189.4l1.5 1.19 1.91 -0.08 0.51 1.84 1.59 1.06 -0.67 1.79 0.67 1.79 -1.59 1.06 -0.51 1.84 -1.91 -0.08 -1.5 1.19 -1.5 -1.19 -1.91 0.08 -0.51 -1.84 -1.59 -1.06 0.67 -1.79 -0.67 -1.79 1.59 -1.06 0.51 -1.84 1.91 0.08zM1582.7 164.6l1.5 1.19 1.91 -0.08 0.51 1.84 1.59 1.06 -0.67 1.79 0.67 1.79 -1.59 1.06 -0.51 1.84 -1.91 -0.08 -1.5 1.19 -1.5 -1.19 -1.91 0.08 -0.51 -1.84 -1.59 -1.06 0.67 -1.79 -0.67 -1.79 1.59 -1.06 0.51 -1.84 1.91 0.08zM1604.3 130.6l1.5 1.19 1.91 -0.08 0.51 1.84 1.59 1.06 -0.67 1.79 0.67 1.79 -1.59 1.06 -0.51 1.84 -1.91 -0.08 -1.5 1.19 -1.5 -1.19 -1.91 0.08 -0.51 -1.84 -1.59 -1.06 0.67 -1.79 -0.67 -1.79 1.59 -1.06 0.51 -1.84 1.91 0.08zM1632.1 176.2l1.5 1.19 1.91 -0.08 0.51 1.84 1.59 1.06 -0.67 1.79 0.67 1.79 -1.59 1.06 -0.51 1.84 -1.91 -0.08 -1.5 1.19 -1.5 -1.19 -1.91 0.08 -0.51 -1.84 -1.59 -1.06 0.67 -1.79 -0.67 -1.79 1.59 -1.06 0.51 -1.84 1.91 0.08zM1657.2 149.2l1.5 1.19 1.91 -0.08 0.51 1.84 1.59 1.06 -0.67 1.79 0.67 1.79 -1.59 1.06 -0.51 1.84 -1.91 -0.08 -1.5 1.19 -1.5 -1.19 -1.91 0.08 -0.51 -1.84 -1.59 -1.06 0.67 -1.79 -0.67 -1.79 1.59 -1.06 0.51 -1.84 1.91 0.08zM1680.8 143.5l1.5 1.19 1.91 -0.08 0.51 1.84 1.59 1.06 -0.67 1.79 0.67 1.79 -1.59 1.06 -0.51 1.84 -1.91 -0.08 -1.5 1.19 -1.5 -1.19 -1.91 0.08 -0.51 -1.84 -1.59 -1.06 0.67 -1.79 -0.67 -1.79 1.59 -1.06 0.51 -1.84 1.91 0.08zM1706.6 221.7l1.5 1.19 1.91 -0.08 0.51 1.84 1.59 1.06 -0.67 1.79 0.67 1.79 -1.59 1.06 -0.51 1.84 -1.91 -0.08 -1.5 1.19 -1.5 -1.19 -1.91 0.08 -0.51 -1.84 -1.59 -1.06 0.67 -1.79 -0.67 -1.79 1.59 -1.06 0.51 -1.84 1.91 0.08z" fill="#000" stroke="#000" stroke-width="0.4" stroke-linejoin="round"/>
<text class="b" x="1381.36" y="88.7" font-size="33">M</text>
<rect x="1625.4" y="55.6" width="101.6" height="82.5" fill="#fff" stroke="#111" stroke-width="1.2"/>
<circle cx="1642.3" cy="79.2" r="10.5" fill="#fff" stroke="#111" stroke-width="1.2"/>
<text class="s" x="1664.43" y="87.2" font-size="25.8">LNA</text>
<circle cx="1642.3" cy="120" r="11" fill="#000"/>
<text class="s" x="1664.43" y="127.4" font-size="25.8">HNA</text>
<rect x="1480.2" y="392.4" width="162.6" height="304.9" fill="#c0c0c0"/>
<clipPath id="cN"><rect x="1380.8" y="392.4" width="347.7" height="304.9"/></clipPath>
<path d="M1407.4 702.5L1433.5 650.1M1433.5 650.1L1456.6 691.1M1456.6 691.1L1482.2 690.4M1482.2 690.4L1510 691.1M1510 691.1L1535.3 641.9M1535.3 641.9L1559.1 655.1M1559.1 655.1L1586.5 677.2M1586.5 677.2L1612.5 682.2M1612.5 682.2L1634.9 687.4M1634.9 687.4L1662.7 681.2M1662.7 681.2L1688.8 670M1688.8 670L1714.3 668" stroke="#1a1a1a" stroke-width="1.15" fill="none" clip-path="url(#cN)"/>
<path d="M1407.4 601.7L1433.5 593.5M1433.5 593.5L1456.6 591.8M1456.6 591.8L1482.2 578.1M1482.2 578.1L1510 509.8M1510 509.8L1535.3 615.1M1535.3 615.1L1559.1 630M1559.1 630L1586.5 528.5M1586.5 528.5L1612.5 599.2M1612.5 599.2L1634.9 638.2M1634.9 638.2L1662.7 557M1662.7 557L1688.8 645.7M1688.8 645.7L1714.3 628.8" stroke="#1a1a1a" stroke-width="1.15" fill="none" clip-path="url(#cN)"/>
<line x1="1373.8" y1="392.4" x2="1728.5" y2="392.4" stroke="#000" stroke-width="1.9" stroke-linecap="butt"/>
<line x1="1380.8" y1="391.45" x2="1380.8" y2="704.3" stroke="#000" stroke-width="1.9" stroke-linecap="butt"/>
<line x1="1728.5" y1="391.45" x2="1728.5" y2="698.25" stroke="#000" stroke-width="1.9" stroke-linecap="butt"/>
<line x1="1380.8" y1="697.3" x2="1728.5" y2="697.3" stroke="#000" stroke-width="1.9" stroke-linecap="butt"/>
<line x1="1373.8" y1="392.4" x2="1380.8" y2="392.4" stroke="#000" stroke-width="1.9" stroke-linecap="butt"/>
<text class="s" x="1314.8" y="401.4" font-size="30.7">0.06</text>
<line x1="1373.8" y1="468.6" x2="1380.8" y2="468.6" stroke="#000" stroke-width="1.9" stroke-linecap="butt"/>
<text class="s" x="1315.1" y="477.6" font-size="30.7">0.05</text>
<line x1="1373.8" y1="545.1" x2="1380.8" y2="545.1" stroke="#000" stroke-width="1.9" stroke-linecap="butt"/>
<text class="s" x="1314.34" y="554.1" font-size="30.7">0.04</text>
<line x1="1373.8" y1="621.3" x2="1380.8" y2="621.3" stroke="#000" stroke-width="1.9" stroke-linecap="butt"/>
<text class="s" x="1315.1" y="630.3" font-size="30.7">0.03</text>
<line x1="1373.8" y1="697.3" x2="1380.8" y2="697.3" stroke="#000" stroke-width="1.9" stroke-linecap="butt"/>
<text class="s" x="1315.56" y="706.3" font-size="30.7">0.02</text>
<line x1="1376.8" y1="430.5" x2="1380.8" y2="430.5" stroke="#000" stroke-width="1.9" stroke-linecap="butt"/>
<line x1="1376.8" y1="506.9" x2="1380.8" y2="506.9" stroke="#000" stroke-width="1.9" stroke-linecap="butt"/>
<line x1="1376.8" y1="583.2" x2="1380.8" y2="583.2" stroke="#000" stroke-width="1.9" stroke-linecap="butt"/>
<line x1="1376.8" y1="659.3" x2="1380.8" y2="659.3" stroke="#000" stroke-width="1.9" stroke-linecap="butt"/>
<line x1="1419.8" y1="697.3" x2="1419.8" y2="704.3" stroke="#000" stroke-width="1.9" stroke-linecap="butt"/>
<line x1="1457.8" y1="697.3" x2="1457.8" y2="704.3" stroke="#000" stroke-width="1.9" stroke-linecap="butt"/>
<line x1="1497" y1="697.3" x2="1497" y2="704.3" stroke="#000" stroke-width="1.9" stroke-linecap="butt"/>
<line x1="1534.8" y1="697.3" x2="1534.8" y2="704.3" stroke="#000" stroke-width="1.9" stroke-linecap="butt"/>
<line x1="1573.3" y1="697.3" x2="1573.3" y2="704.3" stroke="#000" stroke-width="1.9" stroke-linecap="butt"/>
<line x1="1612.3" y1="697.3" x2="1612.3" y2="704.3" stroke="#000" stroke-width="1.9" stroke-linecap="butt"/>
<line x1="1650.3" y1="697.3" x2="1650.3" y2="704.3" stroke="#000" stroke-width="1.9" stroke-linecap="butt"/>
<line x1="1688.8" y1="697.3" x2="1688.8" y2="704.3" stroke="#000" stroke-width="1.9" stroke-linecap="butt"/>
<line x1="1727.3" y1="697.3" x2="1727.3" y2="704.3" stroke="#000" stroke-width="1.9" stroke-linecap="butt"/>
<path d="M1433.5 644.8l1.39 1.02 1.72 -0.01 0.53 1.64 1.4 1.01 -0.54 1.64 0.54 1.64 -1.4 1.01 -0.53 1.64 -1.72 -0.01 -1.39 1.02 -1.39 -1.02 -1.72 0.01 -0.53 -1.64 -1.4 -1.01 0.54 -1.64 -0.54 -1.64 1.4 -1.01 0.53 -1.64 1.72 0.01zM1456.6 685.8l1.39 1.02 1.72 -0.01 0.53 1.64 1.4 1.01 -0.54 1.64 0.54 1.64 -1.4 1.01 -0.53 1.64 -1.72 -0.01 -1.39 1.02 -1.39 -1.02 -1.72 0.01 -0.53 -1.64 -1.4 -1.01 0.54 -1.64 -0.54 -1.64 1.4 -1.01 0.53 -1.64 1.72 0.01zM1482.2 685.1l1.39 1.02 1.72 -0.01 0.53 1.64 1.4 1.01 -0.54 1.64 0.54 1.64 -1.4 1.01 -0.53 1.64 -1.72 -0.01 -1.39 1.02 -1.39 -1.02 -1.72 0.01 -0.53 -1.64 -1.4 -1.01 0.54 -1.64 -0.54 -1.64 1.4 -1.01 0.53 -1.64 1.72 0.01zM1510 685.8l1.39 1.02 1.72 -0.01 0.53 1.64 1.4 1.01 -0.54 1.64 0.54 1.64 -1.4 1.01 -0.53 1.64 -1.72 -0.01 -1.39 1.02 -1.39 -1.02 -1.72 0.01 -0.53 -1.64 -1.4 -1.01 0.54 -1.64 -0.54 -1.64 1.4 -1.01 0.53 -1.64 1.72 0.01zM1535.3 636.6l1.39 1.02 1.72 -0.01 0.53 1.64 1.4 1.01 -0.54 1.64 0.54 1.64 -1.4 1.01 -0.53 1.64 -1.72 -0.01 -1.39 1.02 -1.39 -1.02 -1.72 0.01 -0.53 -1.64 -1.4 -1.01 0.54 -1.64 -0.54 -1.64 1.4 -1.01 0.53 -1.64 1.72 0.01zM1559.1 649.8l1.39 1.02 1.72 -0.01 0.53 1.64 1.4 1.01 -0.54 1.64 0.54 1.64 -1.4 1.01 -0.53 1.64 -1.72 -0.01 -1.39 1.02 -1.39 -1.02 -1.72 0.01 -0.53 -1.64 -1.4 -1.01 0.54 -1.64 -0.54 -1.64 1.4 -1.01 0.53 -1.64 1.72 0.01zM1586.5 671.9l1.39 1.02 1.72 -0.01 0.53 1.64 1.4 1.01 -0.54 1.64 0.54 1.64 -1.4 1.01 -0.53 1.64 -1.72 -0.01 -1.39 1.02 -1.39 -1.02 -1.72 0.01 -0.53 -1.64 -1.4 -1.01 0.54 -1.64 -0.54 -1.64 1.4 -1.01 0.53 -1.64 1.72 0.01zM1612.5 676.9l1.39 1.02 1.72 -0.01 0.53 1.64 1.4 1.01 -0.54 1.64 0.54 1.64 -1.4 1.01 -0.53 1.64 -1.72 -0.01 -1.39 1.02 -1.39 -1.02 -1.72 0.01 -0.53 -1.64 -1.4 -1.01 0.54 -1.64 -0.54 -1.64 1.4 -1.01 0.53 -1.64 1.72 0.01zM1634.9 682.1l1.39 1.02 1.72 -0.01 0.53 1.64 1.4 1.01 -0.54 1.64 0.54 1.64 -1.4 1.01 -0.53 1.64 -1.72 -0.01 -1.39 1.02 -1.39 -1.02 -1.72 0.01 -0.53 -1.64 -1.4 -1.01 0.54 -1.64 -0.54 -1.64 1.4 -1.01 0.53 -1.64 1.72 0.01zM1662.7 675.9l1.39 1.02 1.72 -0.01 0.53 1.64 1.4 1.01 -0.54 1.64 0.54 1.64 -1.4 1.01 -0.53 1.64 -1.72 -0.01 -1.39 1.02 -1.39 -1.02 -1.72 0.01 -0.53 -1.64 -1.4 -1.01 0.54 -1.64 -0.54 -1.64 1.4 -1.01 0.53 -1.64 1.72 0.01zM1688.8 664.7l1.39 1.02 1.72 -0.01 0.53 1.64 1.4 1.01 -0.54 1.64 0.54 1.64 -1.4 1.01 -0.53 1.64 -1.72 -0.01 -1.39 1.02 -1.39 -1.02 -1.72 0.01 -0.53 -1.64 -1.4 -1.01 0.54 -1.64 -0.54 -1.64 1.4 -1.01 0.53 -1.64 1.72 0.01zM1714.3 662.7l1.39 1.02 1.72 -0.01 0.53 1.64 1.4 1.01 -0.54 1.64 0.54 1.64 -1.4 1.01 -0.53 1.64 -1.72 -0.01 -1.39 1.02 -1.39 -1.02 -1.72 0.01 -0.53 -1.64 -1.4 -1.01 0.54 -1.64 -0.54 -1.64 1.4 -1.01 0.53 -1.64 1.72 0.01z" fill="#fff" stroke="#222" stroke-width="1.05" stroke-linejoin="round"/>
<path d="M1407.4 595.9l1.5 1.19 1.91 -0.08 0.51 1.84 1.59 1.06 -0.67 1.79 0.67 1.79 -1.59 1.06 -0.51 1.84 -1.91 -0.08 -1.5 1.19 -1.5 -1.19 -1.91 0.08 -0.51 -1.84 -1.59 -1.06 0.67 -1.79 -0.67 -1.79 1.59 -1.06 0.51 -1.84 1.91 0.08zM1433.5 587.7l1.5 1.19 1.91 -0.08 0.51 1.84 1.59 1.06 -0.67 1.79 0.67 1.79 -1.59 1.06 -0.51 1.84 -1.91 -0.08 -1.5 1.19 -1.5 -1.19 -1.91 0.08 -0.51 -1.84 -1.59 -1.06 0.67 -1.79 -0.67 -1.79 1.59 -1.06 0.51 -1.84 1.91 0.08zM1456.6 586l1.5 1.19 1.91 -0.08 0.51 1.84 1.59 1.06 -0.67 1.79 0.67 1.79 -1.59 1.06 -0.51 1.84 -1.91 -0.08 -1.5 1.19 -1.5 -1.19 -1.91 0.08 -0.51 -1.84 -1.59 -1.06 0.67 -1.79 -0.67 -1.79 1.59 -1.06 0.51 -1.84 1.91 0.08zM1482.2 572.3l1.5 1.19 1.91 -0.08 0.51 1.84 1.59 1.06 -0.67 1.79 0.67 1.79 -1.59 1.06 -0.51 1.84 -1.91 -0.08 -1.5 1.19 -1.5 -1.19 -1.91 0.08 -0.51 -1.84 -1.59 -1.06 0.67 -1.79 -0.67 -1.79 1.59 -1.06 0.51 -1.84 1.91 0.08zM1510 504l1.5 1.19 1.91 -0.08 0.51 1.84 1.59 1.06 -0.67 1.79 0.67 1.79 -1.59 1.06 -0.51 1.84 -1.91 -0.08 -1.5 1.19 -1.5 -1.19 -1.91 0.08 -0.51 -1.84 -1.59 -1.06 0.67 -1.79 -0.67 -1.79 1.59 -1.06 0.51 -1.84 1.91 0.08zM1535.3 609.3l1.5 1.19 1.91 -0.08 0.51 1.84 1.59 1.06 -0.67 1.79 0.67 1.79 -1.59 1.06 -0.51 1.84 -1.91 -0.08 -1.5 1.19 -1.5 -1.19 -1.91 0.08 -0.51 -1.84 -1.59 -1.06 0.67 -1.79 -0.67 -1.79 1.59 -1.06 0.51 -1.84 1.91 0.08zM1559.1 624.2l1.5 1.19 1.91 -0.08 0.51 1.84 1.59 1.06 -0.67 1.79 0.67 1.79 -1.59 1.06 -0.51 1.84 -1.91 -0.08 -1.5 1.19 -1.5 -1.19 -1.91 0.08 -0.51 -1.84 -1.59 -1.06 0.67 -1.79 -0.67 -1.79 1.59 -1.06 0.51 -1.84 1.91 0.08zM1586.5 522.7l1.5 1.19 1.91 -0.08 0.51 1.84 1.59 1.06 -0.67 1.79 0.67 1.79 -1.59 1.06 -0.51 1.84 -1.91 -0.08 -1.5 1.19 -1.5 -1.19 -1.91 0.08 -0.51 -1.84 -1.59 -1.06 0.67 -1.79 -0.67 -1.79 1.59 -1.06 0.51 -1.84 1.91 0.08zM1612.5 593.4l1.5 1.19 1.91 -0.08 0.51 1.84 1.59 1.06 -0.67 1.79 0.67 1.79 -1.59 1.06 -0.51 1.84 -1.91 -0.08 -1.5 1.19 -1.5 -1.19 -1.91 0.08 -0.51 -1.84 -1.59 -1.06 0.67 -1.79 -0.67 -1.79 1.59 -1.06 0.51 -1.84 1.91 0.08zM1634.9 632.4l1.5 1.19 1.91 -0.08 0.51 1.84 1.59 1.06 -0.67 1.79 0.67 1.79 -1.59 1.06 -0.51 1.84 -1.91 -0.08 -1.5 1.19 -1.5 -1.19 -1.91 0.08 -0.51 -1.84 -1.59 -1.06 0.67 -1.79 -0.67 -1.79 1.59 -1.06 0.51 -1.84 1.91 0.08zM1662.7 551.2l1.5 1.19 1.91 -0.08 0.51 1.84 1.59 1.06 -0.67 1.79 0.67 1.79 -1.59 1.06 -0.51 1.84 -1.91 -0.08 -1.5 1.19 -1.5 -1.19 -1.91 0.08 -0.51 -1.84 -1.59 -1.06 0.67 -1.79 -0.67 -1.79 1.59 -1.06 0.51 -1.84 1.91 0.08zM1688.8 639.9l1.5 1.19 1.91 -0.08 0.51 1.84 1.59 1.06 -0.67 1.79 0.67 1.79 -1.59 1.06 -0.51 1.84 -1.91 -0.08 -1.5 1.19 -1.5 -1.19 -1.91 0.08 -0.51 -1.84 -1.59 -1.06 0.67 -1.79 -0.67 -1.79 1.59 -1.06 0.51 -1.84 1.91 0.08zM1714.3 623l1.5 1.19 1.91 -0.08 0.51 1.84 1.59 1.06 -0.67 1.79 0.67 1.79 -1.59 1.06 -0.51 1.84 -1.91 -0.08 -1.5 1.19 -1.5 -1.19 -1.91 0.08 -0.51 -1.84 -1.59 -1.06 0.67 -1.79 -0.67 -1.79 1.59 -1.06 0.51 -1.84 1.91 0.08z" fill="#000" stroke="#000" stroke-width="0.4" stroke-linejoin="round"/>
<text class="b" x="1381.95" y="425.9" font-size="33">N</text>
<rect x="1475.9" y="740.4" width="162.5" height="297" fill="#c0c0c0"/>
<clipPath id="cO"><rect x="1380.8" y="740.4" width="347.2" height="297"/></clipPath>
<path d="M1413.1 1016.3L1437.5 1023M1437.5 1023L1464 998.6M1464 998.6L1490.1 1005.6M1490.1 1005.6L1514.9 1013.8M1514.9 1013.8L1539.8 1023M1539.8 1023L1565.8 1007.3M1565.8 1007.3L1592.7 1001.4M1592.7 1001.4L1616.7 1010.5M1616.7 1010.5L1642.1 1014.3M1642.1 1014.3L1669.4 1013M1669.4 1013L1695.5 1060M1695.5 1060L1722.8 1016.3" stroke="#1a1a1a" stroke-width="1.15" fill="none" clip-path="url(#cO)"/>
<path d="M1413.1 768.9L1437.5 815.1M1437.5 815.1L1464 834.2M1464 834.2L1490.1 915.4M1490.1 915.4L1514.9 857.3M1514.9 857.3L1539.8 900M1539.8 900L1565.8 792M1565.8 792L1592.7 890.1M1592.7 890.1L1616.7 882.7M1616.7 882.7L1642.1 925.4M1642.1 925.4L1669.4 946M1669.4 946L1694.5 912M1694.5 912L1722.8 960.4" stroke="#1a1a1a" stroke-width="1.15" fill="none" clip-path="url(#cO)"/>
<line x1="1373.8" y1="740.4" x2="1728" y2="740.4" stroke="#000" stroke-width="1.9" stroke-linecap="butt"/>
<line x1="1380.8" y1="739.45" x2="1380.8" y2="1044.4" stroke="#000" stroke-width="1.9" stroke-linecap="butt"/>
<line x1="1728" y1="739.45" x2="1728" y2="1038.35" stroke="#000" stroke-width="1.9" stroke-linecap="butt"/>
<line x1="1380.8" y1="1037.4" x2="1728" y2="1037.4" stroke="#000" stroke-width="1.9" stroke-linecap="butt"/>
<line x1="1373.8" y1="740.4" x2="1380.8" y2="740.4" stroke="#000" stroke-width="1.9" stroke-linecap="butt"/>
<text class="s" x="1317.6" y="749" font-size="29.3">0.06</text>
<line x1="1373.8" y1="814.9" x2="1380.8" y2="814.9" stroke="#000" stroke-width="1.9" stroke-linecap="butt"/>
<text class="s" x="1317.9" y="823.5" font-size="29.3">0.05</text>
<line x1="1373.8" y1="888.9" x2="1380.8" y2="888.9" stroke="#000" stroke-width="1.9" stroke-linecap="butt"/>
<text class="s" x="1317.16" y="897.5" font-size="29.3">0.04</text>
<line x1="1373.8" y1="963.4" x2="1380.8" y2="963.4" stroke="#000" stroke-width="1.9" stroke-linecap="butt"/>
<text class="s" x="1317.9" y="972" font-size="29.3">0.03</text>
<line x1="1373.8" y1="1037.4" x2="1380.8" y2="1037.4" stroke="#000" stroke-width="1.9" stroke-linecap="butt"/>
<text class="s" x="1318.34" y="1046" font-size="29.3">0.02</text>
<line x1="1376.8" y1="777.6" x2="1380.8" y2="777.6" stroke="#000" stroke-width="1.9" stroke-linecap="butt"/>
<line x1="1376.8" y1="851.9" x2="1380.8" y2="851.9" stroke="#000" stroke-width="1.9" stroke-linecap="butt"/>
<line x1="1376.8" y1="926.1" x2="1380.8" y2="926.1" stroke="#000" stroke-width="1.9" stroke-linecap="butt"/>
<line x1="1376.8" y1="1000.4" x2="1380.8" y2="1000.4" stroke="#000" stroke-width="1.9" stroke-linecap="butt"/>
<line x1="1419.8" y1="1037.4" x2="1419.8" y2="1044.4" stroke="#000" stroke-width="1.9" stroke-linecap="butt"/>
<line x1="1457.8" y1="1037.4" x2="1457.8" y2="1044.4" stroke="#000" stroke-width="1.9" stroke-linecap="butt"/>
<line x1="1497" y1="1037.4" x2="1497" y2="1044.4" stroke="#000" stroke-width="1.9" stroke-linecap="butt"/>
<line x1="1534.8" y1="1037.4" x2="1534.8" y2="1044.4" stroke="#000" stroke-width="1.9" stroke-linecap="butt"/>
<line x1="1573.3" y1="1037.4" x2="1573.3" y2="1044.4" stroke="#000" stroke-width="1.9" stroke-linecap="butt"/>
<line x1="1612.3" y1="1037.4" x2="1612.3" y2="1044.4" stroke="#000" stroke-width="1.9" stroke-linecap="butt"/>
<line x1="1650.3" y1="1037.4" x2="1650.3" y2="1044.4" stroke="#000" stroke-width="1.9" stroke-linecap="butt"/>
<line x1="1688.8" y1="1037.4" x2="1688.8" y2="1044.4" stroke="#000" stroke-width="1.9" stroke-linecap="butt"/>
<line x1="1728" y1="1037.4" x2="1728" y2="1044.4" stroke="#000" stroke-width="1.9" stroke-linecap="butt"/>
<path d="M1413.1 1011l1.39 1.02 1.72 -0.01 0.53 1.64 1.4 1.01 -0.54 1.64 0.54 1.64 -1.4 1.01 -0.53 1.64 -1.72 -0.01 -1.39 1.02 -1.39 -1.02 -1.72 0.01 -0.53 -1.64 -1.4 -1.01 0.54 -1.64 -0.54 -1.64 1.4 -1.01 0.53 -1.64 1.72 0.01zM1437.5 1017.7l1.39 1.02 1.72 -0.01 0.53 1.64 1.4 1.01 -0.54 1.64 0.54 1.64 -1.4 1.01 -0.53 1.64 -1.72 -0.01 -1.39 1.02 -1.39 -1.02 -1.72 0.01 -0.53 -1.64 -1.4 -1.01 0.54 -1.64 -0.54 -1.64 1.4 -1.01 0.53 -1.64 1.72 0.01zM1464 993.3l1.39 1.02 1.72 -0.01 0.53 1.64 1.4 1.01 -0.54 1.64 0.54 1.64 -1.4 1.01 -0.53 1.64 -1.72 -0.01 -1.39 1.02 -1.39 -1.02 -1.72 0.01 -0.53 -1.64 -1.4 -1.01 0.54 -1.64 -0.54 -1.64 1.4 -1.01 0.53 -1.64 1.72 0.01zM1490.1 1000.3l1.39 1.02 1.72 -0.01 0.53 1.64 1.4 1.01 -0.54 1.64 0.54 1.64 -1.4 1.01 -0.53 1.64 -1.72 -0.01 -1.39 1.02 -1.39 -1.02 -1.72 0.01 -0.53 -1.64 -1.4 -1.01 0.54 -1.64 -0.54 -1.64 1.4 -1.01 0.53 -1.64 1.72 0.01zM1514.9 1008.5l1.39 1.02 1.72 -0.01 0.53 1.64 1.4 1.01 -0.54 1.64 0.54 1.64 -1.4 1.01 -0.53 1.64 -1.72 -0.01 -1.39 1.02 -1.39 -1.02 -1.72 0.01 -0.53 -1.64 -1.4 -1.01 0.54 -1.64 -0.54 -1.64 1.4 -1.01 0.53 -1.64 1.72 0.01zM1539.8 1017.7l1.39 1.02 1.72 -0.01 0.53 1.64 1.4 1.01 -0.54 1.64 0.54 1.64 -1.4 1.01 -0.53 1.64 -1.72 -0.01 -1.39 1.02 -1.39 -1.02 -1.72 0.01 -0.53 -1.64 -1.4 -1.01 0.54 -1.64 -0.54 -1.64 1.4 -1.01 0.53 -1.64 1.72 0.01zM1565.8 1002l1.39 1.02 1.72 -0.01 0.53 1.64 1.4 1.01 -0.54 1.64 0.54 1.64 -1.4 1.01 -0.53 1.64 -1.72 -0.01 -1.39 1.02 -1.39 -1.02 -1.72 0.01 -0.53 -1.64 -1.4 -1.01 0.54 -1.64 -0.54 -1.64 1.4 -1.01 0.53 -1.64 1.72 0.01zM1592.7 996.1l1.39 1.02 1.72 -0.01 0.53 1.64 1.4 1.01 -0.54 1.64 0.54 1.64 -1.4 1.01 -0.53 1.64 -1.72 -0.01 -1.39 1.02 -1.39 -1.02 -1.72 0.01 -0.53 -1.64 -1.4 -1.01 0.54 -1.64 -0.54 -1.64 1.4 -1.01 0.53 -1.64 1.72 0.01zM1616.7 1005.2l1.39 1.02 1.72 -0.01 0.53 1.64 1.4 1.01 -0.54 1.64 0.54 1.64 -1.4 1.01 -0.53 1.64 -1.72 -0.01 -1.39 1.02 -1.39 -1.02 -1.72 0.01 -0.53 -1.64 -1.4 -1.01 0.54 -1.64 -0.54 -1.64 1.4 -1.01 0.53 -1.64 1.72 0.01zM1642.1 1009l1.39 1.02 1.72 -0.01 0.53 1.64 1.4 1.01 -0.54 1.64 0.54 1.64 -1.4 1.01 -0.53 1.64 -1.72 -0.01 -1.39 1.02 -1.39 -1.02 -1.72 0.01 -0.53 -1.64 -1.4 -1.01 0.54 -1.64 -0.54 -1.64 1.4 -1.01 0.53 -1.64 1.72 0.01zM1669.4 1007.7l1.39 1.02 1.72 -0.01 0.53 1.64 1.4 1.01 -0.54 1.64 0.54 1.64 -1.4 1.01 -0.53 1.64 -1.72 -0.01 -1.39 1.02 -1.39 -1.02 -1.72 0.01 -0.53 -1.64 -1.4 -1.01 0.54 -1.64 -0.54 -1.64 1.4 -1.01 0.53 -1.64 1.72 0.01zM1722.8 1011l1.39 1.02 1.72 -0.01 0.53 1.64 1.4 1.01 -0.54 1.64 0.54 1.64 -1.4 1.01 -0.53 1.64 -1.72 -0.01 -1.39 1.02 -1.39 -1.02 -1.72 0.01 -0.53 -1.64 -1.4 -1.01 0.54 -1.64 -0.54 -1.64 1.4 -1.01 0.53 -1.64 1.72 0.01z" fill="#fff" stroke="#222" stroke-width="1.05" stroke-linejoin="round"/>
<path d="M1413.1 763.1l1.5 1.19 1.91 -0.08 0.51 1.84 1.59 1.06 -0.67 1.79 0.67 1.79 -1.59 1.06 -0.51 1.84 -1.91 -0.08 -1.5 1.19 -1.5 -1.19 -1.91 0.08 -0.51 -1.84 -1.59 -1.06 0.67 -1.79 -0.67 -1.79 1.59 -1.06 0.51 -1.84 1.91 0.08zM1437.5 809.3l1.5 1.19 1.91 -0.08 0.51 1.84 1.59 1.06 -0.67 1.79 0.67 1.79 -1.59 1.06 -0.51 1.84 -1.91 -0.08 -1.5 1.19 -1.5 -1.19 -1.91 0.08 -0.51 -1.84 -1.59 -1.06 0.67 -1.79 -0.67 -1.79 1.59 -1.06 0.51 -1.84 1.91 0.08zM1464 828.4l1.5 1.19 1.91 -0.08 0.51 1.84 1.59 1.06 -0.67 1.79 0.67 1.79 -1.59 1.06 -0.51 1.84 -1.91 -0.08 -1.5 1.19 -1.5 -1.19 -1.91 0.08 -0.51 -1.84 -1.59 -1.06 0.67 -1.79 -0.67 -1.79 1.59 -1.06 0.51 -1.84 1.91 0.08zM1490.1 909.6l1.5 1.19 1.91 -0.08 0.51 1.84 1.59 1.06 -0.67 1.79 0.67 1.79 -1.59 1.06 -0.51 1.84 -1.91 -0.08 -1.5 1.19 -1.5 -1.19 -1.91 0.08 -0.51 -1.84 -1.59 -1.06 0.67 -1.79 -0.67 -1.79 1.59 -1.06 0.51 -1.84 1.91 0.08zM1514.9 851.5l1.5 1.19 1.91 -0.08 0.51 1.84 1.59 1.06 -0.67 1.79 0.67 1.79 -1.59 1.06 -0.51 1.84 -1.91 -0.08 -1.5 1.19 -1.5 -1.19 -1.91 0.08 -0.51 -1.84 -1.59 -1.06 0.67 -1.79 -0.67 -1.79 1.59 -1.06 0.51 -1.84 1.91 0.08zM1539.8 894.2l1.5 1.19 1.91 -0.08 0.51 1.84 1.59 1.06 -0.67 1.79 0.67 1.79 -1.59 1.06 -0.51 1.84 -1.91 -0.08 -1.5 1.19 -1.5 -1.19 -1.91 0.08 -0.51 -1.84 -1.59 -1.06 0.67 -1.79 -0.67 -1.79 1.59 -1.06 0.51 -1.84 1.91 0.08zM1565.8 786.2l1.5 1.19 1.91 -0.08 0.51 1.84 1.59 1.06 -0.67 1.79 0.67 1.79 -1.59 1.06 -0.51 1.84 -1.91 -0.08 -1.5 1.19 -1.5 -1.19 -1.91 0.08 -0.51 -1.84 -1.59 -1.06 0.67 -1.79 -0.67 -1.79 1.59 -1.06 0.51 -1.84 1.91 0.08zM1592.7 884.3l1.5 1.19 1.91 -0.08 0.51 1.84 1.59 1.06 -0.67 1.79 0.67 1.79 -1.59 1.06 -0.51 1.84 -1.91 -0.08 -1.5 1.19 -1.5 -1.19 -1.91 0.08 -0.51 -1.84 -1.59 -1.06 0.67 -1.79 -0.67 -1.79 1.59 -1.06 0.51 -1.84 1.91 0.08zM1616.7 876.9l1.5 1.19 1.91 -0.08 0.51 1.84 1.59 1.06 -0.67 1.79 0.67 1.79 -1.59 1.06 -0.51 1.84 -1.91 -0.08 -1.5 1.19 -1.5 -1.19 -1.91 0.08 -0.51 -1.84 -1.59 -1.06 0.67 -1.79 -0.67 -1.79 1.59 -1.06 0.51 -1.84 1.91 0.08zM1642.1 919.6l1.5 1.19 1.91 -0.08 0.51 1.84 1.59 1.06 -0.67 1.79 0.67 1.79 -1.59 1.06 -0.51 1.84 -1.91 -0.08 -1.5 1.19 -1.5 -1.19 -1.91 0.08 -0.51 -1.84 -1.59 -1.06 0.67 -1.79 -0.67 -1.79 1.59 -1.06 0.51 -1.84 1.91 0.08zM1669.4 940.2l1.5 1.19 1.91 -0.08 0.51 1.84 1.59 1.06 -0.67 1.79 0.67 1.79 -1.59 1.06 -0.51 1.84 -1.91 -0.08 -1.5 1.19 -1.5 -1.19 -1.91 0.08 -0.51 -1.84 -1.59 -1.06 0.67 -1.79 -0.67 -1.79 1.59 -1.06 0.51 -1.84 1.91 0.08zM1694.5 906.2l1.5 1.19 1.91 -0.08 0.51 1.84 1.59 1.06 -0.67 1.79 0.67 1.79 -1.59 1.06 -0.51 1.84 -1.91 -0.08 -1.5 1.19 -1.5 -1.19 -1.91 0.08 -0.51 -1.84 -1.59 -1.06 0.67 -1.79 -0.67 -1.79 1.59 -1.06 0.51 -1.84 1.91 0.08zM1722.8 954.6l1.5 1.19 1.91 -0.08 0.51 1.84 1.59 1.06 -0.67 1.79 0.67 1.79 -1.59 1.06 -0.51 1.84 -1.91 -0.08 -1.5 1.19 -1.5 -1.19 -1.91 0.08 -0.51 -1.84 -1.59 -1.06 0.67 -1.79 -0.67 -1.79 1.59 -1.06 0.51 -1.84 1.91 0.08z" fill="#000" stroke="#000" stroke-width="0.4" stroke-linejoin="round"/>
<text class="b" x="1383.78" y="768.4" font-size="33">O</text>
<rect x="1480.2" y="1075.4" width="163" height="297.2" fill="#c0c0c0"/>
<clipPath id="cP"><rect x="1381.2" y="1072.3" width="346.5" height="297"/></clipPath>
<path d="M1392.7 1368.3L1419.5 1334.8M1419.5 1334.8L1444.2 1313.2M1444.2 1313.2L1470.5 1321.6M1470.5 1321.6L1495.3 1319.8M1495.3 1319.8L1520.8 1301.9M1520.8 1301.9L1548.3 1294.3M1548.3 1294.3L1572.6 1310.9M1572.6 1310.9L1599.8 1343.8M1599.8 1343.8L1624.8 1303M1624.8 1303L1649.1 1299.1M1649.1 1299.1L1674.6 1308.3M1674.6 1308.3L1701.4 1285.9" stroke="#1a1a1a" stroke-width="1.15" fill="none" clip-path="url(#cP)"/>
<path d="M1392.7 1138.7L1419.5 1180M1419.5 1180L1444.2 1162.1M1444.2 1162.1L1470.5 1132.8M1470.5 1132.8L1495.3 1145.6M1495.3 1145.6L1520.8 1162.1M1520.8 1162.1L1548.3 1100.4M1548.3 1100.4L1572.6 1152.7M1572.6 1152.7L1599.8 1225.4M1599.8 1225.4L1624.8 1152.7M1624.8 1152.7L1649.1 1125.7M1649.1 1125.7L1674.6 1130.3M1674.6 1130.3L1701.4 1208.6" stroke="#1a1a1a" stroke-width="1.15" fill="none" clip-path="url(#cP)"/>
<line x1="1374.2" y1="1072.3" x2="1727.7" y2="1072.3" stroke="#000" stroke-width="1.9" stroke-linecap="butt"/>
<line x1="1381.2" y1="1071.35" x2="1381.2" y2="1376.3" stroke="#000" stroke-width="1.9" stroke-linecap="butt"/>
<line x1="1727.7" y1="1071.35" x2="1727.7" y2="1370.25" stroke="#000" stroke-width="1.9" stroke-linecap="butt"/>
<line x1="1381.2" y1="1369.3" x2="1727.7" y2="1369.3" stroke="#000" stroke-width="1.9" stroke-linecap="butt"/>
<line x1="1374.2" y1="1072.3" x2="1381.2" y2="1072.3" stroke="#000" stroke-width="1.9" stroke-linecap="butt"/>
<text class="s" x="1318.42" y="1080.9" font-size="29">0.06</text>
<line x1="1374.2" y1="1146.3" x2="1381.2" y2="1146.3" stroke="#000" stroke-width="1.9" stroke-linecap="butt"/>
<text class="s" x="1318.71" y="1154.9" font-size="29">0.05</text>
<line x1="1374.2" y1="1220.3" x2="1381.2" y2="1220.3" stroke="#000" stroke-width="1.9" stroke-linecap="butt"/>
<text class="s" x="1317.98" y="1228.9" font-size="29">0.04</text>
<line x1="1374.2" y1="1294.8" x2="1381.2" y2="1294.8" stroke="#000" stroke-width="1.9" stroke-linecap="butt"/>
<text class="s" x="1318.71" y="1303.4" font-size="29">0.03</text>
<line x1="1374.2" y1="1369.3" x2="1381.2" y2="1369.3" stroke="#000" stroke-width="1.9" stroke-linecap="butt"/>
<text class="s" x="1319.14" y="1377.9" font-size="29">0.02</text>
<line x1="1377.2" y1="1109.3" x2="1381.2" y2="1109.3" stroke="#000" stroke-width="1.9" stroke-linecap="butt"/>
<line x1="1377.2" y1="1183.3" x2="1381.2" y2="1183.3" stroke="#000" stroke-width="1.9" stroke-linecap="butt"/>
<line x1="1377.2" y1="1257.5" x2="1381.2" y2="1257.5" stroke="#000" stroke-width="1.9" stroke-linecap="butt"/>
<line x1="1377.2" y1="1332" x2="1381.2" y2="1332" stroke="#000" stroke-width="1.9" stroke-linecap="butt"/>
<line x1="1419" y1="1369.3" x2="1419" y2="1376.3" stroke="#000" stroke-width="1.9" stroke-linecap="butt"/>
<line x1="1457.8" y1="1369.3" x2="1457.8" y2="1376.3" stroke="#000" stroke-width="1.9" stroke-linecap="butt"/>
<line x1="1496.5" y1="1369.3" x2="1496.5" y2="1376.3" stroke="#000" stroke-width="1.9" stroke-linecap="butt"/>
<line x1="1535.1" y1="1369.3" x2="1535.1" y2="1376.3" stroke="#000" stroke-width="1.9" stroke-linecap="butt"/>
<line x1="1573.3" y1="1369.3" x2="1573.3" y2="1376.3" stroke="#000" stroke-width="1.9" stroke-linecap="butt"/>
<line x1="1612.1" y1="1369.3" x2="1612.1" y2="1376.3" stroke="#000" stroke-width="1.9" stroke-linecap="butt"/>
<line x1="1650.4" y1="1369.3" x2="1650.4" y2="1376.3" stroke="#000" stroke-width="1.9" stroke-linecap="butt"/>
<line x1="1689.1" y1="1369.3" x2="1689.1" y2="1376.3" stroke="#000" stroke-width="1.9" stroke-linecap="butt"/>
<line x1="1727.7" y1="1369.3" x2="1727.7" y2="1376.3" stroke="#000" stroke-width="1.9" stroke-linecap="butt"/>
<path d="M1392.7 1363l1.39 1.02 1.72 -0.01 0.53 1.64 1.4 1.01 -0.54 1.64 0.54 1.64 -1.4 1.01 -0.53 1.64 -1.72 -0.01 -1.39 1.02 -1.39 -1.02 -1.72 0.01 -0.53 -1.64 -1.4 -1.01 0.54 -1.64 -0.54 -1.64 1.4 -1.01 0.53 -1.64 1.72 0.01zM1419.5 1329.5l1.39 1.02 1.72 -0.01 0.53 1.64 1.4 1.01 -0.54 1.64 0.54 1.64 -1.4 1.01 -0.53 1.64 -1.72 -0.01 -1.39 1.02 -1.39 -1.02 -1.72 0.01 -0.53 -1.64 -1.4 -1.01 0.54 -1.64 -0.54 -1.64 1.4 -1.01 0.53 -1.64 1.72 0.01zM1444.2 1307.9l1.39 1.02 1.72 -0.01 0.53 1.64 1.4 1.01 -0.54 1.64 0.54 1.64 -1.4 1.01 -0.53 1.64 -1.72 -0.01 -1.39 1.02 -1.39 -1.02 -1.72 0.01 -0.53 -1.64 -1.4 -1.01 0.54 -1.64 -0.54 -1.64 1.4 -1.01 0.53 -1.64 1.72 0.01zM1470.5 1316.3l1.39 1.02 1.72 -0.01 0.53 1.64 1.4 1.01 -0.54 1.64 0.54 1.64 -1.4 1.01 -0.53 1.64 -1.72 -0.01 -1.39 1.02 -1.39 -1.02 -1.72 0.01 -0.53 -1.64 -1.4 -1.01 0.54 -1.64 -0.54 -1.64 1.4 -1.01 0.53 -1.64 1.72 0.01zM1495.3 1314.5l1.39 1.02 1.72 -0.01 0.53 1.64 1.4 1.01 -0.54 1.64 0.54 1.64 -1.4 1.01 -0.53 1.64 -1.72 -0.01 -1.39 1.02 -1.39 -1.02 -1.72 0.01 -0.53 -1.64 -1.4 -1.01 0.54 -1.64 -0.54 -1.64 1.4 -1.01 0.53 -1.64 1.72 0.01zM1520.8 1296.6l1.39 1.02 1.72 -0.01 0.53 1.64 1.4 1.01 -0.54 1.64 0.54 1.64 -1.4 1.01 -0.53 1.64 -1.72 -0.01 -1.39 1.02 -1.39 -1.02 -1.72 0.01 -0.53 -1.64 -1.4 -1.01 0.54 -1.64 -0.54 -1.64 1.4 -1.01 0.53 -1.64 1.72 0.01zM1548.3 1289l1.39 1.02 1.72 -0.01 0.53 1.64 1.4 1.01 -0.54 1.64 0.54 1.64 -1.4 1.01 -0.53 1.64 -1.72 -0.01 -1.39 1.02 -1.39 -1.02 -1.72 0.01 -0.53 -1.64 -1.4 -1.01 0.54 -1.64 -0.54 -1.64 1.4 -1.01 0.53 -1.64 1.72 0.01zM1572.6 1305.6l1.39 1.02 1.72 -0.01 0.53 1.64 1.4 1.01 -0.54 1.64 0.54 1.64 -1.4 1.01 -0.53 1.64 -1.72 -0.01 -1.39 1.02 -1.39 -1.02 -1.72 0.01 -0.53 -1.64 -1.4 -1.01 0.54 -1.64 -0.54 -1.64 1.4 -1.01 0.53 -1.64 1.72 0.01zM1599.8 1338.5l1.39 1.02 1.72 -0.01 0.53 1.64 1.4 1.01 -0.54 1.64 0.54 1.64 -1.4 1.01 -0.53 1.64 -1.72 -0.01 -1.39 1.02 -1.39 -1.02 -1.72 0.01 -0.53 -1.64 -1.4 -1.01 0.54 -1.64 -0.54 -1.64 1.4 -1.01 0.53 -1.64 1.72 0.01zM1624.8 1297.7l1.39 1.02 1.72 -0.01 0.53 1.64 1.4 1.01 -0.54 1.64 0.54 1.64 -1.4 1.01 -0.53 1.64 -1.72 -0.01 -1.39 1.02 -1.39 -1.02 -1.72 0.01 -0.53 -1.64 -1.4 -1.01 0.54 -1.64 -0.54 -1.64 1.4 -1.01 0.53 -1.64 1.72 0.01zM1649.1 1293.8l1.39 1.02 1.72 -0.01 0.53 1.64 1.4 1.01 -0.54 1.64 0.54 1.64 -1.4 1.01 -0.53 1.64 -1.72 -0.01 -1.39 1.02 -1.39 -1.02 -1.72 0.01 -0.53 -1.64 -1.4 -1.01 0.54 -1.64 -0.54 -1.64 1.4 -1.01 0.53 -1.64 1.72 0.01zM1674.6 1303l1.39 1.02 1.72 -0.01 0.53 1.64 1.4 1.01 -0.54 1.64 0.54 1.64 -1.4 1.01 -0.53 1.64 -1.72 -0.01 -1.39 1.02 -1.39 -1.02 -1.72 0.01 -0.53 -1.64 -1.4 -1.01 0.54 -1.64 -0.54 -1.64 1.4 -1.01 0.53 -1.64 1.72 0.01zM1701.4 1280.6l1.39 1.02 1.72 -0.01 0.53 1.64 1.4 1.01 -0.54 1.64 0.54 1.64 -1.4 1.01 -0.53 1.64 -1.72 -0.01 -1.39 1.02 -1.39 -1.02 -1.72 0.01 -0.53 -1.64 -1.4 -1.01 0.54 -1.64 -0.54 -1.64 1.4 -1.01 0.53 -1.64 1.72 0.01z" fill="#fff" stroke="#222" stroke-width="1.05" stroke-linejoin="round"/>
<path d="M1392.7 1132.9l1.5 1.19 1.91 -0.08 0.51 1.84 1.59 1.06 -0.67 1.79 0.67 1.79 -1.59 1.06 -0.51 1.84 -1.91 -0.08 -1.5 1.19 -1.5 -1.19 -1.91 0.08 -0.51 -1.84 -1.59 -1.06 0.67 -1.79 -0.67 -1.79 1.59 -1.06 0.51 -1.84 1.91 0.08zM1419.5 1174.2l1.5 1.19 1.91 -0.08 0.51 1.84 1.59 1.06 -0.67 1.79 0.67 1.79 -1.59 1.06 -0.51 1.84 -1.91 -0.08 -1.5 1.19 -1.5 -1.19 -1.91 0.08 -0.51 -1.84 -1.59 -1.06 0.67 -1.79 -0.67 -1.79 1.59 -1.06 0.51 -1.84 1.91 0.08zM1444.2 1156.3l1.5 1.19 1.91 -0.08 0.51 1.84 1.59 1.06 -0.67 1.79 0.67 1.79 -1.59 1.06 -0.51 1.84 -1.91 -0.08 -1.5 1.19 -1.5 -1.19 -1.91 0.08 -0.51 -1.84 -1.59 -1.06 0.67 -1.79 -0.67 -1.79 1.59 -1.06 0.51 -1.84 1.91 0.08zM1470.5 1127l1.5 1.19 1.91 -0.08 0.51 1.84 1.59 1.06 -0.67 1.79 0.67 1.79 -1.59 1.06 -0.51 1.84 -1.91 -0.08 -1.5 1.19 -1.5 -1.19 -1.91 0.08 -0.51 -1.84 -1.59 -1.06 0.67 -1.79 -0.67 -1.79 1.59 -1.06 0.51 -1.84 1.91 0.08zM1495.3 1139.8l1.5 1.19 1.91 -0.08 0.51 1.84 1.59 1.06 -0.67 1.79 0.67 1.79 -1.59 1.06 -0.51 1.84 -1.91 -0.08 -1.5 1.19 -1.5 -1.19 -1.91 0.08 -0.51 -1.84 -1.59 -1.06 0.67 -1.79 -0.67 -1.79 1.59 -1.06 0.51 -1.84 1.91 0.08zM1520.8 1156.3l1.5 1.19 1.91 -0.08 0.51 1.84 1.59 1.06 -0.67 1.79 0.67 1.79 -1.59 1.06 -0.51 1.84 -1.91 -0.08 -1.5 1.19 -1.5 -1.19 -1.91 0.08 -0.51 -1.84 -1.59 -1.06 0.67 -1.79 -0.67 -1.79 1.59 -1.06 0.51 -1.84 1.91 0.08zM1548.3 1094.6l1.5 1.19 1.91 -0.08 0.51 1.84 1.59 1.06 -0.67 1.79 0.67 1.79 -1.59 1.06 -0.51 1.84 -1.91 -0.08 -1.5 1.19 -1.5 -1.19 -1.91 0.08 -0.51 -1.84 -1.59 -1.06 0.67 -1.79 -0.67 -1.79 1.59 -1.06 0.51 -1.84 1.91 0.08zM1572.6 1146.9l1.5 1.19 1.91 -0.08 0.51 1.84 1.59 1.06 -0.67 1.79 0.67 1.79 -1.59 1.06 -0.51 1.84 -1.91 -0.08 -1.5 1.19 -1.5 -1.19 -1.91 0.08 -0.51 -1.84 -1.59 -1.06 0.67 -1.79 -0.67 -1.79 1.59 -1.06 0.51 -1.84 1.91 0.08zM1599.8 1219.6l1.5 1.19 1.91 -0.08 0.51 1.84 1.59 1.06 -0.67 1.79 0.67 1.79 -1.59 1.06 -0.51 1.84 -1.91 -0.08 -1.5 1.19 -1.5 -1.19 -1.91 0.08 -0.51 -1.84 -1.59 -1.06 0.67 -1.79 -0.67 -1.79 1.59 -1.06 0.51 -1.84 1.91 0.08zM1624.8 1146.9l1.5 1.19 1.91 -0.08 0.51 1.84 1.59 1.06 -0.67 1.79 0.67 1.79 -1.59 1.06 -0.51 1.84 -1.91 -0.08 -1.5 1.19 -1.5 -1.19 -1.91 0.08 -0.51 -1.84 -1.59 -1.06 0.67 -1.79 -0.67 -1.79 1.59 -1.06 0.51 -1.84 1.91 0.08zM1649.1 1119.9l1.5 1.19 1.91 -0.08 0.51 1.84 1.59 1.06 -0.67 1.79 0.67 1.79 -1.59 1.06 -0.51 1.84 -1.91 -0.08 -1.5 1.19 -1.5 -1.19 -1.91 0.08 -0.51 -1.84 -1.59 -1.06 0.67 -1.79 -0.67 -1.79 1.59 -1.06 0.51 -1.84 1.91 0.08zM1674.6 1124.5l1.5 1.19 1.91 -0.08 0.51 1.84 1.59 1.06 -0.67 1.79 0.67 1.79 -1.59 1.06 -0.51 1.84 -1.91 -0.08 -1.5 1.19 -1.5 -1.19 -1.91 0.08 -0.51 -1.84 -1.59 -1.06 0.67 -1.79 -0.67 -1.79 1.59 -1.06 0.51 -1.84 1.91 0.08zM1701.4 1202.8l1.5 1.19 1.91 -0.08 0.51 1.84 1.59 1.06 -0.67 1.79 0.67 1.79 -1.59 1.06 -0.51 1.84 -1.91 -0.08 -1.5 1.19 -1.5 -1.19 -1.91 0.08 -0.51 -1.84 -1.59 -1.06 0.67 -1.79 -0.67 -1.79 1.59 -1.06 0.51 -1.84 1.91 0.08z" fill="#000" stroke="#000" stroke-width="0.4" stroke-linejoin="round"/>
<text class="b" x="1382.15" y="1102.2" font-size="33">P</text>
<text class="s" x="1402.67" y="1414.6" font-size="30">12</text>
<text class="s" x="1439.45" y="1414.6" font-size="30">15</text>
<text class="s" x="1477.75" y="1414.6" font-size="30">18</text>
<text class="s" x="1521.52" y="1414.6" font-size="30">21</text>
<text class="s" x="1558.8" y="1414.6" font-size="30">00</text>
<text class="s" x="1595.8" y="1414.6" font-size="30">03</text>
<text class="s" x="1633.95" y="1414.6" font-size="30">06</text>
<text class="s" x="1669.8" y="1414.6" font-size="30">09</text>
<text class="s" x="1708.77" y="1414.6" font-size="30">12</text>
<text class="s i n" x="142.09" y="29.7" font-size="37">Prochlorococcus</text>
<text class="s i n" x="621.73" y="30.8" font-size="37">Synechococcus</text>
<text class="s n" x="1012.99" y="31.7" font-size="37">Picoeukaryotes</text>
<text class="s n" x="1376.99" y="32.6" font-size="37">Heterotrophic prokaryotes</text>
<text class="s n" x="788.49" y="1474" font-size="37">Local time (h)</text>
<text class="s n" transform="translate(43,847.4) rotate(-90)" x="0" y="0" font-size="37">Biovolume (μm<tspan dy="-14.5" font-size="33">3</tspan><tspan dx="3" dy="14.5">)</tspan></text>
</svg></body></html>
